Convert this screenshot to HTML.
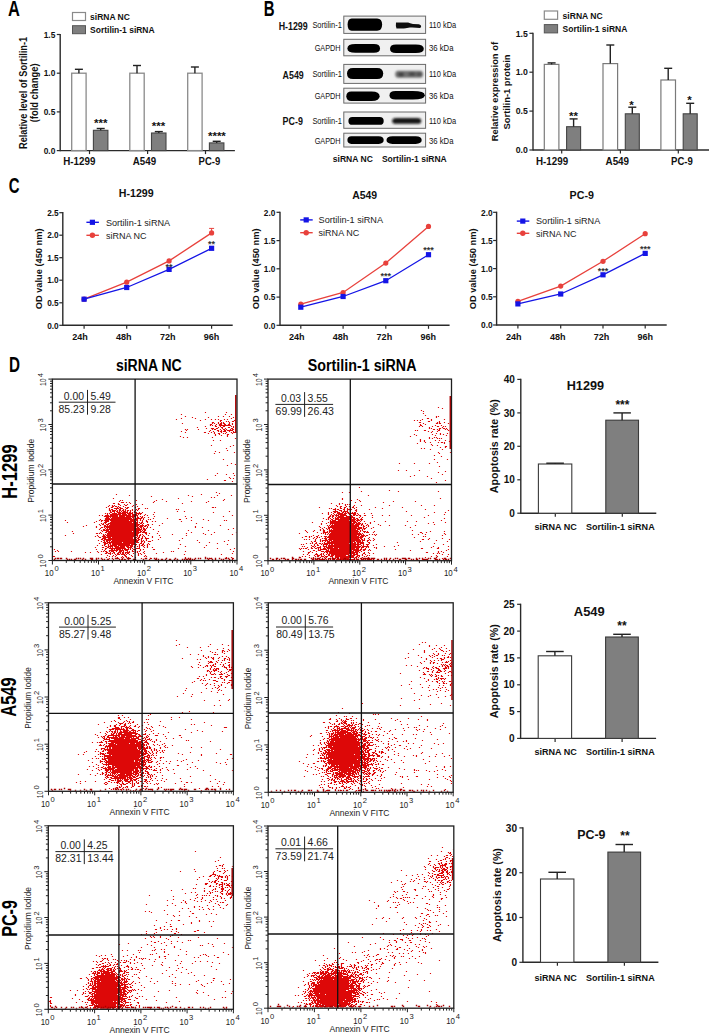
<!DOCTYPE html>
<html><head><meta charset="utf-8"><style>html,body{margin:0;padding:0;background:#fff;}svg{display:block;}</style></head>
<body><svg width="709" height="1034" viewBox="0 0 709 1034" font-family="Liberation Sans, sans-serif">
<rect width="709" height="1034" fill="#fff"/>
<text x="8.0" y="15.9" textLength="11.9" lengthAdjust="spacingAndGlyphs" font-weight="bold" font-size="21.5" fill="#000">A</text>
<rect x="72.5" y="12.5" width="13.0" height="8.0" fill="#fff" stroke="#8a8a8a" stroke-width="1.2"/>
<rect x="72.5" y="25.7" width="13.0" height="8.0" fill="#7f7f7f" stroke="#555" stroke-width="1"/>
<text x="90.1" y="19.8" textLength="39.8" lengthAdjust="spacingAndGlyphs" font-weight="bold" font-size="8.5" fill="#111">siRNA NC</text>
<text x="90.1" y="32.5" textLength="64.5" lengthAdjust="spacingAndGlyphs" font-weight="bold" font-size="8.5" fill="#111">Sortilin-1 siRNA</text>
<line x1="60.2" y1="33.9" x2="60.2" y2="151.2" stroke="#2a2a2a" stroke-width="1.4"/>
<line x1="60.2" y1="150.6" x2="234.9" y2="150.6" stroke="#2a2a2a" stroke-width="1.4"/>
<line x1="56.8" y1="150.6" x2="60.2" y2="150.6" stroke="#2a2a2a" stroke-width="1.2"/>
<text x="43.7" y="153.8" textLength="11.6" lengthAdjust="spacingAndGlyphs" font-weight="bold" font-size="9.3" fill="#111">0.0</text>
<line x1="56.8" y1="111.9" x2="60.2" y2="111.9" stroke="#2a2a2a" stroke-width="1.2"/>
<text x="43.7" y="115.1" textLength="11.6" lengthAdjust="spacingAndGlyphs" font-weight="bold" font-size="9.3" fill="#111">0.5</text>
<line x1="56.8" y1="73.2" x2="60.2" y2="73.2" stroke="#2a2a2a" stroke-width="1.2"/>
<text x="43.7" y="76.4" textLength="11.6" lengthAdjust="spacingAndGlyphs" font-weight="bold" font-size="9.3" fill="#111">1.0</text>
<line x1="56.8" y1="34.5" x2="60.2" y2="34.5" stroke="#2a2a2a" stroke-width="1.2"/>
<text x="43.7" y="37.7" textLength="11.6" lengthAdjust="spacingAndGlyphs" font-weight="bold" font-size="9.3" fill="#111">1.5</text>
<text transform="translate(27.0,149.0) rotate(-90)" x="0" y="0" textLength="112.2" lengthAdjust="spacingAndGlyphs" font-weight="bold" font-size="10.3" fill="#111">Relative level of Sortilin-1</text>
<text transform="translate(37.6,122.3) rotate(-90)" x="0" y="0" textLength="58.8" lengthAdjust="spacingAndGlyphs" font-weight="bold" font-size="10.3" fill="#111">(fold change)</text>
<line x1="89.5" y1="150.6" x2="89.5" y2="154.1" stroke="#2a2a2a" stroke-width="1.2"/>
<rect x="71.7" y="73.2" width="14.4" height="77.4" fill="#fff" stroke="#8a8a8a" stroke-width="1.3"/>
<line x1="78.9" y1="73.2" x2="78.9" y2="69.3" stroke="#222" stroke-width="1.4"/>
<line x1="74.9" y1="69.3" x2="82.9" y2="69.3" stroke="#222" stroke-width="1.4"/>
<rect x="93.4" y="130.3" width="14.5" height="20.3" fill="#7f7f7f" stroke="#444" stroke-width="1.1"/>
<line x1="100.7" y1="130.3" x2="100.7" y2="128.5" stroke="#222" stroke-width="1.4"/>
<line x1="96.7" y1="128.5" x2="104.7" y2="128.5" stroke="#222" stroke-width="1.4"/>
<line x1="147.6" y1="150.6" x2="147.6" y2="154.1" stroke="#2a2a2a" stroke-width="1.2"/>
<rect x="129.8" y="73.2" width="14.4" height="77.4" fill="#fff" stroke="#8a8a8a" stroke-width="1.3"/>
<line x1="137.0" y1="73.2" x2="137.0" y2="65.5" stroke="#222" stroke-width="1.4"/>
<line x1="133.0" y1="65.5" x2="141.0" y2="65.5" stroke="#222" stroke-width="1.4"/>
<rect x="151.5" y="133.0" width="14.5" height="17.6" fill="#7f7f7f" stroke="#444" stroke-width="1.1"/>
<line x1="158.8" y1="133.0" x2="158.8" y2="131.6" stroke="#222" stroke-width="1.4"/>
<line x1="154.8" y1="131.6" x2="162.8" y2="131.6" stroke="#222" stroke-width="1.4"/>
<line x1="205.5" y1="150.6" x2="205.5" y2="154.1" stroke="#2a2a2a" stroke-width="1.2"/>
<rect x="187.7" y="73.2" width="14.4" height="77.4" fill="#fff" stroke="#8a8a8a" stroke-width="1.3"/>
<line x1="194.9" y1="73.2" x2="194.9" y2="67.0" stroke="#222" stroke-width="1.4"/>
<line x1="190.9" y1="67.0" x2="198.9" y2="67.0" stroke="#222" stroke-width="1.4"/>
<rect x="209.4" y="142.9" width="14.5" height="7.7" fill="#7f7f7f" stroke="#444" stroke-width="1.1"/>
<line x1="216.7" y1="142.9" x2="216.7" y2="141.3" stroke="#222" stroke-width="1.4"/>
<line x1="212.7" y1="141.3" x2="220.7" y2="141.3" stroke="#222" stroke-width="1.4"/>
<text x="63.3" y="165.3" textLength="32.1" lengthAdjust="spacingAndGlyphs" font-weight="bold" font-size="10" fill="#111">H-1299</text>
<text x="132.8" y="165.3" textLength="23.3" lengthAdjust="spacingAndGlyphs" font-weight="bold" font-size="10" fill="#111">A549</text>
<text x="198.6" y="165.3" textLength="21.7" lengthAdjust="spacingAndGlyphs" font-weight="bold" font-size="10" fill="#111">PC-9</text>
<text x="100.7" y="126.5" text-anchor="middle" font-size="11.5" font-weight="bold" fill="#111">***</text>
<text x="158.5" y="130.3" text-anchor="middle" font-size="11.5" font-weight="bold" fill="#111">***</text>
<text x="216.9" y="139.6" text-anchor="middle" font-size="11.5" font-weight="bold" fill="#111">****</text>
<text x="263.7" y="15.9" textLength="10.8" lengthAdjust="spacingAndGlyphs" font-weight="bold" font-size="21.5" fill="#000">B</text>
<rect x="343.8" y="16.1" width="81.8" height="17.3" fill="#f0f0f0" stroke="#6a6a6a" stroke-width="1.0"/>
<rect x="343.8" y="39.3" width="81.8" height="16.5" fill="#f0f0f0" stroke="#6a6a6a" stroke-width="1.0"/>
<rect x="343.8" y="64.4" width="81.8" height="19.0" fill="#f0f0f0" stroke="#6a6a6a" stroke-width="1.0"/>
<rect x="343.8" y="88.2" width="81.8" height="14.9" fill="#f0f0f0" stroke="#6a6a6a" stroke-width="1.0"/>
<rect x="343.8" y="112.0" width="81.8" height="16.3" fill="#f0f0f0" stroke="#6a6a6a" stroke-width="1.0"/>
<rect x="343.8" y="133.2" width="81.8" height="13.8" fill="#f0f0f0" stroke="#6a6a6a" stroke-width="1.0"/>
<filter id="bl" x="-10%" y="-30%" width="120%" height="160%"><feGaussianBlur stdDeviation="0.55"/></filter>
<filter id="bl2" x="-10%" y="-40%" width="120%" height="180%"><feGaussianBlur stdDeviation="0.9"/></filter>
<g filter="url(#bl)">
<path d="M351.6,18.4 L377.1,18.4 Q382.1,18.4 382.1,24.6 Q382.1,30.8 377.1,30.8 L351.6,30.8 Q347.6,30.8 347.6,24.6 Q347.6,18.4 351.6,18.4Z" fill="#000"/>
<path d="M396,22.4 L408,22.6 Q410,23.6 413,24 L419,24.3 Q421.5,25 421.2,27 L420,28 Q414,27.4 410,27.6 L404,28.4 L396.5,28.5 Q395.5,25.5 396,22.4Z" fill="#111"/>
<path d="M355.4,44.1 L374.0,44.1 Q380.0,44.1 380.0,48.4 Q380.0,52.7 374.0,52.7 L355.4,52.7 Q347.4,52.7 347.4,48.4 Q347.4,44.1 355.4,44.1Z" fill="#000"/>
<path d="M396.0,44.4 L415.8,44.4 Q423.8,44.4 423.8,48.7 Q423.8,53.0 415.8,53.0 L396.0,53.0 Q390.0,53.0 390.0,48.7 Q390.0,44.4 396.0,44.4Z" fill="#000"/>
<path d="M353.0,67.9 L377.2,67.9 Q383.2,67.9 383.2,73.5 Q383.2,79.0 377.2,79.0 L353.0,79.0 Q347.0,79.0 347.0,73.5 Q347.0,67.9 353.0,67.9Z" fill="#050505"/>
<path d="M351.3,91.5 L371.6,91.5 Q379.6,91.5 379.6,96.2 Q379.6,100.9 371.6,100.9 L351.3,100.9 Q346.3,100.9 346.3,96.2 Q346.3,91.5 351.3,91.5Z" fill="#000"/>
<path d="M395.5,91.1 L412.8,91.1 Q424.8,91.1 424.8,95.3 Q424.8,99.6 412.8,99.6 L395.5,99.6 Q389.5,99.6 389.5,95.3 Q389.5,91.1 395.5,91.1Z" fill="#000"/>
<path d="M352.4,117.0 L379.7,117.0 Q383.7,117.0 383.7,120.9 Q383.7,124.8 379.7,124.8 L352.4,124.8 Q348.4,124.8 348.4,120.9 Q348.4,117.0 352.4,117.0Z" fill="#060606"/>
<path d="M392.5,136.3 L415.7,136.3 Q421.7,136.3 421.7,140.1 Q421.7,143.9 415.7,143.9 L392.5,143.9 Q386.5,143.9 386.5,140.1 Q386.5,136.3 392.5,136.3Z" fill="#000"/>
<path d="M351.4,136.3 L378.7,136.3 Q383.7,136.3 383.7,140.1 Q383.7,143.9 378.7,143.9 L351.4,143.9 Q347.4,143.9 347.4,140.1 Q347.4,136.3 351.4,136.3Z" fill="#000"/>
</g>
<g filter="url(#bl2)">
<path d="M398.2,70.8 L420.1,70.8 Q423.1,70.8 423.1,74.3 Q423.1,77.8 420.1,77.8 L398.2,77.8 Q395.2,77.8 395.2,74.3 Q395.2,70.8 398.2,70.8Z" fill="#6e6e6e"/>
<ellipse cx="401" cy="74.5" rx="3" ry="2.2" fill="#444"/><ellipse cx="412" cy="74" rx="3.5" ry="2" fill="#4a4a4a"/><ellipse cx="419" cy="74.3" rx="2.5" ry="2" fill="#505050"/>
<path d="M396.1,118.0 L417.3,118.0 Q421.3,118.0 421.3,120.9 Q421.3,123.8 417.3,123.8 L396.1,123.8 Q392.1,123.8 392.1,120.9 Q392.1,118.0 396.1,118.0Z" fill="#151515"/>
</g>
<text x="278.7" y="30.3" textLength="29.0" lengthAdjust="spacingAndGlyphs" font-weight="bold" font-size="11" fill="#111">H-1299</text>
<text x="282.6" y="78.5" textLength="21.1" lengthAdjust="spacingAndGlyphs" font-weight="bold" font-size="11" fill="#111">A549</text>
<text x="282.6" y="125.0" textLength="20.3" lengthAdjust="spacingAndGlyphs" font-weight="bold" font-size="11" fill="#111">PC-9</text>
<text x="312.4" y="28.2" textLength="29.4" lengthAdjust="spacingAndGlyphs" font-size="9.5" fill="#111">Sortilin-1</text>
<text x="429.0" y="28.2" textLength="27.2" lengthAdjust="spacingAndGlyphs" font-size="9.5" fill="#111">110 kDa</text>
<text x="314.7" y="50.9" textLength="25.9" lengthAdjust="spacingAndGlyphs" font-size="9.5" fill="#111">GAPDH</text>
<text x="429.0" y="50.9" textLength="24.5" lengthAdjust="spacingAndGlyphs" font-size="9.5" fill="#111">36 kDa</text>
<text x="312.4" y="77.1" textLength="29.4" lengthAdjust="spacingAndGlyphs" font-size="9.5" fill="#111">Sortilin-1</text>
<text x="429.0" y="77.1" textLength="27.2" lengthAdjust="spacingAndGlyphs" font-size="9.5" fill="#111">110 kDa</text>
<text x="314.7" y="99.0" textLength="25.9" lengthAdjust="spacingAndGlyphs" font-size="9.5" fill="#111">GAPDH</text>
<text x="429.0" y="99.0" textLength="24.5" lengthAdjust="spacingAndGlyphs" font-size="9.5" fill="#111">36 kDa</text>
<text x="312.4" y="123.6" textLength="29.4" lengthAdjust="spacingAndGlyphs" font-size="9.5" fill="#111">Sortilin-1</text>
<text x="429.0" y="123.6" textLength="27.2" lengthAdjust="spacingAndGlyphs" font-size="9.5" fill="#111">110 kDa</text>
<text x="314.7" y="143.5" textLength="25.9" lengthAdjust="spacingAndGlyphs" font-size="9.5" fill="#111">GAPDH</text>
<text x="429.0" y="143.5" textLength="24.5" lengthAdjust="spacingAndGlyphs" font-size="9.5" fill="#111">36 kDa</text>
<text x="332.8" y="162.3" textLength="40.0" lengthAdjust="spacingAndGlyphs" font-weight="bold" font-size="9.5" fill="#111">siRNA NC</text>
<text x="381.9" y="162.3" textLength="64.8" lengthAdjust="spacingAndGlyphs" font-weight="bold" font-size="9.5" fill="#111">Sortilin-1 siRNA</text>
<rect x="544.3" y="11.0" width="13.3" height="8.3" fill="#fff" stroke="#8a8a8a" stroke-width="1.2"/>
<rect x="544.3" y="24.6" width="13.3" height="8.3" fill="#7f7f7f" stroke="#555" stroke-width="1"/>
<text x="562.6" y="18.6" textLength="40.1" lengthAdjust="spacingAndGlyphs" font-weight="bold" font-size="8.5" fill="#111">siRNA NC</text>
<text x="562.6" y="31.8" textLength="64.7" lengthAdjust="spacingAndGlyphs" font-weight="bold" font-size="8.5" fill="#111">Sortilin-1 siRNA</text>
<line x1="533.0" y1="32.7" x2="533.0" y2="150.6" stroke="#2a2a2a" stroke-width="1.4"/>
<line x1="533.0" y1="150.0" x2="709.0" y2="150.0" stroke="#2a2a2a" stroke-width="1.4"/>
<line x1="529.4" y1="150.0" x2="533.0" y2="150.0" stroke="#2a2a2a" stroke-width="1.2"/>
<text x="515.7" y="153.2" textLength="12.1" lengthAdjust="spacingAndGlyphs" font-weight="bold" font-size="9.3" fill="#111">0.0</text>
<line x1="529.4" y1="111.1" x2="533.0" y2="111.1" stroke="#2a2a2a" stroke-width="1.2"/>
<text x="515.7" y="114.3" textLength="12.1" lengthAdjust="spacingAndGlyphs" font-weight="bold" font-size="9.3" fill="#111">0.5</text>
<line x1="529.4" y1="72.2" x2="533.0" y2="72.2" stroke="#2a2a2a" stroke-width="1.2"/>
<text x="515.7" y="75.4" textLength="12.1" lengthAdjust="spacingAndGlyphs" font-weight="bold" font-size="9.3" fill="#111">1.0</text>
<line x1="529.4" y1="33.3" x2="533.0" y2="33.3" stroke="#2a2a2a" stroke-width="1.2"/>
<text x="515.7" y="36.5" textLength="12.1" lengthAdjust="spacingAndGlyphs" font-weight="bold" font-size="9.3" fill="#111">1.5</text>
<text transform="translate(497.9,141.2) rotate(-90)" x="0" y="0" textLength="99.2" lengthAdjust="spacingAndGlyphs" font-weight="bold" font-size="9.6" fill="#111">Relative expression of</text>
<text transform="translate(509.7,129.4) rotate(-90)" x="0" y="0" textLength="75.0" lengthAdjust="spacingAndGlyphs" font-weight="bold" font-size="9.6" fill="#111">Sortilin-1 protein</text>
<line x1="561.7" y1="150.0" x2="561.7" y2="153.5" stroke="#2a2a2a" stroke-width="1.2"/>
<rect x="544.3" y="64.4" width="14.6" height="85.6" fill="#fff" stroke="#7a7a7a" stroke-width="1.2"/>
<line x1="551.6" y1="64.4" x2="551.6" y2="62.9" stroke="#222" stroke-width="1.4"/>
<line x1="547.6" y1="62.9" x2="555.6" y2="62.9" stroke="#222" stroke-width="1.4"/>
<rect x="566.6" y="126.7" width="14.0" height="23.3" fill="#7f7f7f" stroke="#444" stroke-width="1.1"/>
<line x1="573.6" y1="126.7" x2="573.6" y2="118.9" stroke="#222" stroke-width="1.4"/>
<line x1="569.6" y1="118.9" x2="577.6" y2="118.9" stroke="#222" stroke-width="1.4"/>
<line x1="620.4" y1="150.0" x2="620.4" y2="153.5" stroke="#2a2a2a" stroke-width="1.2"/>
<rect x="603.0" y="63.6" width="14.6" height="86.4" fill="#fff" stroke="#7a7a7a" stroke-width="1.2"/>
<line x1="610.3" y1="63.6" x2="610.3" y2="45.0" stroke="#222" stroke-width="1.4"/>
<line x1="606.3" y1="45.0" x2="614.3" y2="45.0" stroke="#222" stroke-width="1.4"/>
<rect x="625.3" y="113.8" width="14.0" height="36.2" fill="#7f7f7f" stroke="#444" stroke-width="1.1"/>
<line x1="632.3" y1="113.8" x2="632.3" y2="107.2" stroke="#222" stroke-width="1.4"/>
<line x1="628.3" y1="107.2" x2="636.3" y2="107.2" stroke="#222" stroke-width="1.4"/>
<line x1="678.3" y1="150.0" x2="678.3" y2="153.5" stroke="#2a2a2a" stroke-width="1.2"/>
<rect x="660.9" y="80.0" width="14.6" height="70.0" fill="#fff" stroke="#7a7a7a" stroke-width="1.2"/>
<line x1="668.2" y1="80.0" x2="668.2" y2="68.3" stroke="#222" stroke-width="1.4"/>
<line x1="664.2" y1="68.3" x2="672.2" y2="68.3" stroke="#222" stroke-width="1.4"/>
<rect x="683.2" y="113.8" width="14.0" height="36.2" fill="#7f7f7f" stroke="#444" stroke-width="1.1"/>
<line x1="690.2" y1="113.8" x2="690.2" y2="103.3" stroke="#222" stroke-width="1.4"/>
<line x1="686.2" y1="103.3" x2="694.2" y2="103.3" stroke="#222" stroke-width="1.4"/>
<text x="536.0" y="164.5" textLength="32.1" lengthAdjust="spacingAndGlyphs" font-weight="bold" font-size="10" fill="#111">H-1299</text>
<text x="605.5" y="164.5" textLength="23.6" lengthAdjust="spacingAndGlyphs" font-weight="bold" font-size="10" fill="#111">A549</text>
<text x="671.0" y="164.5" textLength="21.8" lengthAdjust="spacingAndGlyphs" font-weight="bold" font-size="10" fill="#111">PC-9</text>
<text x="573.5" y="120.1" text-anchor="middle" font-size="11.5" font-weight="bold" fill="#111">**</text>
<text x="631.4" y="108.6" text-anchor="middle" font-size="11.5" font-weight="bold" fill="#111">*</text>
<text x="689.4" y="104.1" text-anchor="middle" font-size="11.5" font-weight="bold" fill="#111">*</text>
<text x="8.7" y="193.4" textLength="10.8" lengthAdjust="spacingAndGlyphs" font-weight="bold" font-size="21.5" fill="#000">C</text>
<line x1="62.8" y1="212.1" x2="62.8" y2="326.0" stroke="#2a2a2a" stroke-width="1.4"/>
<line x1="62.8" y1="325.3" x2="232.7" y2="325.3" stroke="#2a2a2a" stroke-width="1.4"/>
<line x1="59.3" y1="325.3" x2="62.8" y2="325.3" stroke="#2a2a2a" stroke-width="1.2"/>
<text x="47.2" y="328.5" textLength="11.5" lengthAdjust="spacingAndGlyphs" font-weight="bold" font-size="9" fill="#111">0.0</text>
<line x1="59.3" y1="302.8" x2="62.8" y2="302.8" stroke="#2a2a2a" stroke-width="1.2"/>
<text x="47.2" y="306.0" textLength="11.5" lengthAdjust="spacingAndGlyphs" font-weight="bold" font-size="9" fill="#111">0.5</text>
<line x1="59.3" y1="280.2" x2="62.8" y2="280.2" stroke="#2a2a2a" stroke-width="1.2"/>
<text x="47.2" y="283.4" textLength="11.5" lengthAdjust="spacingAndGlyphs" font-weight="bold" font-size="9" fill="#111">1.0</text>
<line x1="59.3" y1="257.7" x2="62.8" y2="257.7" stroke="#2a2a2a" stroke-width="1.2"/>
<text x="47.2" y="260.9" textLength="11.5" lengthAdjust="spacingAndGlyphs" font-weight="bold" font-size="9" fill="#111">1.5</text>
<line x1="59.3" y1="235.2" x2="62.8" y2="235.2" stroke="#2a2a2a" stroke-width="1.2"/>
<text x="47.2" y="238.4" textLength="11.5" lengthAdjust="spacingAndGlyphs" font-weight="bold" font-size="9" fill="#111">2.0</text>
<line x1="59.3" y1="212.7" x2="62.8" y2="212.7" stroke="#2a2a2a" stroke-width="1.2"/>
<text x="47.2" y="215.9" textLength="11.5" lengthAdjust="spacingAndGlyphs" font-weight="bold" font-size="9" fill="#111">2.5</text>
<line x1="84.1" y1="325.3" x2="84.1" y2="328.8" stroke="#2a2a2a" stroke-width="1.2"/>
<text x="72.2" y="340.0" textLength="15.6" lengthAdjust="spacingAndGlyphs" font-weight="bold" font-size="8.8" fill="#111">24h</text>
<line x1="126.7" y1="325.3" x2="126.7" y2="328.8" stroke="#2a2a2a" stroke-width="1.2"/>
<text x="116.0" y="340.0" textLength="15.6" lengthAdjust="spacingAndGlyphs" font-weight="bold" font-size="8.8" fill="#111">48h</text>
<line x1="169.1" y1="325.3" x2="169.1" y2="328.8" stroke="#2a2a2a" stroke-width="1.2"/>
<text x="159.9" y="340.0" textLength="15.6" lengthAdjust="spacingAndGlyphs" font-weight="bold" font-size="8.8" fill="#111">72h</text>
<line x1="211.6" y1="325.3" x2="211.6" y2="328.8" stroke="#2a2a2a" stroke-width="1.2"/>
<text x="203.8" y="340.0" textLength="15.6" lengthAdjust="spacingAndGlyphs" font-weight="bold" font-size="8.8" fill="#111">96h</text>
<text x="118.8" y="197.4" textLength="34.9" lengthAdjust="spacingAndGlyphs" font-weight="bold" font-size="10.5" fill="#111">H-1299</text>
<text transform="translate(41.6,309.3) rotate(-90)" x="0" y="0" textLength="80.8" lengthAdjust="spacingAndGlyphs" font-weight="bold" font-size="9.8" fill="#111">OD value (450 nm)</text>
<line x1="86.4" y1="222.3" x2="98.9" y2="222.3" stroke="#1414e6" stroke-width="1.4"/>
<rect x="89.8" y="219.7" width="5.2" height="5.2" fill="#1414e6"/>
<line x1="86.4" y1="235.3" x2="98.9" y2="235.3" stroke="#e8413c" stroke-width="1.4"/>
<circle cx="92.4" cy="235.3" r="2.7" fill="#e8413c"/>
<text x="105.9" y="225.6" textLength="64.2" lengthAdjust="spacingAndGlyphs" font-size="9.5" fill="#222">Sortilin-1 siRNA</text>
<text x="105.9" y="238.6" textLength="40.5" lengthAdjust="spacingAndGlyphs" font-size="9.5" fill="#222">siRNA NC</text>
<polyline points="84.1,299.2 126.7,282.2 169.1,260.9 211.6,232.9" fill="none" stroke="#e8413c" stroke-width="1.3"/>
<line x1="211.6" y1="232.9" x2="211.6" y2="228.4" stroke="#e8413c" stroke-width="1.0"/>
<line x1="209.1" y1="228.4" x2="214.1" y2="228.4" stroke="#e8413c" stroke-width="1.0"/>
<circle cx="84.1" cy="299.2" r="2.6" fill="#e8413c"/>
<circle cx="126.7" cy="282.2" r="2.6" fill="#e8413c"/>
<circle cx="169.1" cy="260.9" r="2.6" fill="#e8413c"/>
<circle cx="211.6" cy="232.9" r="2.6" fill="#e8413c"/>
<polyline points="84.1,299.2 126.7,287.5 169.1,269.4 211.6,248.3" fill="none" stroke="#1414e6" stroke-width="1.3"/>
<rect x="81.5" y="296.6" width="5.2" height="5.2" fill="#1414e6"/>
<rect x="124.1" y="284.9" width="5.2" height="5.2" fill="#1414e6"/>
<rect x="166.5" y="266.8" width="5.2" height="5.2" fill="#1414e6"/>
<rect x="209.0" y="245.7" width="5.2" height="5.2" fill="#1414e6"/>
<text x="169.1" y="270.1" text-anchor="middle" font-size="9" font-weight="bold" fill="#333">**</text>
<text x="211.6" y="247.4" text-anchor="middle" font-size="9" font-weight="bold" fill="#333">**</text>
<line x1="280.0" y1="211.7" x2="280.0" y2="326.0" stroke="#2a2a2a" stroke-width="1.4"/>
<line x1="280.0" y1="325.3" x2="449.6" y2="325.3" stroke="#2a2a2a" stroke-width="1.4"/>
<line x1="276.5" y1="325.3" x2="280.0" y2="325.3" stroke="#2a2a2a" stroke-width="1.2"/>
<text x="263.8" y="328.5" textLength="11.5" lengthAdjust="spacingAndGlyphs" font-weight="bold" font-size="9" fill="#111">0.0</text>
<line x1="276.5" y1="297.1" x2="280.0" y2="297.1" stroke="#2a2a2a" stroke-width="1.2"/>
<text x="263.8" y="300.2" textLength="11.5" lengthAdjust="spacingAndGlyphs" font-weight="bold" font-size="9" fill="#111">0.5</text>
<line x1="276.5" y1="268.8" x2="280.0" y2="268.8" stroke="#2a2a2a" stroke-width="1.2"/>
<text x="263.8" y="272.0" textLength="11.5" lengthAdjust="spacingAndGlyphs" font-weight="bold" font-size="9" fill="#111">1.0</text>
<line x1="276.5" y1="240.6" x2="280.0" y2="240.6" stroke="#2a2a2a" stroke-width="1.2"/>
<text x="263.8" y="243.8" textLength="11.5" lengthAdjust="spacingAndGlyphs" font-weight="bold" font-size="9" fill="#111">1.5</text>
<line x1="276.5" y1="212.3" x2="280.0" y2="212.3" stroke="#2a2a2a" stroke-width="1.2"/>
<text x="263.8" y="215.5" textLength="11.5" lengthAdjust="spacingAndGlyphs" font-weight="bold" font-size="9" fill="#111">2.0</text>
<line x1="300.8" y1="325.3" x2="300.8" y2="328.8" stroke="#2a2a2a" stroke-width="1.2"/>
<text x="288.9" y="340.0" textLength="15.6" lengthAdjust="spacingAndGlyphs" font-weight="bold" font-size="8.8" fill="#111">24h</text>
<line x1="343.1" y1="325.3" x2="343.1" y2="328.8" stroke="#2a2a2a" stroke-width="1.2"/>
<text x="332.8" y="340.0" textLength="15.6" lengthAdjust="spacingAndGlyphs" font-weight="bold" font-size="8.8" fill="#111">48h</text>
<line x1="385.8" y1="325.3" x2="385.8" y2="328.8" stroke="#2a2a2a" stroke-width="1.2"/>
<text x="376.6" y="340.0" textLength="15.6" lengthAdjust="spacingAndGlyphs" font-weight="bold" font-size="8.8" fill="#111">72h</text>
<line x1="428.5" y1="325.3" x2="428.5" y2="328.8" stroke="#2a2a2a" stroke-width="1.2"/>
<text x="420.4" y="340.0" textLength="15.6" lengthAdjust="spacingAndGlyphs" font-weight="bold" font-size="8.8" fill="#111">96h</text>
<text x="352.2" y="199.4" textLength="25.0" lengthAdjust="spacingAndGlyphs" font-weight="bold" font-size="10.5" fill="#111">A549</text>
<text transform="translate(258.8,309.3) rotate(-90)" x="0" y="0" textLength="80.8" lengthAdjust="spacingAndGlyphs" font-weight="bold" font-size="9.8" fill="#111">OD value (450 nm)</text>
<line x1="300.2" y1="219.9" x2="312.7" y2="219.9" stroke="#1414e6" stroke-width="1.4"/>
<rect x="303.6" y="217.3" width="5.2" height="5.2" fill="#1414e6"/>
<line x1="300.2" y1="232.7" x2="312.7" y2="232.7" stroke="#e8413c" stroke-width="1.4"/>
<circle cx="306.2" cy="232.7" r="2.7" fill="#e8413c"/>
<text x="318.6" y="223.2" textLength="64.4" lengthAdjust="spacingAndGlyphs" font-size="9.5" fill="#222">Sortilin-1 siRNA</text>
<text x="318.6" y="236.0" textLength="40.6" lengthAdjust="spacingAndGlyphs" font-size="9.5" fill="#222">siRNA NC</text>
<polyline points="300.8,304.2 343.1,292.5 385.8,263.1 428.5,226.4" fill="none" stroke="#e8413c" stroke-width="1.3"/>
<circle cx="300.8" cy="304.2" r="2.6" fill="#e8413c"/>
<circle cx="343.1" cy="292.5" r="2.6" fill="#e8413c"/>
<circle cx="385.8" cy="263.1" r="2.6" fill="#e8413c"/>
<circle cx="428.5" cy="226.4" r="2.6" fill="#e8413c"/>
<polyline points="300.8,307.2 343.1,296.5 385.8,280.7 428.5,254.7" fill="none" stroke="#1414e6" stroke-width="1.3"/>
<rect x="298.2" y="304.6" width="5.2" height="5.2" fill="#1414e6"/>
<rect x="340.5" y="293.9" width="5.2" height="5.2" fill="#1414e6"/>
<rect x="383.2" y="278.1" width="5.2" height="5.2" fill="#1414e6"/>
<rect x="425.9" y="252.1" width="5.2" height="5.2" fill="#1414e6"/>
<text x="385.8" y="279.4" text-anchor="middle" font-size="9" font-weight="bold" fill="#333">***</text>
<text x="428.5" y="253.3" text-anchor="middle" font-size="9" font-weight="bold" fill="#333">***</text>
<line x1="496.6" y1="211.7" x2="496.6" y2="325.7" stroke="#2a2a2a" stroke-width="1.4"/>
<line x1="496.6" y1="325.0" x2="666.7" y2="325.0" stroke="#2a2a2a" stroke-width="1.4"/>
<line x1="493.1" y1="325.0" x2="496.6" y2="325.0" stroke="#2a2a2a" stroke-width="1.2"/>
<text x="481.0" y="328.2" textLength="11.6" lengthAdjust="spacingAndGlyphs" font-weight="bold" font-size="9" fill="#111">0.0</text>
<line x1="493.1" y1="296.8" x2="496.6" y2="296.8" stroke="#2a2a2a" stroke-width="1.2"/>
<text x="481.0" y="300.0" textLength="11.6" lengthAdjust="spacingAndGlyphs" font-weight="bold" font-size="9" fill="#111">0.5</text>
<line x1="493.1" y1="268.6" x2="496.6" y2="268.6" stroke="#2a2a2a" stroke-width="1.2"/>
<text x="481.0" y="271.8" textLength="11.6" lengthAdjust="spacingAndGlyphs" font-weight="bold" font-size="9" fill="#111">1.0</text>
<line x1="493.1" y1="240.5" x2="496.6" y2="240.5" stroke="#2a2a2a" stroke-width="1.2"/>
<text x="481.0" y="243.7" textLength="11.6" lengthAdjust="spacingAndGlyphs" font-weight="bold" font-size="9" fill="#111">1.5</text>
<line x1="493.1" y1="212.3" x2="496.6" y2="212.3" stroke="#2a2a2a" stroke-width="1.2"/>
<text x="481.0" y="215.5" textLength="11.6" lengthAdjust="spacingAndGlyphs" font-weight="bold" font-size="9" fill="#111">2.0</text>
<line x1="517.9" y1="325.0" x2="517.9" y2="328.5" stroke="#2a2a2a" stroke-width="1.2"/>
<text x="506.0" y="339.7" textLength="15.6" lengthAdjust="spacingAndGlyphs" font-weight="bold" font-size="8.8" fill="#111">24h</text>
<line x1="560.7" y1="325.0" x2="560.7" y2="328.5" stroke="#2a2a2a" stroke-width="1.2"/>
<text x="549.9" y="339.7" textLength="15.6" lengthAdjust="spacingAndGlyphs" font-weight="bold" font-size="8.8" fill="#111">48h</text>
<line x1="603.0" y1="325.0" x2="603.0" y2="328.5" stroke="#2a2a2a" stroke-width="1.2"/>
<text x="593.7" y="339.7" textLength="15.6" lengthAdjust="spacingAndGlyphs" font-weight="bold" font-size="8.8" fill="#111">72h</text>
<line x1="645.2" y1="325.0" x2="645.2" y2="328.5" stroke="#2a2a2a" stroke-width="1.2"/>
<text x="637.5" y="339.7" textLength="15.6" lengthAdjust="spacingAndGlyphs" font-weight="bold" font-size="8.8" fill="#111">96h</text>
<text x="569.6" y="199.4" textLength="24.3" lengthAdjust="spacingAndGlyphs" font-weight="bold" font-size="10.5" fill="#111">PC-9</text>
<text transform="translate(475.7,309.3) rotate(-90)" x="0" y="0" textLength="80.8" lengthAdjust="spacingAndGlyphs" font-weight="bold" font-size="9.8" fill="#111">OD value (450 nm)</text>
<line x1="516.8" y1="221.1" x2="529.3" y2="221.1" stroke="#1414e6" stroke-width="1.4"/>
<rect x="520.2" y="218.5" width="5.2" height="5.2" fill="#1414e6"/>
<line x1="516.8" y1="233.3" x2="529.3" y2="233.3" stroke="#e8413c" stroke-width="1.4"/>
<circle cx="522.8" cy="233.3" r="2.7" fill="#e8413c"/>
<text x="536.0" y="224.4" textLength="64.2" lengthAdjust="spacingAndGlyphs" font-size="9.5" fill="#222">Sortilin-1 siRNA</text>
<text x="536.0" y="236.6" textLength="40.5" lengthAdjust="spacingAndGlyphs" font-size="9.5" fill="#222">siRNA NC</text>
<polyline points="517.9,301.3 560.7,286.1 603.0,261.3 645.2,233.7" fill="none" stroke="#e8413c" stroke-width="1.3"/>
<circle cx="517.9" cy="301.3" r="2.6" fill="#e8413c"/>
<circle cx="560.7" cy="286.1" r="2.6" fill="#e8413c"/>
<circle cx="603.0" cy="261.3" r="2.6" fill="#e8413c"/>
<circle cx="645.2" cy="233.7" r="2.6" fill="#e8413c"/>
<polyline points="517.9,303.9 560.7,294.0 603.0,274.8 645.2,253.4" fill="none" stroke="#1414e6" stroke-width="1.3"/>
<rect x="515.3" y="301.3" width="5.2" height="5.2" fill="#1414e6"/>
<rect x="558.1" y="291.4" width="5.2" height="5.2" fill="#1414e6"/>
<rect x="600.4" y="272.2" width="5.2" height="5.2" fill="#1414e6"/>
<rect x="642.6" y="250.8" width="5.2" height="5.2" fill="#1414e6"/>
<text x="603.0" y="273.9" text-anchor="middle" font-size="9" font-weight="bold" fill="#333">***</text>
<text x="645.2" y="251.7" text-anchor="middle" font-size="9" font-weight="bold" fill="#333">***</text>
<text x="8.9" y="371.8" textLength="11.0" lengthAdjust="spacingAndGlyphs" font-weight="bold" font-size="21.5" fill="#000">D</text>
<text x="115.9" y="370.9" textLength="65.8" lengthAdjust="spacingAndGlyphs" font-weight="bold" font-size="16.8" fill="#000">siRNA NC</text>
<text x="307.8" y="370.9" textLength="108.7" lengthAdjust="spacingAndGlyphs" font-weight="bold" font-size="16.8" fill="#000">Sortilin-1 siRNA</text>
<text transform="translate(16.6,498.7) rotate(-90)" x="0" y="0" textLength="54.4" lengthAdjust="spacingAndGlyphs" font-weight="bold" font-size="21.5" fill="#000">H-1299</text>
<text transform="translate(16.4,716.8) rotate(-90)" x="0" y="0" textLength="39.5" lengthAdjust="spacingAndGlyphs" font-weight="bold" font-size="21.5" fill="#000">A549</text>
<text transform="translate(16.7,936.8) rotate(-90)" x="0" y="0" textLength="36.7" lengthAdjust="spacingAndGlyphs" font-weight="bold" font-size="21.5" fill="#000">PC-9</text>
<clipPath id="c1"><rect x="53.0" y="379.7" width="183.4" height="180.2"/></clipPath>
<g clip-path="url(#c1)">
<path d="M53 556h1.15M54 549h1.15M54 556h1.15M55 551h1.15M57 550h1.15M58 551h1.15M65 520h1.15M65 535h1.15M67 522h1.15M71 551h1.15M72 531h1.15M73 533h1.15M83 526h1.15M85 552h1.15M86 525h1.15M90 552h1.15M94 522h1.15M95 536h1.15M95 547h1.15M96 521h1.15M96 526h1.15M96 527h1.15M96 533h1.15M96 549h1.15M97 533h1.15M97 535h1.15M97 545h1.15M97 551h1.15M98 536h1.15M98 540h1.15M98 552h1.15M99 515h1.15M99 520h1.15M99 524h1.15M99 529h1.15M99 533h1.15M99 537h1.15M99 543h1.15M100 519h1.15M100 525h1.15M100 528h1.15M100 532h1.15M100 537h1.15M101 520h1.15M101 521h1.15M101 523h1.15M101 527h1.15M101 530h1.15M101 533h1.15M101 539h1.15M101 541h1.15M101 551h1.15M101 554h1.15M102 515h1.15M102 520h1.15M102 524h1.15M102 527h1.15M102 531h1.15M102 536h1.15M102 538h1.15M102 539h1.15M102 545h1.15M102 547h1.15M102 549h1.15M103 523h1.15M103 524h1.15M103 529h1.15M103 530h1.15M103 534h1.15M103 535h1.15M103 536h1.15M103 537h1.15M103 538h1.15M103 540h1.15M103 542h1.15M103 547h1.15M103 551h1.15M104 516h1.15M104 520h1.15M104 522h1.15M104 525h1.15M104 526h1.15M104 527h1.15M104 529h1.15M104 530h1.15M104 535h1.15M104 536h1.15M104 537h1.15M104 538h1.15M104 539h1.15M104 540h1.15M104 541h1.15M104 542h1.15M104 543h1.15M104 544h1.15M104 545h1.15M104 550h1.15M105 513h1.15M105 515h1.15M105 516h1.15M105 518h1.15M105 519h1.15M105 520h1.15M105 521h1.15M105 522h1.15M105 523h1.15M105 525h1.15M105 526h1.15M105 528h1.15M105 530h1.15M105 532h1.15M105 534h1.15M105 536h1.15M105 537h1.15M105 538h1.15M105 539h1.15M105 542h1.15M105 543h1.15M105 544h1.15M105 546h1.15M105 548h1.15M105 549h1.15M105 551h1.15M105 553h1.15M106 507h1.15M106 515h1.15M106 516h1.15M106 517h1.15M106 518h1.15M106 519h1.15M106 520h1.15M106 521h1.15M106 522h1.15M106 524h1.15M106 526h1.15M106 527h1.15M106 529h1.15M106 530h1.15M106 531h1.15M106 532h1.15M106 535h1.15M106 537h1.15M106 539h1.15M106 540h1.15M106 541h1.15M106 543h1.15M106 546h1.15M106 548h1.15M106 551h1.15M106 552h1.15M106 553h1.15M106 557h1.15M107 513h1.15M107 514h1.15M107 515h1.15M107 516h1.15M107 517h1.15M107 518h1.15M107 519h1.15M107 520h1.15M107 521h1.15M107 524h1.15M107 525h1.15M107 526h1.15M107 527h1.15M107 528h1.15M107 529h1.15M107 530h1.15M107 531h1.15M107 533h1.15M107 534h1.15M107 535h1.15M107 536h1.15M107 537h1.15M107 539h1.15M107 540h1.15M107 541h1.15M107 542h1.15M107 543h1.15M107 547h1.15M107 552h1.15M107 555h1.15M108 506h1.15M108 515h1.15M108 516h1.15M108 517h1.15M108 518h1.15M108 519h1.15M108 520h1.15M108 521h1.15M108 523h1.15M108 524h1.15M108 526h1.15M108 527h1.15M108 529h1.15M108 530h1.15M108 531h1.15M108 532h1.15M108 533h1.15M108 534h1.15M108 535h1.15M108 536h1.15M108 537h1.15M108 538h1.15M108 539h1.15M108 540h1.15M108 542h1.15M108 544h1.15M108 545h1.15M108 546h1.15M108 547h1.15M108 553h1.15M109 505h1.15M109 508h1.15M109 509h1.15M109 510h1.15M109 513h1.15M109 516h1.15M109 518h1.15M109 519h1.15M109 523h1.15M109 525h1.15M109 526h1.15M109 527h1.15M109 528h1.15M109 529h1.15M109 531h1.15M109 532h1.15M109 533h1.15M109 534h1.15M109 535h1.15M109 536h1.15M109 537h1.15M109 538h1.15M109 539h1.15M109 540h1.15M109 541h1.15M109 542h1.15M109 543h1.15M109 546h1.15M109 548h1.15M109 550h1.15M109 551h1.15M109 553h1.15M109 556h1.15M109 558h1.15M110 510h1.15M110 511h1.15M110 512h1.15M110 514h1.15M110 515h1.15M110 516h1.15M110 517h1.15M110 519h1.15M110 520h1.15M110 522h1.15M110 523h1.15M110 524h1.15M110 525h1.15M110 526h1.15M110 527h1.15M110 528h1.15M110 529h1.15M110 530h1.15M110 531h1.15M110 532h1.15M110 533h1.15M110 534h1.15M110 535h1.15M110 536h1.15M110 537h1.15M110 538h1.15M110 539h1.15M110 540h1.15M110 542h1.15M110 543h1.15M110 544h1.15M110 545h1.15M110 546h1.15M110 547h1.15M110 548h1.15M110 550h1.15M110 552h1.15M110 553h1.15M110 554h1.15M111 507h1.15M111 509h1.15M111 512h1.15M111 514h1.15M111 515h1.15M111 516h1.15M111 518h1.15M111 519h1.15M111 520h1.15M111 521h1.15M111 522h1.15M111 523h1.15M111 524h1.15M111 525h1.15M111 526h1.15M111 527h1.15M111 528h1.15M111 529h1.15M111 530h1.15M111 531h1.15M111 532h1.15M111 533h1.15M111 534h1.15M111 535h1.15M111 536h1.15M111 538h1.15M111 539h1.15M111 541h1.15M111 542h1.15M111 545h1.15M111 546h1.15M111 548h1.15M111 549h1.15M111 550h1.15M111 551h1.15M112 505h1.15M112 506h1.15M112 507h1.15M112 509h1.15M112 510h1.15M112 511h1.15M112 513h1.15M112 514h1.15M112 515h1.15M112 516h1.15M112 517h1.15M112 518h1.15M112 519h1.15M112 520h1.15M112 521h1.15M112 522h1.15M112 523h1.15M112 524h1.15M112 525h1.15M112 526h1.15M112 527h1.15M112 528h1.15M112 529h1.15M112 530h1.15M112 531h1.15M112 532h1.15M112 533h1.15M112 534h1.15M112 535h1.15M112 536h1.15M112 537h1.15M112 538h1.15M112 539h1.15M112 540h1.15M112 541h1.15M112 542h1.15M112 543h1.15M112 544h1.15M112 545h1.15M112 546h1.15M112 547h1.15M112 548h1.15M112 549h1.15M112 550h1.15M112 551h1.15M112 553h1.15M112 556h1.15M113 498h1.15M113 503h1.15M113 506h1.15M113 510h1.15M113 511h1.15M113 513h1.15M113 514h1.15M113 515h1.15M113 516h1.15M113 517h1.15M113 518h1.15M113 519h1.15M113 520h1.15M113 521h1.15M113 522h1.15M113 523h1.15M113 524h1.15M113 525h1.15M113 526h1.15M113 527h1.15M113 528h1.15M113 529h1.15M113 530h1.15M113 531h1.15M113 532h1.15M113 533h1.15M113 534h1.15M113 535h1.15M113 536h1.15M113 537h1.15M113 538h1.15M113 539h1.15M113 540h1.15M113 541h1.15M113 542h1.15M113 543h1.15M113 544h1.15M113 545h1.15M113 548h1.15M113 550h1.15M113 551h1.15M113 552h1.15M113 555h1.15M113 559h1.15M114 503h1.15M114 505h1.15M114 508h1.15M114 510h1.15M114 511h1.15M114 512h1.15M114 513h1.15M114 514h1.15M114 515h1.15M114 516h1.15M114 517h1.15M114 518h1.15M114 519h1.15M114 520h1.15M114 521h1.15M114 522h1.15M114 523h1.15M114 524h1.15M114 525h1.15M114 526h1.15M114 527h1.15M114 528h1.15M114 529h1.15M114 530h1.15M114 531h1.15M114 532h1.15M114 533h1.15M114 534h1.15M114 535h1.15M114 536h1.15M114 537h1.15M114 538h1.15M114 539h1.15M114 540h1.15M114 541h1.15M114 542h1.15M114 543h1.15M114 544h1.15M114 545h1.15M114 546h1.15M114 548h1.15M114 549h1.15M114 550h1.15M114 552h1.15M114 553h1.15M115 506h1.15M115 508h1.15M115 510h1.15M115 513h1.15M115 514h1.15M115 515h1.15M115 516h1.15M115 517h1.15M115 518h1.15M115 519h1.15M115 520h1.15M115 521h1.15M115 522h1.15M115 523h1.15M115 524h1.15M115 525h1.15M115 526h1.15M115 527h1.15M115 528h1.15M115 529h1.15M115 530h1.15M115 531h1.15M115 532h1.15M115 533h1.15M115 534h1.15M115 535h1.15M115 536h1.15M115 537h1.15M115 538h1.15M115 539h1.15M115 540h1.15M115 541h1.15M115 542h1.15M115 543h1.15M115 544h1.15M115 545h1.15M115 546h1.15M115 547h1.15M115 548h1.15M115 550h1.15M115 554h1.15M115 556h1.15M116 494h1.15M116 506h1.15M116 508h1.15M116 509h1.15M116 511h1.15M116 513h1.15M116 514h1.15M116 515h1.15M116 516h1.15M116 517h1.15M116 518h1.15M116 519h1.15M116 520h1.15M116 521h1.15M116 522h1.15M116 523h1.15M116 524h1.15M116 525h1.15M116 526h1.15M116 527h1.15M116 528h1.15M116 529h1.15M116 530h1.15M116 531h1.15M116 532h1.15M116 533h1.15M116 534h1.15M116 535h1.15M116 536h1.15M116 537h1.15M116 538h1.15M116 539h1.15M116 540h1.15M116 541h1.15M116 542h1.15M116 543h1.15M116 544h1.15M116 545h1.15M116 546h1.15M116 547h1.15M116 548h1.15M116 549h1.15M116 550h1.15M116 551h1.15M116 555h1.15M117 507h1.15M117 508h1.15M117 510h1.15M117 511h1.15M117 512h1.15M117 514h1.15M117 515h1.15M117 516h1.15M117 517h1.15M117 518h1.15M117 519h1.15M117 520h1.15M117 521h1.15M117 522h1.15M117 523h1.15M117 524h1.15M117 525h1.15M117 526h1.15M117 527h1.15M117 528h1.15M117 529h1.15M117 530h1.15M117 531h1.15M117 532h1.15M117 533h1.15M117 534h1.15M117 535h1.15M117 536h1.15M117 537h1.15M117 538h1.15M117 539h1.15M117 540h1.15M117 541h1.15M117 542h1.15M117 543h1.15M117 544h1.15M117 546h1.15M117 547h1.15M117 548h1.15M117 549h1.15M117 550h1.15M117 553h1.15M117 554h1.15M117 557h1.15M117 558h1.15M118 503h1.15M118 504h1.15M118 506h1.15M118 508h1.15M118 512h1.15M118 513h1.15M118 514h1.15M118 517h1.15M118 518h1.15M118 519h1.15M118 520h1.15M118 521h1.15M118 522h1.15M118 523h1.15M118 524h1.15M118 525h1.15M118 526h1.15M118 527h1.15M118 528h1.15M118 529h1.15M118 530h1.15M118 531h1.15M118 532h1.15M118 533h1.15M118 534h1.15M118 535h1.15M118 536h1.15M118 537h1.15M118 538h1.15M118 539h1.15M118 540h1.15M118 541h1.15M118 542h1.15M118 543h1.15M118 544h1.15M118 545h1.15M118 546h1.15M118 547h1.15M118 548h1.15M118 549h1.15M118 552h1.15M118 553h1.15M118 554h1.15M118 558h1.15M119 501h1.15M119 504h1.15M119 507h1.15M119 509h1.15M119 510h1.15M119 511h1.15M119 512h1.15M119 513h1.15M119 514h1.15M119 515h1.15M119 516h1.15M119 517h1.15M119 518h1.15M119 519h1.15M119 520h1.15M119 521h1.15M119 522h1.15M119 523h1.15M119 524h1.15M119 525h1.15M119 526h1.15M119 527h1.15M119 528h1.15M119 529h1.15M119 530h1.15M119 531h1.15M119 532h1.15M119 533h1.15M119 534h1.15M119 535h1.15M119 536h1.15M119 537h1.15M119 538h1.15M119 539h1.15M119 540h1.15M119 541h1.15M119 542h1.15M119 543h1.15M119 544h1.15M119 545h1.15M119 547h1.15M119 548h1.15M119 549h1.15M119 550h1.15M119 551h1.15M119 552h1.15M119 554h1.15M120 500h1.15M120 505h1.15M120 507h1.15M120 508h1.15M120 509h1.15M120 510h1.15M120 512h1.15M120 513h1.15M120 514h1.15M120 515h1.15M120 516h1.15M120 517h1.15M120 518h1.15M120 519h1.15M120 520h1.15M120 521h1.15M120 522h1.15M120 523h1.15M120 524h1.15M120 525h1.15M120 526h1.15M120 527h1.15M120 528h1.15M120 529h1.15M120 530h1.15M120 531h1.15M120 532h1.15M120 533h1.15M120 534h1.15M120 535h1.15M120 536h1.15M120 537h1.15M120 538h1.15M120 539h1.15M120 540h1.15M120 541h1.15M120 542h1.15M120 543h1.15M120 544h1.15M120 545h1.15M120 546h1.15M120 547h1.15M120 548h1.15M120 549h1.15M120 550h1.15M120 551h1.15M120 552h1.15M120 553h1.15M121 502h1.15M121 508h1.15M121 511h1.15M121 513h1.15M121 515h1.15M121 516h1.15M121 517h1.15M121 518h1.15M121 519h1.15M121 520h1.15M121 521h1.15M121 522h1.15M121 523h1.15M121 524h1.15M121 525h1.15M121 526h1.15M121 527h1.15M121 528h1.15M121 529h1.15M121 530h1.15M121 531h1.15M121 532h1.15M121 533h1.15M121 534h1.15M121 535h1.15M121 536h1.15M121 537h1.15M121 538h1.15M121 539h1.15M121 540h1.15M121 541h1.15M121 542h1.15M121 543h1.15M121 544h1.15M121 545h1.15M121 546h1.15M121 547h1.15M121 548h1.15M121 550h1.15M121 551h1.15M121 554h1.15M121 557h1.15M121 559h1.15M122 500h1.15M122 502h1.15M122 508h1.15M122 510h1.15M122 512h1.15M122 513h1.15M122 514h1.15M122 515h1.15M122 516h1.15M122 517h1.15M122 518h1.15M122 519h1.15M122 520h1.15M122 521h1.15M122 522h1.15M122 523h1.15M122 524h1.15M122 525h1.15M122 526h1.15M122 527h1.15M122 528h1.15M122 529h1.15M122 530h1.15M122 531h1.15M122 532h1.15M122 533h1.15M122 534h1.15M122 535h1.15M122 536h1.15M122 537h1.15M122 538h1.15M122 539h1.15M122 540h1.15M122 541h1.15M122 543h1.15M122 544h1.15M122 545h1.15M122 546h1.15M122 547h1.15M122 548h1.15M122 549h1.15M122 550h1.15M122 552h1.15M122 553h1.15M122 554h1.15M122 556h1.15M122 558h1.15M123 502h1.15M123 506h1.15M123 509h1.15M123 510h1.15M123 511h1.15M123 512h1.15M123 513h1.15M123 514h1.15M123 515h1.15M123 516h1.15M123 517h1.15M123 518h1.15M123 519h1.15M123 520h1.15M123 521h1.15M123 522h1.15M123 523h1.15M123 524h1.15M123 525h1.15M123 526h1.15M123 527h1.15M123 528h1.15M123 529h1.15M123 530h1.15M123 531h1.15M123 532h1.15M123 533h1.15M123 534h1.15M123 535h1.15M123 536h1.15M123 537h1.15M123 538h1.15M123 539h1.15M123 540h1.15M123 541h1.15M123 542h1.15M123 543h1.15M123 544h1.15M123 545h1.15M123 546h1.15M123 547h1.15M123 548h1.15M123 550h1.15M123 551h1.15M123 552h1.15M123 553h1.15M123 554h1.15M123 557h1.15M124 504h1.15M124 511h1.15M124 512h1.15M124 513h1.15M124 514h1.15M124 515h1.15M124 516h1.15M124 517h1.15M124 518h1.15M124 519h1.15M124 520h1.15M124 521h1.15M124 522h1.15M124 523h1.15M124 524h1.15M124 525h1.15M124 526h1.15M124 527h1.15M124 528h1.15M124 529h1.15M124 530h1.15M124 531h1.15M124 532h1.15M124 533h1.15M124 534h1.15M124 535h1.15M124 536h1.15M124 537h1.15M124 538h1.15M124 539h1.15M124 540h1.15M124 541h1.15M124 542h1.15M124 543h1.15M124 544h1.15M124 545h1.15M124 546h1.15M124 547h1.15M124 548h1.15M124 549h1.15M124 554h1.15M124 555h1.15M125 505h1.15M125 507h1.15M125 509h1.15M125 510h1.15M125 511h1.15M125 512h1.15M125 513h1.15M125 514h1.15M125 515h1.15M125 517h1.15M125 518h1.15M125 519h1.15M125 520h1.15M125 521h1.15M125 522h1.15M125 523h1.15M125 524h1.15M125 525h1.15M125 526h1.15M125 527h1.15M125 528h1.15M125 529h1.15M125 530h1.15M125 531h1.15M125 532h1.15M125 533h1.15M125 534h1.15M125 535h1.15M125 536h1.15M125 537h1.15M125 538h1.15M125 539h1.15M125 540h1.15M125 541h1.15M125 542h1.15M125 543h1.15M125 544h1.15M125 545h1.15M125 548h1.15M125 549h1.15M125 550h1.15M125 552h1.15M125 553h1.15M125 555h1.15M125 556h1.15M125 559h1.15M126 502h1.15M126 505h1.15M126 508h1.15M126 512h1.15M126 514h1.15M126 515h1.15M126 516h1.15M126 517h1.15M126 518h1.15M126 519h1.15M126 520h1.15M126 521h1.15M126 522h1.15M126 523h1.15M126 524h1.15M126 525h1.15M126 526h1.15M126 527h1.15M126 528h1.15M126 529h1.15M126 530h1.15M126 531h1.15M126 532h1.15M126 533h1.15M126 534h1.15M126 535h1.15M126 536h1.15M126 537h1.15M126 538h1.15M126 539h1.15M126 540h1.15M126 541h1.15M126 542h1.15M126 543h1.15M126 544h1.15M126 545h1.15M126 546h1.15M126 549h1.15M126 550h1.15M126 552h1.15M126 554h1.15M126 556h1.15M126 557h1.15M127 504h1.15M127 507h1.15M127 508h1.15M127 510h1.15M127 511h1.15M127 512h1.15M127 513h1.15M127 515h1.15M127 516h1.15M127 517h1.15M127 518h1.15M127 519h1.15M127 520h1.15M127 521h1.15M127 522h1.15M127 523h1.15M127 524h1.15M127 525h1.15M127 526h1.15M127 527h1.15M127 528h1.15M127 529h1.15M127 530h1.15M127 531h1.15M127 532h1.15M127 533h1.15M127 534h1.15M127 535h1.15M127 536h1.15M127 537h1.15M127 538h1.15M127 539h1.15M127 540h1.15M127 541h1.15M127 542h1.15M127 543h1.15M127 544h1.15M127 545h1.15M127 546h1.15M127 547h1.15M127 549h1.15M127 550h1.15M127 551h1.15M127 552h1.15M127 553h1.15M128 507h1.15M128 510h1.15M128 513h1.15M128 514h1.15M128 515h1.15M128 516h1.15M128 517h1.15M128 518h1.15M128 519h1.15M128 520h1.15M128 521h1.15M128 522h1.15M128 523h1.15M128 524h1.15M128 525h1.15M128 526h1.15M128 527h1.15M128 528h1.15M128 529h1.15M128 530h1.15M128 531h1.15M128 532h1.15M128 533h1.15M128 534h1.15M128 535h1.15M128 536h1.15M128 537h1.15M128 538h1.15M128 539h1.15M128 540h1.15M128 541h1.15M128 542h1.15M128 543h1.15M128 544h1.15M128 545h1.15M128 546h1.15M128 547h1.15M128 548h1.15M128 549h1.15M128 552h1.15M128 553h1.15M128 557h1.15M128 559h1.15M129 495h1.15M129 502h1.15M129 512h1.15M129 513h1.15M129 514h1.15M129 515h1.15M129 516h1.15M129 517h1.15M129 518h1.15M129 519h1.15M129 521h1.15M129 522h1.15M129 523h1.15M129 524h1.15M129 525h1.15M129 526h1.15M129 527h1.15M129 528h1.15M129 529h1.15M129 530h1.15M129 531h1.15M129 532h1.15M129 533h1.15M129 534h1.15M129 535h1.15M129 536h1.15M129 537h1.15M129 538h1.15M129 539h1.15M129 540h1.15M129 541h1.15M129 542h1.15M129 543h1.15M129 544h1.15M129 545h1.15M129 547h1.15M129 551h1.15M129 552h1.15M129 554h1.15M130 503h1.15M130 510h1.15M130 511h1.15M130 512h1.15M130 513h1.15M130 514h1.15M130 515h1.15M130 516h1.15M130 517h1.15M130 518h1.15M130 519h1.15M130 520h1.15M130 521h1.15M130 522h1.15M130 523h1.15M130 524h1.15M130 525h1.15M130 526h1.15M130 527h1.15M130 528h1.15M130 529h1.15M130 530h1.15M130 531h1.15M130 532h1.15M130 533h1.15M130 534h1.15M130 535h1.15M130 536h1.15M130 537h1.15M130 538h1.15M130 539h1.15M130 540h1.15M130 541h1.15M130 542h1.15M130 543h1.15M130 545h1.15M130 546h1.15M130 547h1.15M130 548h1.15M130 549h1.15M130 558h1.15M131 513h1.15M131 516h1.15M131 518h1.15M131 519h1.15M131 520h1.15M131 521h1.15M131 522h1.15M131 523h1.15M131 524h1.15M131 525h1.15M131 526h1.15M131 527h1.15M131 528h1.15M131 529h1.15M131 530h1.15M131 531h1.15M131 532h1.15M131 533h1.15M131 534h1.15M131 535h1.15M131 536h1.15M131 537h1.15M131 538h1.15M131 539h1.15M131 540h1.15M131 541h1.15M131 542h1.15M131 543h1.15M131 544h1.15M131 545h1.15M131 546h1.15M131 547h1.15M131 555h1.15M132 506h1.15M132 509h1.15M132 510h1.15M132 512h1.15M132 513h1.15M132 514h1.15M132 515h1.15M132 516h1.15M132 517h1.15M132 519h1.15M132 520h1.15M132 521h1.15M132 523h1.15M132 524h1.15M132 525h1.15M132 526h1.15M132 527h1.15M132 528h1.15M132 529h1.15M132 530h1.15M132 532h1.15M132 533h1.15M132 534h1.15M132 535h1.15M132 536h1.15M132 537h1.15M132 538h1.15M132 539h1.15M132 540h1.15M132 541h1.15M132 542h1.15M132 543h1.15M132 544h1.15M132 545h1.15M132 546h1.15M132 548h1.15M132 550h1.15M132 551h1.15M132 556h1.15M133 505h1.15M133 514h1.15M133 515h1.15M133 516h1.15M133 517h1.15M133 518h1.15M133 519h1.15M133 520h1.15M133 521h1.15M133 522h1.15M133 523h1.15M133 524h1.15M133 525h1.15M133 526h1.15M133 527h1.15M133 528h1.15M133 529h1.15M133 530h1.15M133 531h1.15M133 532h1.15M133 533h1.15M133 534h1.15M133 535h1.15M133 536h1.15M133 539h1.15M133 540h1.15M133 541h1.15M133 542h1.15M133 543h1.15M133 544h1.15M133 549h1.15M133 551h1.15M133 553h1.15M134 511h1.15M134 512h1.15M134 514h1.15M134 515h1.15M134 516h1.15M134 519h1.15M134 520h1.15M134 521h1.15M134 522h1.15M134 523h1.15M134 524h1.15M134 525h1.15M134 526h1.15M134 527h1.15M134 528h1.15M134 529h1.15M134 530h1.15M134 531h1.15M134 532h1.15M134 533h1.15M134 534h1.15M134 535h1.15M134 536h1.15M134 537h1.15M134 538h1.15M134 539h1.15M134 540h1.15M134 541h1.15M134 542h1.15M134 543h1.15M134 544h1.15M134 546h1.15M134 547h1.15M134 549h1.15M135 507h1.15M135 510h1.15M135 512h1.15M135 514h1.15M135 515h1.15M135 516h1.15M135 517h1.15M135 518h1.15M135 519h1.15M135 521h1.15M135 522h1.15M135 523h1.15M135 524h1.15M135 525h1.15M135 526h1.15M135 527h1.15M135 528h1.15M135 529h1.15M135 530h1.15M135 531h1.15M135 532h1.15M135 533h1.15M135 534h1.15M135 535h1.15M135 537h1.15M135 538h1.15M135 539h1.15M135 540h1.15M135 541h1.15M135 544h1.15M135 545h1.15M135 549h1.15M135 550h1.15M135 551h1.15M135 552h1.15M135 557h1.15M136 500h1.15M136 504h1.15M136 509h1.15M136 512h1.15M136 513h1.15M136 514h1.15M136 515h1.15M136 518h1.15M136 519h1.15M136 520h1.15M136 522h1.15M136 523h1.15M136 524h1.15M136 525h1.15M136 526h1.15M136 528h1.15M136 529h1.15M136 530h1.15M136 531h1.15M136 532h1.15M136 533h1.15M136 534h1.15M136 535h1.15M136 537h1.15M136 539h1.15M136 540h1.15M136 541h1.15M136 542h1.15M136 544h1.15M136 548h1.15M137 506h1.15M137 510h1.15M137 513h1.15M137 515h1.15M137 516h1.15M137 517h1.15M137 518h1.15M137 519h1.15M137 520h1.15M137 521h1.15M137 522h1.15M137 523h1.15M137 524h1.15M137 525h1.15M137 526h1.15M137 527h1.15M137 528h1.15M137 529h1.15M137 530h1.15M137 531h1.15M137 532h1.15M137 533h1.15M137 534h1.15M137 535h1.15M137 536h1.15M137 538h1.15M137 540h1.15M137 541h1.15M137 542h1.15M137 546h1.15M137 548h1.15M137 551h1.15M137 552h1.15M138 508h1.15M138 509h1.15M138 513h1.15M138 514h1.15M138 517h1.15M138 518h1.15M138 524h1.15M138 525h1.15M138 527h1.15M138 528h1.15M138 529h1.15M138 530h1.15M138 531h1.15M138 532h1.15M138 533h1.15M138 537h1.15M138 538h1.15M138 539h1.15M138 540h1.15M138 542h1.15M138 548h1.15M138 553h1.15M138 554h1.15M138 555h1.15M139 508h1.15M139 512h1.15M139 513h1.15M139 518h1.15M139 522h1.15M139 524h1.15M139 526h1.15M139 528h1.15M139 529h1.15M139 530h1.15M139 532h1.15M139 535h1.15M139 536h1.15M139 537h1.15M139 539h1.15M139 544h1.15M139 545h1.15M139 546h1.15M139 547h1.15M139 548h1.15M139 551h1.15M140 513h1.15M140 514h1.15M140 516h1.15M140 518h1.15M140 519h1.15M140 520h1.15M140 523h1.15M140 525h1.15M140 526h1.15M140 527h1.15M140 529h1.15M140 530h1.15M140 531h1.15M140 532h1.15M140 534h1.15M140 535h1.15M140 543h1.15M140 549h1.15M140 550h1.15M140 553h1.15M141 513h1.15M141 517h1.15M141 518h1.15M141 522h1.15M141 523h1.15M141 525h1.15M141 526h1.15M141 527h1.15M141 528h1.15M141 529h1.15M141 531h1.15M141 538h1.15M141 539h1.15M141 540h1.15M141 541h1.15M141 542h1.15M141 543h1.15M141 545h1.15M141 554h1.15M141 558h1.15M142 504h1.15M142 512h1.15M142 516h1.15M142 517h1.15M142 520h1.15M142 521h1.15M142 522h1.15M142 524h1.15M142 525h1.15M142 526h1.15M142 530h1.15M142 532h1.15M142 534h1.15M142 536h1.15M142 537h1.15M142 538h1.15M142 541h1.15M142 544h1.15M142 545h1.15M143 518h1.15M143 519h1.15M143 523h1.15M143 525h1.15M143 527h1.15M143 528h1.15M143 529h1.15M143 531h1.15M143 532h1.15M143 535h1.15M143 540h1.15M143 543h1.15M143 544h1.15M143 546h1.15M143 549h1.15M143 552h1.15M144 515h1.15M144 517h1.15M144 526h1.15M144 528h1.15M144 529h1.15M144 530h1.15M144 531h1.15M144 532h1.15M144 536h1.15M144 541h1.15M144 542h1.15M144 545h1.15M144 547h1.15M144 551h1.15M144 553h1.15M144 556h1.15M145 508h1.15M145 514h1.15M145 525h1.15M145 526h1.15M145 529h1.15M145 530h1.15M145 532h1.15M145 533h1.15M145 537h1.15M145 538h1.15M145 555h1.15M145 558h1.15M146 520h1.15M146 521h1.15M146 525h1.15M146 528h1.15M146 532h1.15M146 533h1.15M146 534h1.15M146 538h1.15M146 539h1.15M146 540h1.15M146 556h1.15M147 508h1.15M147 515h1.15M147 521h1.15M147 522h1.15M147 524h1.15M147 526h1.15M147 527h1.15M147 538h1.15M147 544h1.15M147 545h1.15M147 546h1.15M147 547h1.15M148 517h1.15M148 519h1.15M148 524h1.15M148 525h1.15M148 535h1.15M148 538h1.15M148 541h1.15M148 543h1.15M149 533h1.15M149 541h1.15M149 544h1.15M149 559h1.15M150 519h1.15M150 527h1.15M150 541h1.15M151 496h1.15M151 558h1.15M152 521h1.15M152 524h1.15M152 536h1.15M152 537h1.15M152 540h1.15M152 547h1.15M153 502h1.15M153 514h1.15M153 518h1.15M153 529h1.15M153 549h1.15M154 501h1.15M154 512h1.15M154 516h1.15M154 549h1.15M155 521h1.15M156 500h1.15M156 553h1.15M157 533h1.15M158 531h1.15M158 539h1.15M159 525h1.15M159 535h1.15M160 537h1.15M162 499h1.15M162 523h1.15M163 552h1.15M166 501h1.15M167 518h1.15M171 551h1.15M172 534h1.15M173 551h1.15M176 419h1.15M176 509h1.15M177 511h1.15M178 498h1.15M178 509h1.15M178 548h1.15M179 519h1.15M179 540h1.15M180 436h1.15M180 519h1.15M180 544h1.15M181 414h1.15M181 418h1.15M181 431h1.15M181 521h1.15M182 423h1.15M182 503h1.15M182 538h1.15M183 437h1.15M184 511h1.15M184 554h1.15M185 416h1.15M185 429h1.15M185 432h1.15M185 516h1.15M185 546h1.15M185 551h1.15M185 557h1.15M186 430h1.15M186 518h1.15M186 533h1.15M186 535h1.15M187 429h1.15M187 437h1.15M188 495h1.15M188 530h1.15M191 501h1.15M191 517h1.15M191 520h1.15M191 532h1.15M192 417h1.15M192 496h1.15M195 418h1.15M195 526h1.15M195 527h1.15M196 523h1.15M197 427h1.15M197 540h1.15M198 429h1.15M199 542h1.15M200 420h1.15M201 494h1.15M202 527h1.15M203 519h1.15M203 533h1.15M204 432h1.15M204 547h1.15M205 412h1.15M205 419h1.15M205 426h1.15M205 432h1.15M205 534h1.15M206 428h1.15M206 502h1.15M206 545h1.15M207 479h1.15M208 417h1.15M208 433h1.15M208 501h1.15M208 520h1.15M208 530h1.15M209 431h1.15M209 542h1.15M210 424h1.15M210 425h1.15M210 430h1.15M210 558h1.15M211 419h1.15M211 424h1.15M211 428h1.15M211 432h1.15M211 445h1.15M211 497h1.15M211 534h1.15M212 422h1.15M212 423h1.15M212 425h1.15M212 428h1.15M212 429h1.15M212 437h1.15M212 507h1.15M213 422h1.15M213 428h1.15M213 431h1.15M213 440h1.15M213 507h1.15M213 512h1.15M214 423h1.15M214 429h1.15M214 432h1.15M214 433h1.15M214 453h1.15M214 497h1.15M214 532h1.15M215 419h1.15M215 425h1.15M215 426h1.15M215 429h1.15M215 434h1.15M215 435h1.15M215 451h1.15M215 475h1.15M215 507h1.15M216 424h1.15M216 426h1.15M216 428h1.15M216 492h1.15M217 428h1.15M217 430h1.15M217 473h1.15M217 495h1.15M217 543h1.15M217 548h1.15M218 416h1.15M218 419h1.15M218 422h1.15M218 423h1.15M218 427h1.15M218 430h1.15M218 431h1.15M218 433h1.15M219 424h1.15M219 425h1.15M219 433h1.15M219 434h1.15M219 452h1.15M219 493h1.15M220 420h1.15M220 421h1.15M220 423h1.15M220 424h1.15M220 425h1.15M220 426h1.15M220 429h1.15M220 431h1.15M220 440h1.15M220 525h1.15M221 420h1.15M221 422h1.15M221 423h1.15M221 424h1.15M221 425h1.15M221 427h1.15M221 430h1.15M221 431h1.15M221 432h1.15M221 435h1.15M221 554h1.15M222 425h1.15M222 427h1.15M222 428h1.15M223 416h1.15M223 422h1.15M223 423h1.15M223 425h1.15M223 426h1.15M223 429h1.15M223 431h1.15M223 433h1.15M223 459h1.15M223 500h1.15M223 516h1.15M224 419h1.15M224 423h1.15M224 424h1.15M224 425h1.15M224 426h1.15M224 429h1.15M224 430h1.15M224 431h1.15M224 480h1.15M224 499h1.15M224 520h1.15M224 541h1.15M225 414h1.15M225 424h1.15M225 425h1.15M225 428h1.15M225 430h1.15M225 431h1.15M225 433h1.15M225 480h1.15M226 412h1.15M226 421h1.15M226 425h1.15M226 429h1.15M226 432h1.15M226 448h1.15M226 474h1.15M226 520h1.15M226 557h1.15M227 419h1.15M227 425h1.15M227 430h1.15M227 434h1.15M227 435h1.15M227 436h1.15M227 450h1.15M227 465h1.15M227 544h1.15M228 421h1.15M228 424h1.15M228 425h1.15M228 427h1.15M228 430h1.15M228 434h1.15M228 529h1.15M228 540h1.15M229 416h1.15M229 422h1.15M229 423h1.15M229 424h1.15M229 425h1.15M229 427h1.15M229 430h1.15M229 431h1.15M229 477h1.15M229 511h1.15M230 425h1.15M230 429h1.15M230 430h1.15M230 446h1.15M230 478h1.15M230 549h1.15M231 414h1.15M231 418h1.15M231 426h1.15M231 428h1.15M231 430h1.15M231 432h1.15M231 463h1.15M231 495h1.15M231 557h1.15M232 421h1.15M232 423h1.15M232 424h1.15M232 428h1.15M232 429h1.15M232 430h1.15M232 433h1.15M232 481h1.15M232 515h1.15M232 534h1.15M232 553h1.15M233 417h1.15M233 421h1.15M233 426h1.15M233 427h1.15M233 429h1.15M233 431h1.15M233 432h1.15M233 445h1.15M233 473h1.15M233 478h1.15M233 528h1.15M233 551h1.15M233 558h1.15M234 420h1.15M234 432h1.15M234 452h1.15M234 475h1.15M234 548h1.15M235 438h1.15M235 464h1.15M236 532h1.15" stroke="#dd0808" stroke-width="1.15" fill="none" transform="translate(-0.1,0.5)"/>
<path d="M54 559h1.4M55 558h1.4M57 558h1.4M58 558h1.4M60 558h1.4M61 558h1.4M66 558h1.4M67 559h1.4M69 559h1.4M71 559h1.4M74 559h1.4M75 559h1.4M76 558h1.4M78 558h1.4M80 558h1.4M82 559h1.4M83 558h1.4M85 559h1.4M90 558h1.4M91 558h1.4M91 559h1.4M92 558h1.4M92 559h1.4M96 558h1.4M96 559h1.4M98 558h1.4M101 558h1.4M102 559h1.4M104 559h1.4M107 559h1.4M108 559h1.4M112 558h1.4M115 558h1.4M116 558h1.4M117 558h1.4M119 559h1.4M122 558h1.4M122 559h1.4M124 559h1.4M127 558h1.4M128 558h1.4M129 558h1.4M133 559h1.4M134 559h1.4M135 559h1.4M143 559h1.4M145 558h1.4M146 558h1.4M150 558h1.4M154 558h1.4M155 559h1.4M156 558h1.4M156 559h1.4M158 559h1.4M161 559h1.4M162 559h1.4M165 559h1.4M166 558h1.4M169 559h1.4M170 559h1.4M174 559h1.4M175 558h1.4M177 559h1.4M182 559h1.4M184 559h1.4M185 558h1.4M186 559h1.4M187 559h1.4M188 558h1.4M189 559h1.4M190 558h1.4M190 559h1.4M192 559h1.4M194 559h1.4M195 558h1.4M198 558h1.4M200 558h1.4M205 557h1.4M205 558h1.4M207 558h1.4M208 559h1.4M209 558h1.4M211 558h1.4M212 559h1.4M215 558h1.4M215 559h1.4M219 558h1.4M221 559h1.4M223 559h1.4M225 558h1.4M226 558h1.4M228 558h1.4M229 559h1.4M232 558h1.4M232 559h1.4" stroke="#a80000" stroke-width="1.6" fill="none" transform="translate(-0.2,0.5)"/>
</g>
<line x1="235.8" y1="395.0" x2="235.8" y2="433.0" stroke="#b00000" stroke-width="1.5"/>
<rect x="52.4" y="379.1" width="184.6" height="181.4" fill="none" stroke="#1e1e1e" stroke-width="1.3"/>
<line x1="135.1" y1="379.1" x2="135.1" y2="560.5" stroke="#111" stroke-width="1.3"/>
<line x1="52.4" y1="484.0" x2="237.0" y2="484.0" stroke="#111" stroke-width="1.3"/>
<path d="M52.4 560.5h-4M52.4 560.5v4M52.4 546.8h-2.4M66.3 560.5v2.4M52.4 538.9h-2.4M74.4 560.5v2.4M52.4 533.2h-2.4M80.2 560.5v2.4M52.4 528.8h-2.4M84.7 560.5v2.4M52.4 525.2h-2.4M88.3 560.5v2.4M52.4 522.2h-2.4M91.4 560.5v2.4M52.4 519.5h-2.4M94.1 560.5v2.4M52.4 517.2h-2.4M96.4 560.5v2.4M52.4 515.1h-4M98.5 560.5v4M52.4 501.5h-2.4M112.4 560.5v2.4M52.4 493.5h-2.4M120.6 560.5v2.4M52.4 487.8h-2.4M126.3 560.5v2.4M52.4 483.5h-2.4M130.8 560.5v2.4M52.4 479.9h-2.4M134.5 560.5v2.4M52.4 476.8h-2.4M137.6 560.5v2.4M52.4 474.2h-2.4M140.2 560.5v2.4M52.4 471.9h-2.4M142.6 560.5v2.4M52.4 469.8h-4M144.7 560.5v4M52.4 456.1h-2.4M158.6 560.5v2.4M52.4 448.2h-2.4M166.7 560.5v2.4M52.4 442.5h-2.4M172.5 560.5v2.4M52.4 438.1h-2.4M177.0 560.5v2.4M52.4 434.5h-2.4M180.6 560.5v2.4M52.4 431.5h-2.4M183.7 560.5v2.4M52.4 428.8h-2.4M186.4 560.5v2.4M52.4 426.5h-2.4M188.7 560.5v2.4M52.4 424.5h-4M190.8 560.5v4M52.4 410.8h-2.4M204.7 560.5v2.4M52.4 402.8h-2.4M212.9 560.5v2.4M52.4 397.1h-2.4M218.6 560.5v2.4M52.4 392.8h-2.4M223.1 560.5v2.4M52.4 389.2h-2.4M226.8 560.5v2.4M52.4 386.1h-2.4M229.9 560.5v2.4M52.4 383.5h-2.4M232.5 560.5v2.4M52.4 381.2h-2.4M234.9 560.5v2.4M52.4 379.1h-4M237.0 560.5v4" stroke="#222" stroke-width="1" fill="none"/>
<text transform="translate(46.4,567.4) rotate(-90)" font-size="8.6" textLength="7.6" lengthAdjust="spacingAndGlyphs" fill="#222">10</text>
<text transform="translate(42.8,558.6) rotate(-90)" font-size="7.6" fill="#222">0</text>
<text x="44.8" y="575.9" font-size="9.2" textLength="8.8" lengthAdjust="spacingAndGlyphs" fill="#222">10</text>
<text x="54.4" y="571.4" font-size="7.6" fill="#222">0</text>
<text transform="translate(46.4,522.0) rotate(-90)" font-size="8.6" textLength="7.6" lengthAdjust="spacingAndGlyphs" fill="#222">10</text>
<text transform="translate(42.8,513.2) rotate(-90)" font-size="7.6" fill="#222">1</text>
<text x="91.0" y="575.9" font-size="9.2" textLength="8.8" lengthAdjust="spacingAndGlyphs" fill="#222">10</text>
<text x="100.5" y="571.4" font-size="7.6" fill="#222">1</text>
<text transform="translate(46.4,476.7) rotate(-90)" font-size="8.6" textLength="7.6" lengthAdjust="spacingAndGlyphs" fill="#222">10</text>
<text transform="translate(42.8,467.9) rotate(-90)" font-size="7.6" fill="#222">2</text>
<text x="137.1" y="575.9" font-size="9.2" textLength="8.8" lengthAdjust="spacingAndGlyphs" fill="#222">10</text>
<text x="146.7" y="571.4" font-size="7.6" fill="#222">2</text>
<text transform="translate(46.4,431.4) rotate(-90)" font-size="8.6" textLength="7.6" lengthAdjust="spacingAndGlyphs" fill="#222">10</text>
<text transform="translate(42.8,422.6) rotate(-90)" font-size="7.6" fill="#222">3</text>
<text x="183.2" y="575.9" font-size="9.2" textLength="8.8" lengthAdjust="spacingAndGlyphs" fill="#222">10</text>
<text x="192.8" y="571.4" font-size="7.6" fill="#222">3</text>
<text transform="translate(46.4,386.0) rotate(-90)" font-size="8.6" textLength="7.6" lengthAdjust="spacingAndGlyphs" fill="#222">10</text>
<text transform="translate(42.8,377.2) rotate(-90)" font-size="7.6" fill="#222">4</text>
<text x="229.4" y="575.9" font-size="9.2" textLength="8.8" lengthAdjust="spacingAndGlyphs" fill="#222">10</text>
<text x="239.0" y="571.4" font-size="7.6" fill="#222">4</text>
<text x="113.4" y="583.8" textLength="60.1" lengthAdjust="spacingAndGlyphs" font-size="8.6" fill="#222">Annexin V FITC</text>
<text transform="translate(34.2,502.8) rotate(-90)" x="0" y="0" textLength="64.0" lengthAdjust="spacingAndGlyphs" font-size="8.2" fill="#222">Propidium Iodide</text>
<line x1="58.8" y1="402.2" x2="115.5" y2="402.2" stroke="#222" stroke-width="1.0"/>
<line x1="87.5" y1="389.9" x2="87.5" y2="414.7" stroke="#222" stroke-width="1.0"/>
<text x="63.8" y="399.6" textLength="20.2" lengthAdjust="spacingAndGlyphs" font-size="10" fill="#222">0.00</text>
<text x="90.5" y="399.6" textLength="20.3" lengthAdjust="spacingAndGlyphs" font-size="10" fill="#222">5.49</text>
<text x="58.5" y="413.0" textLength="26.2" lengthAdjust="spacingAndGlyphs" font-size="10" fill="#222">85.23</text>
<text x="90.5" y="413.0" textLength="20.3" lengthAdjust="spacingAndGlyphs" font-size="10" fill="#222">9.28</text>
<clipPath id="c2"><rect x="268.6" y="379.7" width="182.3" height="180.4"/></clipPath>
<g clip-path="url(#c2)">
<path d="M299 533h1.15M299 548h1.15M300 549h1.15M300 557h1.15M301 544h1.15M301 548h1.15M302 537h1.15M302 546h1.15M302 556h1.15M303 544h1.15M303 548h1.15M303 551h1.15M303 554h1.15M304 539h1.15M304 546h1.15M305 530h1.15M305 536h1.15M305 548h1.15M305 556h1.15M306 531h1.15M306 536h1.15M306 539h1.15M306 543h1.15M306 548h1.15M307 532h1.15M307 547h1.15M307 554h1.15M308 549h1.15M308 552h1.15M308 553h1.15M309 536h1.15M309 537h1.15M309 539h1.15M309 552h1.15M309 555h1.15M309 557h1.15M310 543h1.15M310 551h1.15M311 536h1.15M311 541h1.15M311 545h1.15M311 547h1.15M311 548h1.15M312 522h1.15M312 542h1.15M312 543h1.15M312 546h1.15M312 548h1.15M312 552h1.15M313 531h1.15M313 535h1.15M313 538h1.15M313 546h1.15M313 550h1.15M313 557h1.15M314 530h1.15M314 537h1.15M314 541h1.15M314 544h1.15M314 545h1.15M314 547h1.15M314 550h1.15M314 555h1.15M315 539h1.15M315 540h1.15M315 541h1.15M315 543h1.15M315 546h1.15M315 548h1.15M315 554h1.15M315 556h1.15M315 558h1.15M316 536h1.15M316 538h1.15M316 542h1.15M316 543h1.15M316 548h1.15M316 551h1.15M316 553h1.15M316 554h1.15M316 559h1.15M317 532h1.15M317 536h1.15M317 537h1.15M317 544h1.15M317 545h1.15M317 547h1.15M317 554h1.15M317 555h1.15M317 556h1.15M318 535h1.15M318 545h1.15M318 547h1.15M318 548h1.15M318 549h1.15M318 550h1.15M318 555h1.15M318 556h1.15M319 507h1.15M319 526h1.15M319 537h1.15M319 543h1.15M319 547h1.15M319 550h1.15M319 555h1.15M319 558h1.15M319 559h1.15M320 527h1.15M320 529h1.15M320 530h1.15M320 539h1.15M320 540h1.15M320 541h1.15M320 543h1.15M320 546h1.15M320 547h1.15M320 548h1.15M320 549h1.15M320 550h1.15M320 554h1.15M320 557h1.15M320 559h1.15M321 523h1.15M321 524h1.15M321 533h1.15M321 536h1.15M321 544h1.15M321 549h1.15M321 551h1.15M321 553h1.15M321 554h1.15M321 555h1.15M321 556h1.15M321 559h1.15M322 513h1.15M322 521h1.15M322 528h1.15M322 538h1.15M322 540h1.15M322 541h1.15M322 543h1.15M322 549h1.15M322 551h1.15M322 556h1.15M323 518h1.15M323 529h1.15M323 530h1.15M323 531h1.15M323 532h1.15M323 533h1.15M323 540h1.15M323 544h1.15M323 545h1.15M323 546h1.15M323 548h1.15M323 549h1.15M323 551h1.15M323 553h1.15M323 554h1.15M323 556h1.15M323 559h1.15M324 527h1.15M324 530h1.15M324 531h1.15M324 532h1.15M324 536h1.15M324 538h1.15M324 540h1.15M324 542h1.15M324 543h1.15M324 544h1.15M324 546h1.15M324 547h1.15M324 548h1.15M324 549h1.15M324 552h1.15M324 555h1.15M324 557h1.15M325 532h1.15M325 533h1.15M325 534h1.15M325 536h1.15M325 537h1.15M325 538h1.15M325 539h1.15M325 540h1.15M325 541h1.15M325 543h1.15M325 544h1.15M325 546h1.15M325 548h1.15M325 549h1.15M325 551h1.15M325 556h1.15M326 519h1.15M326 523h1.15M326 528h1.15M326 532h1.15M326 536h1.15M326 538h1.15M326 539h1.15M326 540h1.15M326 543h1.15M326 544h1.15M326 545h1.15M326 546h1.15M326 547h1.15M326 549h1.15M326 550h1.15M326 551h1.15M326 552h1.15M326 554h1.15M326 556h1.15M326 557h1.15M326 559h1.15M327 525h1.15M327 529h1.15M327 531h1.15M327 532h1.15M327 534h1.15M327 537h1.15M327 540h1.15M327 541h1.15M327 542h1.15M327 543h1.15M327 544h1.15M327 547h1.15M327 548h1.15M327 550h1.15M327 551h1.15M327 552h1.15M327 553h1.15M327 556h1.15M328 512h1.15M328 513h1.15M328 514h1.15M328 517h1.15M328 518h1.15M328 519h1.15M328 522h1.15M328 526h1.15M328 527h1.15M328 528h1.15M328 533h1.15M328 536h1.15M328 537h1.15M328 539h1.15M328 541h1.15M328 542h1.15M328 543h1.15M328 545h1.15M328 546h1.15M328 547h1.15M328 548h1.15M328 549h1.15M328 550h1.15M328 551h1.15M328 554h1.15M328 555h1.15M328 558h1.15M329 508h1.15M329 516h1.15M329 517h1.15M329 525h1.15M329 527h1.15M329 528h1.15M329 529h1.15M329 530h1.15M329 531h1.15M329 532h1.15M329 534h1.15M329 535h1.15M329 536h1.15M329 537h1.15M329 538h1.15M329 539h1.15M329 540h1.15M329 541h1.15M329 542h1.15M329 543h1.15M329 544h1.15M329 545h1.15M329 546h1.15M329 547h1.15M329 548h1.15M329 551h1.15M329 552h1.15M329 553h1.15M329 554h1.15M329 555h1.15M329 558h1.15M330 515h1.15M330 516h1.15M330 518h1.15M330 520h1.15M330 521h1.15M330 522h1.15M330 523h1.15M330 524h1.15M330 526h1.15M330 527h1.15M330 530h1.15M330 531h1.15M330 533h1.15M330 534h1.15M330 535h1.15M330 536h1.15M330 537h1.15M330 538h1.15M330 539h1.15M330 540h1.15M330 542h1.15M330 543h1.15M330 545h1.15M330 546h1.15M330 547h1.15M330 548h1.15M330 549h1.15M330 550h1.15M330 551h1.15M330 552h1.15M330 553h1.15M330 556h1.15M331 503h1.15M331 508h1.15M331 512h1.15M331 514h1.15M331 519h1.15M331 521h1.15M331 522h1.15M331 523h1.15M331 525h1.15M331 526h1.15M331 527h1.15M331 529h1.15M331 530h1.15M331 531h1.15M331 532h1.15M331 533h1.15M331 534h1.15M331 535h1.15M331 536h1.15M331 537h1.15M331 538h1.15M331 539h1.15M331 540h1.15M331 541h1.15M331 542h1.15M331 543h1.15M331 544h1.15M331 545h1.15M331 546h1.15M331 547h1.15M331 548h1.15M331 549h1.15M331 550h1.15M331 551h1.15M331 552h1.15M331 553h1.15M331 554h1.15M331 555h1.15M331 556h1.15M332 515h1.15M332 516h1.15M332 517h1.15M332 519h1.15M332 520h1.15M332 521h1.15M332 522h1.15M332 523h1.15M332 524h1.15M332 525h1.15M332 526h1.15M332 527h1.15M332 528h1.15M332 530h1.15M332 531h1.15M332 532h1.15M332 533h1.15M332 534h1.15M332 535h1.15M332 536h1.15M332 537h1.15M332 538h1.15M332 539h1.15M332 541h1.15M332 542h1.15M332 543h1.15M332 544h1.15M332 545h1.15M332 546h1.15M332 547h1.15M332 548h1.15M332 549h1.15M332 550h1.15M332 551h1.15M332 552h1.15M332 553h1.15M332 554h1.15M332 555h1.15M332 556h1.15M332 557h1.15M332 559h1.15M333 509h1.15M333 511h1.15M333 513h1.15M333 515h1.15M333 516h1.15M333 518h1.15M333 520h1.15M333 521h1.15M333 522h1.15M333 523h1.15M333 525h1.15M333 526h1.15M333 527h1.15M333 528h1.15M333 529h1.15M333 530h1.15M333 531h1.15M333 532h1.15M333 533h1.15M333 534h1.15M333 535h1.15M333 536h1.15M333 537h1.15M333 538h1.15M333 539h1.15M333 540h1.15M333 541h1.15M333 542h1.15M333 543h1.15M333 545h1.15M333 546h1.15M333 548h1.15M333 549h1.15M333 550h1.15M333 551h1.15M333 552h1.15M333 553h1.15M333 554h1.15M333 555h1.15M333 558h1.15M334 509h1.15M334 511h1.15M334 512h1.15M334 514h1.15M334 520h1.15M334 521h1.15M334 522h1.15M334 523h1.15M334 524h1.15M334 525h1.15M334 526h1.15M334 527h1.15M334 528h1.15M334 529h1.15M334 530h1.15M334 531h1.15M334 532h1.15M334 533h1.15M334 534h1.15M334 535h1.15M334 536h1.15M334 537h1.15M334 538h1.15M334 539h1.15M334 540h1.15M334 541h1.15M334 542h1.15M334 543h1.15M334 544h1.15M334 545h1.15M334 546h1.15M334 547h1.15M334 548h1.15M334 549h1.15M334 550h1.15M334 551h1.15M334 552h1.15M334 553h1.15M334 554h1.15M334 558h1.15M334 559h1.15M335 508h1.15M335 509h1.15M335 510h1.15M335 511h1.15M335 512h1.15M335 515h1.15M335 517h1.15M335 518h1.15M335 519h1.15M335 520h1.15M335 521h1.15M335 522h1.15M335 523h1.15M335 524h1.15M335 525h1.15M335 526h1.15M335 527h1.15M335 528h1.15M335 529h1.15M335 530h1.15M335 531h1.15M335 532h1.15M335 533h1.15M335 534h1.15M335 535h1.15M335 536h1.15M335 537h1.15M335 538h1.15M335 539h1.15M335 540h1.15M335 541h1.15M335 542h1.15M335 543h1.15M335 544h1.15M335 545h1.15M335 546h1.15M335 547h1.15M335 548h1.15M335 549h1.15M335 550h1.15M335 551h1.15M335 552h1.15M335 553h1.15M335 554h1.15M335 555h1.15M335 556h1.15M335 557h1.15M335 558h1.15M336 505h1.15M336 511h1.15M336 514h1.15M336 515h1.15M336 516h1.15M336 518h1.15M336 519h1.15M336 521h1.15M336 522h1.15M336 523h1.15M336 524h1.15M336 525h1.15M336 526h1.15M336 527h1.15M336 528h1.15M336 529h1.15M336 530h1.15M336 531h1.15M336 532h1.15M336 533h1.15M336 534h1.15M336 535h1.15M336 536h1.15M336 537h1.15M336 538h1.15M336 539h1.15M336 540h1.15M336 541h1.15M336 542h1.15M336 543h1.15M336 544h1.15M336 545h1.15M336 546h1.15M336 547h1.15M336 548h1.15M336 549h1.15M336 550h1.15M336 551h1.15M336 552h1.15M336 553h1.15M336 554h1.15M336 555h1.15M336 556h1.15M336 557h1.15M336 559h1.15M337 506h1.15M337 509h1.15M337 511h1.15M337 512h1.15M337 513h1.15M337 515h1.15M337 517h1.15M337 518h1.15M337 519h1.15M337 521h1.15M337 522h1.15M337 523h1.15M337 524h1.15M337 525h1.15M337 526h1.15M337 527h1.15M337 528h1.15M337 529h1.15M337 530h1.15M337 531h1.15M337 532h1.15M337 533h1.15M337 534h1.15M337 535h1.15M337 536h1.15M337 537h1.15M337 538h1.15M337 539h1.15M337 540h1.15M337 541h1.15M337 542h1.15M337 543h1.15M337 544h1.15M337 545h1.15M337 546h1.15M337 547h1.15M337 548h1.15M337 549h1.15M337 550h1.15M337 551h1.15M337 552h1.15M337 553h1.15M337 554h1.15M337 555h1.15M337 556h1.15M337 557h1.15M337 558h1.15M337 559h1.15M338 509h1.15M338 512h1.15M338 513h1.15M338 514h1.15M338 515h1.15M338 516h1.15M338 517h1.15M338 518h1.15M338 519h1.15M338 520h1.15M338 521h1.15M338 522h1.15M338 523h1.15M338 524h1.15M338 525h1.15M338 526h1.15M338 527h1.15M338 528h1.15M338 529h1.15M338 530h1.15M338 531h1.15M338 532h1.15M338 533h1.15M338 534h1.15M338 535h1.15M338 536h1.15M338 537h1.15M338 538h1.15M338 539h1.15M338 540h1.15M338 541h1.15M338 542h1.15M338 543h1.15M338 544h1.15M338 545h1.15M338 546h1.15M338 547h1.15M338 549h1.15M338 550h1.15M338 551h1.15M338 552h1.15M338 553h1.15M338 554h1.15M338 555h1.15M338 556h1.15M338 557h1.15M338 558h1.15M338 559h1.15M339 503h1.15M339 504h1.15M339 510h1.15M339 512h1.15M339 513h1.15M339 514h1.15M339 516h1.15M339 517h1.15M339 519h1.15M339 520h1.15M339 521h1.15M339 522h1.15M339 523h1.15M339 524h1.15M339 525h1.15M339 526h1.15M339 527h1.15M339 528h1.15M339 529h1.15M339 530h1.15M339 531h1.15M339 532h1.15M339 533h1.15M339 534h1.15M339 535h1.15M339 536h1.15M339 537h1.15M339 538h1.15M339 539h1.15M339 540h1.15M339 541h1.15M339 542h1.15M339 543h1.15M339 544h1.15M339 545h1.15M339 546h1.15M339 547h1.15M339 548h1.15M339 549h1.15M339 550h1.15M339 551h1.15M339 552h1.15M339 553h1.15M339 554h1.15M339 555h1.15M339 556h1.15M339 559h1.15M340 506h1.15M340 507h1.15M340 508h1.15M340 510h1.15M340 513h1.15M340 514h1.15M340 515h1.15M340 516h1.15M340 517h1.15M340 518h1.15M340 519h1.15M340 520h1.15M340 521h1.15M340 522h1.15M340 523h1.15M340 524h1.15M340 525h1.15M340 526h1.15M340 527h1.15M340 528h1.15M340 529h1.15M340 530h1.15M340 531h1.15M340 532h1.15M340 533h1.15M340 534h1.15M340 535h1.15M340 536h1.15M340 537h1.15M340 538h1.15M340 539h1.15M340 540h1.15M340 541h1.15M340 542h1.15M340 543h1.15M340 544h1.15M340 545h1.15M340 546h1.15M340 547h1.15M340 548h1.15M340 549h1.15M340 550h1.15M340 551h1.15M340 552h1.15M340 553h1.15M340 554h1.15M340 555h1.15M340 556h1.15M340 557h1.15M340 558h1.15M341 506h1.15M341 508h1.15M341 510h1.15M341 511h1.15M341 513h1.15M341 514h1.15M341 515h1.15M341 516h1.15M341 517h1.15M341 518h1.15M341 519h1.15M341 520h1.15M341 521h1.15M341 522h1.15M341 523h1.15M341 524h1.15M341 525h1.15M341 526h1.15M341 527h1.15M341 528h1.15M341 529h1.15M341 530h1.15M341 531h1.15M341 532h1.15M341 533h1.15M341 534h1.15M341 535h1.15M341 536h1.15M341 537h1.15M341 538h1.15M341 539h1.15M341 540h1.15M341 541h1.15M341 542h1.15M341 543h1.15M341 544h1.15M341 545h1.15M341 546h1.15M341 547h1.15M341 548h1.15M341 549h1.15M341 550h1.15M341 551h1.15M341 552h1.15M341 553h1.15M341 554h1.15M341 555h1.15M341 556h1.15M341 557h1.15M341 558h1.15M341 559h1.15M342 492h1.15M342 498h1.15M342 499h1.15M342 503h1.15M342 512h1.15M342 513h1.15M342 514h1.15M342 515h1.15M342 516h1.15M342 517h1.15M342 518h1.15M342 519h1.15M342 520h1.15M342 521h1.15M342 522h1.15M342 523h1.15M342 524h1.15M342 525h1.15M342 526h1.15M342 527h1.15M342 528h1.15M342 529h1.15M342 530h1.15M342 531h1.15M342 532h1.15M342 533h1.15M342 534h1.15M342 535h1.15M342 536h1.15M342 537h1.15M342 538h1.15M342 539h1.15M342 540h1.15M342 541h1.15M342 542h1.15M342 543h1.15M342 544h1.15M342 545h1.15M342 546h1.15M342 547h1.15M342 548h1.15M342 549h1.15M342 550h1.15M342 551h1.15M342 552h1.15M342 553h1.15M342 554h1.15M342 555h1.15M342 556h1.15M342 557h1.15M342 558h1.15M342 559h1.15M343 509h1.15M343 511h1.15M343 512h1.15M343 514h1.15M343 515h1.15M343 516h1.15M343 517h1.15M343 518h1.15M343 519h1.15M343 520h1.15M343 521h1.15M343 522h1.15M343 523h1.15M343 524h1.15M343 525h1.15M343 526h1.15M343 527h1.15M343 528h1.15M343 529h1.15M343 530h1.15M343 531h1.15M343 532h1.15M343 533h1.15M343 534h1.15M343 535h1.15M343 536h1.15M343 537h1.15M343 538h1.15M343 539h1.15M343 540h1.15M343 541h1.15M343 542h1.15M343 543h1.15M343 544h1.15M343 545h1.15M343 546h1.15M343 547h1.15M343 548h1.15M343 549h1.15M343 550h1.15M343 551h1.15M343 552h1.15M343 553h1.15M343 554h1.15M343 555h1.15M343 556h1.15M343 557h1.15M343 558h1.15M343 559h1.15M344 507h1.15M344 508h1.15M344 509h1.15M344 510h1.15M344 511h1.15M344 513h1.15M344 514h1.15M344 515h1.15M344 517h1.15M344 518h1.15M344 519h1.15M344 520h1.15M344 521h1.15M344 522h1.15M344 523h1.15M344 524h1.15M344 525h1.15M344 526h1.15M344 527h1.15M344 528h1.15M344 529h1.15M344 530h1.15M344 531h1.15M344 532h1.15M344 533h1.15M344 534h1.15M344 535h1.15M344 536h1.15M344 537h1.15M344 538h1.15M344 539h1.15M344 540h1.15M344 541h1.15M344 542h1.15M344 543h1.15M344 544h1.15M344 545h1.15M344 546h1.15M344 547h1.15M344 548h1.15M344 549h1.15M344 550h1.15M344 551h1.15M344 552h1.15M344 553h1.15M344 554h1.15M344 555h1.15M344 556h1.15M344 557h1.15M344 558h1.15M344 559h1.15M345 504h1.15M345 505h1.15M345 507h1.15M345 511h1.15M345 512h1.15M345 513h1.15M345 514h1.15M345 515h1.15M345 517h1.15M345 518h1.15M345 519h1.15M345 520h1.15M345 521h1.15M345 522h1.15M345 523h1.15M345 524h1.15M345 525h1.15M345 526h1.15M345 527h1.15M345 528h1.15M345 529h1.15M345 530h1.15M345 531h1.15M345 532h1.15M345 533h1.15M345 534h1.15M345 535h1.15M345 536h1.15M345 537h1.15M345 538h1.15M345 539h1.15M345 540h1.15M345 541h1.15M345 542h1.15M345 543h1.15M345 544h1.15M345 545h1.15M345 546h1.15M345 547h1.15M345 548h1.15M345 549h1.15M345 550h1.15M345 551h1.15M345 552h1.15M345 553h1.15M345 554h1.15M345 555h1.15M345 556h1.15M345 557h1.15M345 558h1.15M346 506h1.15M346 511h1.15M346 513h1.15M346 515h1.15M346 516h1.15M346 517h1.15M346 518h1.15M346 519h1.15M346 520h1.15M346 521h1.15M346 522h1.15M346 523h1.15M346 524h1.15M346 525h1.15M346 526h1.15M346 527h1.15M346 528h1.15M346 529h1.15M346 530h1.15M346 531h1.15M346 532h1.15M346 533h1.15M346 534h1.15M346 535h1.15M346 536h1.15M346 537h1.15M346 538h1.15M346 539h1.15M346 540h1.15M346 541h1.15M346 542h1.15M346 543h1.15M346 544h1.15M346 545h1.15M346 546h1.15M346 547h1.15M346 548h1.15M346 549h1.15M346 550h1.15M346 551h1.15M346 552h1.15M346 553h1.15M346 554h1.15M346 556h1.15M346 557h1.15M346 558h1.15M346 559h1.15M347 504h1.15M347 508h1.15M347 509h1.15M347 510h1.15M347 511h1.15M347 512h1.15M347 516h1.15M347 517h1.15M347 518h1.15M347 519h1.15M347 520h1.15M347 521h1.15M347 522h1.15M347 523h1.15M347 524h1.15M347 525h1.15M347 526h1.15M347 527h1.15M347 528h1.15M347 529h1.15M347 530h1.15M347 531h1.15M347 532h1.15M347 533h1.15M347 534h1.15M347 535h1.15M347 536h1.15M347 537h1.15M347 538h1.15M347 539h1.15M347 540h1.15M347 541h1.15M347 542h1.15M347 543h1.15M347 544h1.15M347 545h1.15M347 546h1.15M347 547h1.15M347 548h1.15M347 549h1.15M347 550h1.15M347 551h1.15M347 552h1.15M347 553h1.15M347 554h1.15M347 556h1.15M347 557h1.15M347 558h1.15M347 559h1.15M348 509h1.15M348 512h1.15M348 513h1.15M348 516h1.15M348 517h1.15M348 518h1.15M348 519h1.15M348 520h1.15M348 521h1.15M348 522h1.15M348 523h1.15M348 524h1.15M348 525h1.15M348 526h1.15M348 527h1.15M348 528h1.15M348 529h1.15M348 530h1.15M348 531h1.15M348 532h1.15M348 533h1.15M348 534h1.15M348 535h1.15M348 536h1.15M348 537h1.15M348 538h1.15M348 539h1.15M348 540h1.15M348 541h1.15M348 542h1.15M348 543h1.15M348 544h1.15M348 545h1.15M348 546h1.15M348 547h1.15M348 548h1.15M348 549h1.15M348 550h1.15M348 551h1.15M348 552h1.15M348 553h1.15M348 554h1.15M348 555h1.15M348 556h1.15M348 557h1.15M348 558h1.15M348 559h1.15M349 492h1.15M349 504h1.15M349 506h1.15M349 509h1.15M349 513h1.15M349 514h1.15M349 516h1.15M349 517h1.15M349 518h1.15M349 519h1.15M349 521h1.15M349 522h1.15M349 523h1.15M349 524h1.15M349 525h1.15M349 526h1.15M349 527h1.15M349 528h1.15M349 529h1.15M349 530h1.15M349 531h1.15M349 532h1.15M349 533h1.15M349 534h1.15M349 535h1.15M349 536h1.15M349 537h1.15M349 538h1.15M349 539h1.15M349 540h1.15M349 541h1.15M349 542h1.15M349 544h1.15M349 545h1.15M349 546h1.15M349 547h1.15M349 548h1.15M349 549h1.15M349 550h1.15M349 551h1.15M349 552h1.15M349 553h1.15M349 555h1.15M349 556h1.15M349 557h1.15M349 559h1.15M350 508h1.15M350 510h1.15M350 514h1.15M350 515h1.15M350 517h1.15M350 518h1.15M350 519h1.15M350 520h1.15M350 521h1.15M350 522h1.15M350 523h1.15M350 525h1.15M350 526h1.15M350 527h1.15M350 528h1.15M350 529h1.15M350 530h1.15M350 531h1.15M350 532h1.15M350 533h1.15M350 534h1.15M350 535h1.15M350 536h1.15M350 537h1.15M350 538h1.15M350 539h1.15M350 540h1.15M350 541h1.15M350 542h1.15M350 543h1.15M350 544h1.15M350 545h1.15M350 546h1.15M350 547h1.15M350 548h1.15M350 549h1.15M350 550h1.15M350 552h1.15M350 553h1.15M350 555h1.15M350 557h1.15M350 559h1.15M351 500h1.15M351 509h1.15M351 513h1.15M351 515h1.15M351 516h1.15M351 517h1.15M351 518h1.15M351 519h1.15M351 520h1.15M351 521h1.15M351 522h1.15M351 523h1.15M351 524h1.15M351 525h1.15M351 526h1.15M351 527h1.15M351 528h1.15M351 529h1.15M351 530h1.15M351 531h1.15M351 532h1.15M351 533h1.15M351 534h1.15M351 535h1.15M351 536h1.15M351 537h1.15M351 538h1.15M351 539h1.15M351 540h1.15M351 541h1.15M351 542h1.15M351 543h1.15M351 544h1.15M351 545h1.15M351 546h1.15M351 547h1.15M351 548h1.15M351 549h1.15M351 550h1.15M351 551h1.15M351 552h1.15M351 553h1.15M351 554h1.15M351 555h1.15M351 556h1.15M351 557h1.15M351 559h1.15M352 507h1.15M352 512h1.15M352 513h1.15M352 516h1.15M352 517h1.15M352 519h1.15M352 520h1.15M352 521h1.15M352 523h1.15M352 524h1.15M352 525h1.15M352 526h1.15M352 527h1.15M352 528h1.15M352 529h1.15M352 530h1.15M352 531h1.15M352 532h1.15M352 533h1.15M352 534h1.15M352 535h1.15M352 536h1.15M352 537h1.15M352 538h1.15M352 539h1.15M352 540h1.15M352 541h1.15M352 542h1.15M352 543h1.15M352 544h1.15M352 545h1.15M352 546h1.15M352 547h1.15M352 548h1.15M352 549h1.15M352 551h1.15M352 552h1.15M352 553h1.15M352 555h1.15M352 556h1.15M352 557h1.15M352 559h1.15M353 506h1.15M353 507h1.15M353 513h1.15M353 514h1.15M353 515h1.15M353 517h1.15M353 518h1.15M353 519h1.15M353 520h1.15M353 521h1.15M353 522h1.15M353 523h1.15M353 524h1.15M353 525h1.15M353 526h1.15M353 527h1.15M353 528h1.15M353 529h1.15M353 530h1.15M353 531h1.15M353 532h1.15M353 533h1.15M353 534h1.15M353 535h1.15M353 536h1.15M353 537h1.15M353 538h1.15M353 539h1.15M353 540h1.15M353 541h1.15M353 543h1.15M353 544h1.15M353 545h1.15M353 546h1.15M353 547h1.15M353 548h1.15M353 549h1.15M353 550h1.15M353 551h1.15M353 552h1.15M353 553h1.15M353 554h1.15M353 555h1.15M353 556h1.15M353 557h1.15M353 559h1.15M354 505h1.15M354 508h1.15M354 512h1.15M354 513h1.15M354 514h1.15M354 515h1.15M354 517h1.15M354 518h1.15M354 519h1.15M354 520h1.15M354 521h1.15M354 522h1.15M354 523h1.15M354 525h1.15M354 526h1.15M354 527h1.15M354 528h1.15M354 529h1.15M354 530h1.15M354 531h1.15M354 532h1.15M354 533h1.15M354 534h1.15M354 535h1.15M354 536h1.15M354 537h1.15M354 538h1.15M354 539h1.15M354 540h1.15M354 541h1.15M354 542h1.15M354 543h1.15M354 544h1.15M354 545h1.15M354 546h1.15M354 547h1.15M354 548h1.15M354 549h1.15M354 550h1.15M354 552h1.15M354 553h1.15M354 554h1.15M354 555h1.15M354 559h1.15M355 502h1.15M355 510h1.15M355 512h1.15M355 513h1.15M355 514h1.15M355 519h1.15M355 521h1.15M355 522h1.15M355 524h1.15M355 525h1.15M355 526h1.15M355 527h1.15M355 528h1.15M355 529h1.15M355 530h1.15M355 531h1.15M355 532h1.15M355 533h1.15M355 534h1.15M355 535h1.15M355 536h1.15M355 537h1.15M355 538h1.15M355 539h1.15M355 540h1.15M355 542h1.15M355 543h1.15M355 544h1.15M355 545h1.15M355 546h1.15M355 547h1.15M355 549h1.15M355 550h1.15M355 551h1.15M355 552h1.15M355 554h1.15M355 557h1.15M356 507h1.15M356 509h1.15M356 510h1.15M356 511h1.15M356 515h1.15M356 518h1.15M356 520h1.15M356 522h1.15M356 523h1.15M356 524h1.15M356 525h1.15M356 526h1.15M356 527h1.15M356 528h1.15M356 530h1.15M356 531h1.15M356 532h1.15M356 533h1.15M356 534h1.15M356 535h1.15M356 536h1.15M356 537h1.15M356 538h1.15M356 539h1.15M356 540h1.15M356 541h1.15M356 544h1.15M356 546h1.15M356 547h1.15M356 548h1.15M356 549h1.15M356 550h1.15M356 551h1.15M356 552h1.15M356 553h1.15M356 554h1.15M356 556h1.15M356 557h1.15M356 558h1.15M356 559h1.15M357 499h1.15M357 513h1.15M357 515h1.15M357 518h1.15M357 519h1.15M357 520h1.15M357 521h1.15M357 523h1.15M357 524h1.15M357 525h1.15M357 526h1.15M357 528h1.15M357 529h1.15M357 530h1.15M357 531h1.15M357 532h1.15M357 533h1.15M357 534h1.15M357 536h1.15M357 537h1.15M357 538h1.15M357 539h1.15M357 540h1.15M357 541h1.15M357 542h1.15M357 543h1.15M357 544h1.15M357 545h1.15M357 546h1.15M357 547h1.15M357 548h1.15M357 549h1.15M357 550h1.15M357 551h1.15M357 552h1.15M357 553h1.15M357 554h1.15M357 555h1.15M357 556h1.15M358 514h1.15M358 519h1.15M358 520h1.15M358 522h1.15M358 523h1.15M358 524h1.15M358 525h1.15M358 526h1.15M358 527h1.15M358 528h1.15M358 529h1.15M358 531h1.15M358 533h1.15M358 534h1.15M358 535h1.15M358 536h1.15M358 537h1.15M358 538h1.15M358 539h1.15M358 540h1.15M358 541h1.15M358 542h1.15M358 543h1.15M358 544h1.15M358 545h1.15M358 546h1.15M358 547h1.15M358 548h1.15M358 549h1.15M358 550h1.15M358 551h1.15M358 555h1.15M358 557h1.15M359 487h1.15M359 500h1.15M359 515h1.15M359 517h1.15M359 520h1.15M359 522h1.15M359 523h1.15M359 524h1.15M359 527h1.15M359 528h1.15M359 529h1.15M359 532h1.15M359 533h1.15M359 534h1.15M359 535h1.15M359 537h1.15M359 539h1.15M359 540h1.15M359 541h1.15M359 542h1.15M359 544h1.15M359 546h1.15M359 547h1.15M359 550h1.15M359 552h1.15M359 555h1.15M359 556h1.15M360 501h1.15M360 515h1.15M360 516h1.15M360 519h1.15M360 521h1.15M360 523h1.15M360 527h1.15M360 528h1.15M360 530h1.15M360 531h1.15M360 533h1.15M360 534h1.15M360 536h1.15M360 537h1.15M360 538h1.15M360 540h1.15M360 541h1.15M360 542h1.15M360 543h1.15M360 544h1.15M360 546h1.15M360 549h1.15M360 550h1.15M360 558h1.15M361 491h1.15M361 505h1.15M361 518h1.15M361 519h1.15M361 520h1.15M361 524h1.15M361 525h1.15M361 527h1.15M361 528h1.15M361 534h1.15M361 535h1.15M361 536h1.15M361 537h1.15M361 538h1.15M361 539h1.15M361 542h1.15M361 543h1.15M361 545h1.15M361 547h1.15M361 548h1.15M361 549h1.15M361 551h1.15M361 559h1.15M362 517h1.15M362 519h1.15M362 523h1.15M362 524h1.15M362 529h1.15M362 530h1.15M362 533h1.15M362 535h1.15M362 536h1.15M362 537h1.15M362 539h1.15M362 540h1.15M362 541h1.15M362 542h1.15M362 543h1.15M362 546h1.15M362 547h1.15M362 554h1.15M362 555h1.15M362 557h1.15M362 559h1.15M363 525h1.15M363 526h1.15M363 527h1.15M363 528h1.15M363 531h1.15M363 534h1.15M363 535h1.15M363 536h1.15M363 540h1.15M363 542h1.15M363 543h1.15M363 544h1.15M363 545h1.15M363 546h1.15M363 547h1.15M363 549h1.15M363 550h1.15M363 553h1.15M363 559h1.15M364 513h1.15M364 515h1.15M364 521h1.15M364 526h1.15M364 528h1.15M364 529h1.15M364 531h1.15M364 532h1.15M364 535h1.15M364 538h1.15M364 539h1.15M364 540h1.15M364 546h1.15M364 549h1.15M364 550h1.15M364 552h1.15M364 553h1.15M364 556h1.15M365 515h1.15M365 523h1.15M365 528h1.15M365 531h1.15M365 536h1.15M365 546h1.15M365 548h1.15M365 549h1.15M365 554h1.15M366 525h1.15M366 527h1.15M366 532h1.15M366 535h1.15M366 544h1.15M366 546h1.15M366 547h1.15M366 556h1.15M366 558h1.15M367 524h1.15M367 531h1.15M367 532h1.15M367 535h1.15M367 540h1.15M367 541h1.15M367 544h1.15M367 545h1.15M367 546h1.15M367 555h1.15M367 559h1.15M368 495h1.15M368 525h1.15M368 526h1.15M368 532h1.15M368 538h1.15M368 540h1.15M368 542h1.15M368 544h1.15M368 546h1.15M368 547h1.15M368 550h1.15M368 552h1.15M368 557h1.15M369 509h1.15M369 534h1.15M369 537h1.15M369 539h1.15M369 542h1.15M369 543h1.15M369 549h1.15M369 553h1.15M369 555h1.15M369 558h1.15M369 559h1.15M370 522h1.15M370 523h1.15M370 540h1.15M370 550h1.15M370 559h1.15M371 513h1.15M371 528h1.15M371 559h1.15M372 515h1.15M372 517h1.15M372 534h1.15M373 527h1.15M373 532h1.15M373 538h1.15M373 540h1.15M373 545h1.15M373 553h1.15M374 521h1.15M374 531h1.15M374 534h1.15M374 539h1.15M374 547h1.15M375 507h1.15M375 535h1.15M376 534h1.15M376 544h1.15M376 547h1.15M376 548h1.15M378 524h1.15M380 525h1.15M382 508h1.15M382 515h1.15M383 502h1.15M384 546h1.15M385 521h1.15M389 490h1.15M389 505h1.15M389 515h1.15M389 525h1.15M393 501h1.15M394 546h1.15M395 549h1.15M397 542h1.15M398 470h1.15M398 491h1.15M398 545h1.15M399 463h1.15M402 507h1.15M405 525h1.15M405 558h1.15M406 470h1.15M406 511h1.15M407 521h1.15M410 436h1.15M410 476h1.15M410 527h1.15M410 550h1.15M411 515h1.15M412 530h1.15M412 534h1.15M414 420h1.15M414 434h1.15M414 463h1.15M414 475h1.15M414 537h1.15M415 430h1.15M415 501h1.15M415 525h1.15M416 435h1.15M416 521h1.15M417 420h1.15M417 430h1.15M417 443h1.15M418 534h1.15M419 422h1.15M419 426h1.15M419 470h1.15M420 420h1.15M420 422h1.15M420 424h1.15M420 425h1.15M420 439h1.15M420 440h1.15M420 441h1.15M420 532h1.15M420 541h1.15M421 410h1.15M421 425h1.15M421 448h1.15M421 505h1.15M421 532h1.15M421 548h1.15M422 419h1.15M422 426h1.15M422 533h1.15M422 539h1.15M422 548h1.15M422 559h1.15M423 411h1.15M423 413h1.15M423 423h1.15M423 536h1.15M423 539h1.15M424 430h1.15M424 440h1.15M424 441h1.15M424 448h1.15M424 517h1.15M425 415h1.15M425 424h1.15M425 430h1.15M425 442h1.15M425 509h1.15M425 534h1.15M425 536h1.15M425 557h1.15M426 532h1.15M426 552h1.15M427 418h1.15M427 476h1.15M427 552h1.15M428 418h1.15M428 421h1.15M428 431h1.15M428 515h1.15M428 523h1.15M428 539h1.15M429 421h1.15M429 427h1.15M429 428h1.15M429 437h1.15M429 438h1.15M429 463h1.15M429 538h1.15M430 442h1.15M430 449h1.15M430 531h1.15M431 419h1.15M431 420h1.15M431 428h1.15M431 432h1.15M431 444h1.15M431 478h1.15M431 547h1.15M431 556h1.15M432 426h1.15M432 431h1.15M432 434h1.15M432 438h1.15M432 445h1.15M433 429h1.15M433 522h1.15M433 546h1.15M433 553h1.15M434 429h1.15M434 437h1.15M434 455h1.15M434 459h1.15M434 505h1.15M434 512h1.15M434 524h1.15M434 543h1.15M435 425h1.15M435 435h1.15M435 440h1.15M435 558h1.15M436 416h1.15M436 417h1.15M436 423h1.15M436 433h1.15M436 437h1.15M436 482h1.15M436 540h1.15M436 555h1.15M437 422h1.15M437 423h1.15M437 426h1.15M437 429h1.15M437 431h1.15M437 438h1.15M437 445h1.15M437 462h1.15M437 548h1.15M437 553h1.15M437 556h1.15M437 559h1.15M438 407h1.15M438 416h1.15M438 426h1.15M438 430h1.15M438 442h1.15M438 452h1.15M438 472h1.15M438 491h1.15M438 547h1.15M438 548h1.15M438 551h1.15M438 552h1.15M439 421h1.15M439 422h1.15M439 423h1.15M439 428h1.15M439 429h1.15M439 430h1.15M439 438h1.15M439 440h1.15M439 453h1.15M439 466h1.15M439 553h1.15M440 423h1.15M440 428h1.15M440 433h1.15M440 434h1.15M440 447h1.15M440 498h1.15M441 425h1.15M441 438h1.15M441 442h1.15M441 456h1.15M441 520h1.15M441 551h1.15M442 408h1.15M442 427h1.15M442 442h1.15M442 449h1.15M442 474h1.15M442 535h1.15M442 538h1.15M442 554h1.15M442 558h1.15M443 426h1.15M443 428h1.15M443 434h1.15M443 544h1.15M443 552h1.15M444 419h1.15M444 422h1.15M444 428h1.15M444 442h1.15M444 443h1.15M444 514h1.15M444 518h1.15M444 531h1.15M444 533h1.15M445 426h1.15M445 429h1.15M445 440h1.15M445 446h1.15M445 447h1.15M445 471h1.15M445 480h1.15M445 512h1.15M445 522h1.15M445 534h1.15M446 428h1.15M446 435h1.15M446 446h1.15M446 550h1.15M446 559h1.15M447 429h1.15M447 433h1.15M447 459h1.15M447 541h1.15M447 556h1.15M448 423h1.15M448 430h1.15M448 510h1.15M448 546h1.15M448 549h1.15M448 554h1.15M449 441h1.15M449 539h1.15M450 430h1.15M450 440h1.15M450 452h1.15" stroke="#dd0808" stroke-width="1.15" fill="none" transform="translate(-0.1,0.5)"/>
<path d="M270 558h1.4M272 559h1.4M273 559h1.4M276 558h1.4M276 559h1.4M277 558h1.4M279 559h1.4M281 558h1.4M283 558h1.4M284 558h1.4M285 559h1.4M287 559h1.4M288 559h1.4M292 557h1.4M292 558h1.4M292 559h1.4M293 558h1.4M295 559h1.4M296 559h1.4M298 559h1.4M299 557h1.4M300 559h1.4M301 559h1.4M304 559h1.4M305 559h1.4M311 558h1.4M312 559h1.4M313 558h1.4M313 559h1.4M315 558h1.4M315 559h1.4M317 558h1.4M317 559h1.4M318 558h1.4M319 558h1.4M319 559h1.4M322 558h1.4M322 559h1.4M324 559h1.4M325 558h1.4M328 559h1.4M330 558h1.4M330 559h1.4M332 558h1.4M333 558h1.4M333 559h1.4M334 559h1.4M337 558h1.4M338 558h1.4M340 559h1.4M343 559h1.4M344 558h1.4M345 558h1.4M345 559h1.4M347 559h1.4M349 559h1.4M354 558h1.4M354 559h1.4M357 559h1.4M358 559h1.4M361 558h1.4M361 559h1.4M363 558h1.4M363 559h1.4M364 558h1.4M365 558h1.4M365 559h1.4M367 558h1.4M367 559h1.4M368 558h1.4M368 559h1.4M369 558h1.4M369 559h1.4M371 558h1.4M372 558h1.4M373 558h1.4M373 559h1.4M374 558h1.4M377 559h1.4M378 559h1.4M381 559h1.4M384 558h1.4M384 559h1.4M386 558h1.4M386 559h1.4M389 559h1.4M390 558h1.4M393 559h1.4M395 558h1.4M397 558h1.4M399 559h1.4M400 559h1.4M402 558h1.4M403 558h1.4M404 558h1.4M405 558h1.4M405 559h1.4M406 559h1.4M408 558h1.4M409 558h1.4M411 559h1.4M413 559h1.4M416 558h1.4M416 559h1.4M417 559h1.4M419 558h1.4M422 558h1.4M423 559h1.4M424 559h1.4M425 559h1.4M426 559h1.4M427 559h1.4M428 558h1.4M430 558h1.4M434 558h1.4M435 559h1.4M436 557h1.4M436 559h1.4M439 559h1.4M443 559h1.4M444 558h1.4M445 558h1.4M445 559h1.4M446 559h1.4M448 559h1.4M450 558h1.4" stroke="#a80000" stroke-width="1.6" fill="none" transform="translate(-0.2,0.5)"/>
</g>
<line x1="450.3" y1="396.0" x2="450.3" y2="449.0" stroke="#b00000" stroke-width="1.5"/>
<rect x="268.0" y="379.1" width="183.5" height="181.6" fill="none" stroke="#1e1e1e" stroke-width="1.3"/>
<line x1="350.3" y1="379.1" x2="350.3" y2="560.7" stroke="#111" stroke-width="1.3"/>
<line x1="268.0" y1="484.5" x2="451.5" y2="484.5" stroke="#111" stroke-width="1.3"/>
<path d="M268.0 560.7h-4M268.0 560.7v4M268.0 547.0h-2.4M281.8 560.7v2.4M268.0 539.0h-2.4M289.9 560.7v2.4M268.0 533.4h-2.4M295.6 560.7v2.4M268.0 529.0h-2.4M300.1 560.7v2.4M268.0 525.4h-2.4M303.7 560.7v2.4M268.0 522.3h-2.4M306.8 560.7v2.4M268.0 519.7h-2.4M309.4 560.7v2.4M268.0 517.4h-2.4M311.8 560.7v2.4M268.0 515.3h-4M313.9 560.7v4M268.0 501.6h-2.4M327.7 560.7v2.4M268.0 493.6h-2.4M335.8 560.7v2.4M268.0 488.0h-2.4M341.5 560.7v2.4M268.0 483.6h-2.4M345.9 560.7v2.4M268.0 480.0h-2.4M349.6 560.7v2.4M268.0 476.9h-2.4M352.6 560.7v2.4M268.0 474.3h-2.4M355.3 560.7v2.4M268.0 472.0h-2.4M357.7 560.7v2.4M268.0 469.9h-4M359.8 560.7v4M268.0 456.2h-2.4M373.6 560.7v2.4M268.0 448.2h-2.4M381.6 560.7v2.4M268.0 442.6h-2.4M387.4 560.7v2.4M268.0 438.2h-2.4M391.8 560.7v2.4M268.0 434.6h-2.4M395.4 560.7v2.4M268.0 431.5h-2.4M398.5 560.7v2.4M268.0 428.9h-2.4M401.2 560.7v2.4M268.0 426.6h-2.4M403.5 560.7v2.4M268.0 424.5h-4M405.6 560.7v4M268.0 410.8h-2.4M419.4 560.7v2.4M268.0 402.8h-2.4M427.5 560.7v2.4M268.0 397.2h-2.4M433.2 560.7v2.4M268.0 392.8h-2.4M437.7 560.7v2.4M268.0 389.2h-2.4M441.3 560.7v2.4M268.0 386.1h-2.4M444.4 560.7v2.4M268.0 383.5h-2.4M447.1 560.7v2.4M268.0 381.2h-2.4M449.4 560.7v2.4M268.0 379.1h-4M451.5 560.7v4" stroke="#222" stroke-width="1" fill="none"/>
<text transform="translate(262.0,567.6) rotate(-90)" font-size="8.6" textLength="7.6" lengthAdjust="spacingAndGlyphs" fill="#222">10</text>
<text transform="translate(258.4,558.8) rotate(-90)" font-size="7.6" fill="#222">0</text>
<text x="260.4" y="576.1" font-size="9.2" textLength="8.8" lengthAdjust="spacingAndGlyphs" fill="#222">10</text>
<text x="270.0" y="571.6" font-size="7.6" fill="#222">0</text>
<text transform="translate(262.0,522.2) rotate(-90)" font-size="8.6" textLength="7.6" lengthAdjust="spacingAndGlyphs" fill="#222">10</text>
<text transform="translate(258.4,513.4) rotate(-90)" font-size="7.6" fill="#222">1</text>
<text x="306.3" y="576.1" font-size="9.2" textLength="8.8" lengthAdjust="spacingAndGlyphs" fill="#222">10</text>
<text x="315.9" y="571.6" font-size="7.6" fill="#222">1</text>
<text transform="translate(262.0,476.8) rotate(-90)" font-size="8.6" textLength="7.6" lengthAdjust="spacingAndGlyphs" fill="#222">10</text>
<text transform="translate(258.4,468.0) rotate(-90)" font-size="7.6" fill="#222">2</text>
<text x="352.1" y="576.1" font-size="9.2" textLength="8.8" lengthAdjust="spacingAndGlyphs" fill="#222">10</text>
<text x="361.8" y="571.6" font-size="7.6" fill="#222">2</text>
<text transform="translate(262.0,431.4) rotate(-90)" font-size="8.6" textLength="7.6" lengthAdjust="spacingAndGlyphs" fill="#222">10</text>
<text transform="translate(258.4,422.6) rotate(-90)" font-size="7.6" fill="#222">3</text>
<text x="398.0" y="576.1" font-size="9.2" textLength="8.8" lengthAdjust="spacingAndGlyphs" fill="#222">10</text>
<text x="407.6" y="571.6" font-size="7.6" fill="#222">3</text>
<text transform="translate(262.0,386.0) rotate(-90)" font-size="8.6" textLength="7.6" lengthAdjust="spacingAndGlyphs" fill="#222">10</text>
<text transform="translate(258.4,377.2) rotate(-90)" font-size="7.6" fill="#222">4</text>
<text x="443.9" y="576.1" font-size="9.2" textLength="8.8" lengthAdjust="spacingAndGlyphs" fill="#222">10</text>
<text x="453.5" y="571.6" font-size="7.6" fill="#222">4</text>
<text x="328.4" y="584.0" textLength="60.1" lengthAdjust="spacingAndGlyphs" font-size="8.6" fill="#222">Annexin V FITC</text>
<text transform="translate(250.1,502.9) rotate(-90)" x="0" y="0" textLength="64.0" lengthAdjust="spacingAndGlyphs" font-size="8.2" fill="#222">Propidium Iodide</text>
<line x1="275.4" y1="404.4" x2="333.1" y2="404.4" stroke="#222" stroke-width="1.0"/>
<line x1="304.6" y1="392.1" x2="304.6" y2="416.9" stroke="#222" stroke-width="1.0"/>
<text x="280.9" y="401.8" textLength="20.2" lengthAdjust="spacingAndGlyphs" font-size="10" fill="#222">0.03</text>
<text x="307.6" y="401.8" textLength="20.3" lengthAdjust="spacingAndGlyphs" font-size="10" fill="#222">3.55</text>
<text x="275.6" y="415.2" textLength="26.2" lengthAdjust="spacingAndGlyphs" font-size="10" fill="#222">69.99</text>
<text x="307.6" y="415.2" textLength="26.4" lengthAdjust="spacingAndGlyphs" font-size="10" fill="#222">26.43</text>
<clipPath id="c3"><rect x="49.1" y="603.4" width="183.7" height="187.3"/></clipPath>
<g clip-path="url(#c3)">
<path d="M76 782h1.15M78 754h1.15M78 774h1.15M80 781h1.15M80 783h1.15M83 754h1.15M84 752h1.15M85 781h1.15M86 751h1.15M87 769h1.15M88 760h1.15M89 766h1.15M90 774h1.15M92 742h1.15M92 758h1.15M92 762h1.15M92 770h1.15M93 766h1.15M95 734h1.15M95 751h1.15M95 756h1.15M95 775h1.15M95 781h1.15M96 749h1.15M96 758h1.15M96 764h1.15M96 768h1.15M97 735h1.15M97 742h1.15M97 773h1.15M98 724h1.15M98 737h1.15M98 751h1.15M98 754h1.15M98 758h1.15M98 765h1.15M98 767h1.15M98 769h1.15M99 742h1.15M99 745h1.15M99 770h1.15M100 732h1.15M100 742h1.15M100 744h1.15M100 745h1.15M100 752h1.15M100 753h1.15M100 754h1.15M100 756h1.15M100 760h1.15M100 761h1.15M100 762h1.15M100 774h1.15M101 736h1.15M101 741h1.15M101 742h1.15M101 745h1.15M101 748h1.15M101 749h1.15M101 753h1.15M101 761h1.15M101 767h1.15M101 769h1.15M102 737h1.15M102 742h1.15M102 748h1.15M102 751h1.15M102 753h1.15M102 754h1.15M102 756h1.15M102 758h1.15M102 759h1.15M102 761h1.15M102 763h1.15M102 767h1.15M102 772h1.15M102 773h1.15M102 774h1.15M103 736h1.15M103 738h1.15M103 740h1.15M103 745h1.15M103 748h1.15M103 750h1.15M103 751h1.15M103 753h1.15M103 754h1.15M103 759h1.15M103 764h1.15M103 766h1.15M103 768h1.15M103 773h1.15M104 722h1.15M104 736h1.15M104 737h1.15M104 738h1.15M104 739h1.15M104 744h1.15M104 748h1.15M104 749h1.15M104 754h1.15M104 755h1.15M104 756h1.15M104 757h1.15M104 758h1.15M104 759h1.15M104 761h1.15M104 764h1.15M104 768h1.15M104 779h1.15M104 783h1.15M105 733h1.15M105 735h1.15M105 739h1.15M105 741h1.15M105 746h1.15M105 747h1.15M105 749h1.15M105 750h1.15M105 753h1.15M105 755h1.15M105 756h1.15M105 758h1.15M105 759h1.15M105 760h1.15M105 762h1.15M105 764h1.15M105 767h1.15M105 768h1.15M105 769h1.15M105 770h1.15M105 772h1.15M105 774h1.15M105 775h1.15M105 777h1.15M105 782h1.15M105 784h1.15M106 731h1.15M106 734h1.15M106 738h1.15M106 739h1.15M106 741h1.15M106 742h1.15M106 743h1.15M106 745h1.15M106 746h1.15M106 749h1.15M106 755h1.15M106 756h1.15M106 758h1.15M106 760h1.15M106 761h1.15M106 762h1.15M106 763h1.15M106 764h1.15M106 765h1.15M106 768h1.15M106 769h1.15M106 770h1.15M106 771h1.15M106 772h1.15M106 773h1.15M106 774h1.15M106 776h1.15M106 778h1.15M106 782h1.15M106 784h1.15M107 727h1.15M107 732h1.15M107 736h1.15M107 737h1.15M107 739h1.15M107 746h1.15M107 747h1.15M107 748h1.15M107 749h1.15M107 750h1.15M107 752h1.15M107 753h1.15M107 755h1.15M107 756h1.15M107 757h1.15M107 758h1.15M107 761h1.15M107 762h1.15M107 764h1.15M107 767h1.15M107 769h1.15M107 770h1.15M107 771h1.15M107 775h1.15M107 776h1.15M107 777h1.15M107 783h1.15M108 735h1.15M108 736h1.15M108 737h1.15M108 739h1.15M108 741h1.15M108 743h1.15M108 745h1.15M108 746h1.15M108 749h1.15M108 750h1.15M108 751h1.15M108 752h1.15M108 753h1.15M108 755h1.15M108 756h1.15M108 757h1.15M108 758h1.15M108 759h1.15M108 760h1.15M108 761h1.15M108 762h1.15M108 763h1.15M108 764h1.15M108 765h1.15M108 766h1.15M108 767h1.15M108 768h1.15M108 769h1.15M108 770h1.15M108 772h1.15M108 774h1.15M108 775h1.15M108 777h1.15M108 781h1.15M109 729h1.15M109 731h1.15M109 735h1.15M109 737h1.15M109 738h1.15M109 739h1.15M109 740h1.15M109 741h1.15M109 743h1.15M109 744h1.15M109 745h1.15M109 746h1.15M109 747h1.15M109 748h1.15M109 749h1.15M109 750h1.15M109 751h1.15M109 752h1.15M109 753h1.15M109 754h1.15M109 755h1.15M109 756h1.15M109 757h1.15M109 758h1.15M109 759h1.15M109 760h1.15M109 761h1.15M109 762h1.15M109 763h1.15M109 764h1.15M109 766h1.15M109 767h1.15M109 768h1.15M109 769h1.15M109 772h1.15M109 775h1.15M109 779h1.15M109 781h1.15M109 788h1.15M110 725h1.15M110 726h1.15M110 729h1.15M110 730h1.15M110 735h1.15M110 737h1.15M110 740h1.15M110 741h1.15M110 743h1.15M110 744h1.15M110 745h1.15M110 746h1.15M110 747h1.15M110 748h1.15M110 749h1.15M110 750h1.15M110 751h1.15M110 752h1.15M110 753h1.15M110 754h1.15M110 755h1.15M110 756h1.15M110 757h1.15M110 758h1.15M110 759h1.15M110 760h1.15M110 761h1.15M110 762h1.15M110 763h1.15M110 764h1.15M110 766h1.15M110 767h1.15M110 768h1.15M110 769h1.15M110 770h1.15M110 771h1.15M110 773h1.15M110 774h1.15M110 775h1.15M110 777h1.15M110 779h1.15M111 721h1.15M111 729h1.15M111 731h1.15M111 733h1.15M111 734h1.15M111 735h1.15M111 737h1.15M111 738h1.15M111 740h1.15M111 741h1.15M111 742h1.15M111 743h1.15M111 744h1.15M111 745h1.15M111 746h1.15M111 749h1.15M111 750h1.15M111 751h1.15M111 752h1.15M111 753h1.15M111 754h1.15M111 756h1.15M111 757h1.15M111 758h1.15M111 759h1.15M111 760h1.15M111 761h1.15M111 762h1.15M111 763h1.15M111 764h1.15M111 768h1.15M111 769h1.15M111 772h1.15M111 775h1.15M111 777h1.15M111 778h1.15M111 780h1.15M111 782h1.15M111 789h1.15M112 728h1.15M112 729h1.15M112 731h1.15M112 732h1.15M112 734h1.15M112 735h1.15M112 737h1.15M112 738h1.15M112 740h1.15M112 741h1.15M112 742h1.15M112 743h1.15M112 744h1.15M112 745h1.15M112 746h1.15M112 747h1.15M112 748h1.15M112 749h1.15M112 750h1.15M112 751h1.15M112 752h1.15M112 753h1.15M112 754h1.15M112 755h1.15M112 756h1.15M112 757h1.15M112 758h1.15M112 759h1.15M112 760h1.15M112 761h1.15M112 762h1.15M112 763h1.15M112 764h1.15M112 765h1.15M112 766h1.15M112 767h1.15M112 768h1.15M112 769h1.15M112 770h1.15M112 771h1.15M112 772h1.15M112 773h1.15M112 774h1.15M112 775h1.15M112 776h1.15M112 778h1.15M112 780h1.15M113 728h1.15M113 729h1.15M113 733h1.15M113 734h1.15M113 735h1.15M113 736h1.15M113 737h1.15M113 738h1.15M113 740h1.15M113 741h1.15M113 742h1.15M113 743h1.15M113 744h1.15M113 745h1.15M113 746h1.15M113 747h1.15M113 748h1.15M113 749h1.15M113 750h1.15M113 751h1.15M113 752h1.15M113 753h1.15M113 754h1.15M113 755h1.15M113 756h1.15M113 757h1.15M113 758h1.15M113 759h1.15M113 760h1.15M113 761h1.15M113 762h1.15M113 763h1.15M113 764h1.15M113 765h1.15M113 766h1.15M113 767h1.15M113 768h1.15M113 769h1.15M113 770h1.15M113 771h1.15M113 772h1.15M113 773h1.15M113 775h1.15M113 776h1.15M113 778h1.15M113 780h1.15M113 788h1.15M113 789h1.15M114 720h1.15M114 725h1.15M114 726h1.15M114 728h1.15M114 731h1.15M114 732h1.15M114 733h1.15M114 735h1.15M114 737h1.15M114 738h1.15M114 739h1.15M114 740h1.15M114 741h1.15M114 742h1.15M114 744h1.15M114 745h1.15M114 746h1.15M114 747h1.15M114 748h1.15M114 749h1.15M114 750h1.15M114 751h1.15M114 752h1.15M114 753h1.15M114 754h1.15M114 755h1.15M114 756h1.15M114 757h1.15M114 758h1.15M114 759h1.15M114 760h1.15M114 761h1.15M114 762h1.15M114 763h1.15M114 764h1.15M114 765h1.15M114 767h1.15M114 768h1.15M114 770h1.15M114 771h1.15M114 772h1.15M114 773h1.15M114 774h1.15M114 776h1.15M114 777h1.15M114 778h1.15M114 782h1.15M115 721h1.15M115 725h1.15M115 726h1.15M115 727h1.15M115 728h1.15M115 729h1.15M115 730h1.15M115 731h1.15M115 732h1.15M115 735h1.15M115 736h1.15M115 737h1.15M115 738h1.15M115 739h1.15M115 740h1.15M115 741h1.15M115 742h1.15M115 743h1.15M115 744h1.15M115 745h1.15M115 746h1.15M115 747h1.15M115 748h1.15M115 749h1.15M115 750h1.15M115 751h1.15M115 752h1.15M115 753h1.15M115 754h1.15M115 755h1.15M115 756h1.15M115 757h1.15M115 758h1.15M115 759h1.15M115 760h1.15M115 761h1.15M115 762h1.15M115 763h1.15M115 764h1.15M115 765h1.15M115 766h1.15M115 767h1.15M115 769h1.15M115 770h1.15M115 771h1.15M115 772h1.15M115 773h1.15M115 775h1.15M115 776h1.15M115 777h1.15M115 778h1.15M115 779h1.15M115 780h1.15M115 788h1.15M116 724h1.15M116 727h1.15M116 728h1.15M116 729h1.15M116 733h1.15M116 734h1.15M116 735h1.15M116 736h1.15M116 737h1.15M116 738h1.15M116 739h1.15M116 740h1.15M116 741h1.15M116 742h1.15M116 743h1.15M116 745h1.15M116 746h1.15M116 747h1.15M116 748h1.15M116 749h1.15M116 750h1.15M116 751h1.15M116 752h1.15M116 753h1.15M116 754h1.15M116 755h1.15M116 756h1.15M116 757h1.15M116 758h1.15M116 759h1.15M116 760h1.15M116 761h1.15M116 762h1.15M116 763h1.15M116 764h1.15M116 765h1.15M116 766h1.15M116 767h1.15M116 769h1.15M116 770h1.15M116 771h1.15M116 772h1.15M116 774h1.15M116 776h1.15M116 777h1.15M116 778h1.15M116 782h1.15M116 787h1.15M117 727h1.15M117 728h1.15M117 729h1.15M117 730h1.15M117 731h1.15M117 732h1.15M117 735h1.15M117 737h1.15M117 738h1.15M117 739h1.15M117 740h1.15M117 741h1.15M117 742h1.15M117 743h1.15M117 744h1.15M117 745h1.15M117 746h1.15M117 747h1.15M117 748h1.15M117 749h1.15M117 750h1.15M117 751h1.15M117 752h1.15M117 753h1.15M117 754h1.15M117 755h1.15M117 756h1.15M117 757h1.15M117 758h1.15M117 759h1.15M117 760h1.15M117 761h1.15M117 762h1.15M117 763h1.15M117 764h1.15M117 765h1.15M117 766h1.15M117 767h1.15M117 768h1.15M117 769h1.15M117 770h1.15M117 771h1.15M117 772h1.15M117 773h1.15M117 775h1.15M117 776h1.15M117 777h1.15M117 778h1.15M117 779h1.15M117 780h1.15M117 781h1.15M117 782h1.15M117 783h1.15M117 785h1.15M117 787h1.15M118 715h1.15M118 717h1.15M118 718h1.15M118 722h1.15M118 727h1.15M118 728h1.15M118 729h1.15M118 733h1.15M118 734h1.15M118 735h1.15M118 736h1.15M118 738h1.15M118 739h1.15M118 740h1.15M118 741h1.15M118 742h1.15M118 743h1.15M118 744h1.15M118 745h1.15M118 746h1.15M118 747h1.15M118 748h1.15M118 749h1.15M118 750h1.15M118 751h1.15M118 752h1.15M118 753h1.15M118 754h1.15M118 755h1.15M118 756h1.15M118 757h1.15M118 758h1.15M118 759h1.15M118 760h1.15M118 761h1.15M118 762h1.15M118 763h1.15M118 764h1.15M118 765h1.15M118 766h1.15M118 767h1.15M118 768h1.15M118 769h1.15M118 770h1.15M118 771h1.15M118 772h1.15M118 774h1.15M118 775h1.15M118 777h1.15M118 778h1.15M118 779h1.15M118 780h1.15M118 781h1.15M118 782h1.15M119 717h1.15M119 718h1.15M119 723h1.15M119 725h1.15M119 728h1.15M119 729h1.15M119 732h1.15M119 733h1.15M119 734h1.15M119 735h1.15M119 736h1.15M119 737h1.15M119 738h1.15M119 739h1.15M119 740h1.15M119 741h1.15M119 742h1.15M119 743h1.15M119 744h1.15M119 745h1.15M119 746h1.15M119 747h1.15M119 748h1.15M119 749h1.15M119 750h1.15M119 751h1.15M119 752h1.15M119 753h1.15M119 754h1.15M119 755h1.15M119 756h1.15M119 757h1.15M119 758h1.15M119 759h1.15M119 760h1.15M119 761h1.15M119 762h1.15M119 763h1.15M119 764h1.15M119 765h1.15M119 766h1.15M119 767h1.15M119 768h1.15M119 769h1.15M119 770h1.15M119 771h1.15M119 772h1.15M119 774h1.15M119 775h1.15M119 776h1.15M119 777h1.15M119 778h1.15M119 780h1.15M119 781h1.15M119 783h1.15M119 786h1.15M119 787h1.15M120 719h1.15M120 723h1.15M120 724h1.15M120 729h1.15M120 730h1.15M120 731h1.15M120 732h1.15M120 733h1.15M120 734h1.15M120 737h1.15M120 738h1.15M120 739h1.15M120 740h1.15M120 741h1.15M120 742h1.15M120 743h1.15M120 744h1.15M120 745h1.15M120 746h1.15M120 747h1.15M120 748h1.15M120 749h1.15M120 750h1.15M120 751h1.15M120 752h1.15M120 753h1.15M120 754h1.15M120 755h1.15M120 756h1.15M120 757h1.15M120 758h1.15M120 759h1.15M120 760h1.15M120 761h1.15M120 762h1.15M120 763h1.15M120 764h1.15M120 765h1.15M120 766h1.15M120 767h1.15M120 768h1.15M120 769h1.15M120 770h1.15M120 771h1.15M120 772h1.15M120 773h1.15M120 774h1.15M120 775h1.15M120 776h1.15M120 777h1.15M120 778h1.15M120 779h1.15M120 780h1.15M120 781h1.15M120 784h1.15M120 787h1.15M120 789h1.15M121 723h1.15M121 726h1.15M121 727h1.15M121 728h1.15M121 729h1.15M121 731h1.15M121 732h1.15M121 733h1.15M121 734h1.15M121 735h1.15M121 736h1.15M121 737h1.15M121 738h1.15M121 739h1.15M121 740h1.15M121 741h1.15M121 742h1.15M121 743h1.15M121 744h1.15M121 745h1.15M121 746h1.15M121 747h1.15M121 748h1.15M121 749h1.15M121 750h1.15M121 751h1.15M121 752h1.15M121 753h1.15M121 754h1.15M121 755h1.15M121 756h1.15M121 757h1.15M121 758h1.15M121 759h1.15M121 760h1.15M121 761h1.15M121 762h1.15M121 763h1.15M121 764h1.15M121 765h1.15M121 766h1.15M121 767h1.15M121 768h1.15M121 769h1.15M121 770h1.15M121 771h1.15M121 772h1.15M121 773h1.15M121 774h1.15M121 775h1.15M121 776h1.15M121 777h1.15M121 778h1.15M121 780h1.15M121 784h1.15M121 785h1.15M121 786h1.15M121 789h1.15M121 790h1.15M122 715h1.15M122 723h1.15M122 726h1.15M122 729h1.15M122 732h1.15M122 734h1.15M122 735h1.15M122 736h1.15M122 737h1.15M122 738h1.15M122 739h1.15M122 740h1.15M122 741h1.15M122 742h1.15M122 743h1.15M122 744h1.15M122 745h1.15M122 746h1.15M122 747h1.15M122 748h1.15M122 749h1.15M122 750h1.15M122 751h1.15M122 752h1.15M122 753h1.15M122 754h1.15M122 755h1.15M122 756h1.15M122 757h1.15M122 758h1.15M122 759h1.15M122 760h1.15M122 761h1.15M122 762h1.15M122 763h1.15M122 764h1.15M122 765h1.15M122 766h1.15M122 767h1.15M122 768h1.15M122 769h1.15M122 770h1.15M122 771h1.15M122 772h1.15M122 773h1.15M122 774h1.15M122 775h1.15M122 776h1.15M122 777h1.15M122 778h1.15M122 779h1.15M122 781h1.15M122 782h1.15M122 783h1.15M122 788h1.15M123 722h1.15M123 726h1.15M123 728h1.15M123 729h1.15M123 730h1.15M123 731h1.15M123 732h1.15M123 734h1.15M123 735h1.15M123 736h1.15M123 737h1.15M123 738h1.15M123 739h1.15M123 740h1.15M123 741h1.15M123 742h1.15M123 743h1.15M123 744h1.15M123 745h1.15M123 746h1.15M123 747h1.15M123 748h1.15M123 749h1.15M123 750h1.15M123 751h1.15M123 752h1.15M123 753h1.15M123 754h1.15M123 755h1.15M123 756h1.15M123 757h1.15M123 758h1.15M123 759h1.15M123 760h1.15M123 761h1.15M123 762h1.15M123 763h1.15M123 764h1.15M123 765h1.15M123 766h1.15M123 767h1.15M123 768h1.15M123 769h1.15M123 770h1.15M123 771h1.15M123 772h1.15M123 773h1.15M123 774h1.15M123 775h1.15M123 776h1.15M123 777h1.15M123 778h1.15M123 783h1.15M123 784h1.15M123 787h1.15M123 789h1.15M124 717h1.15M124 721h1.15M124 724h1.15M124 725h1.15M124 726h1.15M124 729h1.15M124 730h1.15M124 731h1.15M124 732h1.15M124 733h1.15M124 734h1.15M124 735h1.15M124 736h1.15M124 737h1.15M124 739h1.15M124 740h1.15M124 741h1.15M124 742h1.15M124 743h1.15M124 744h1.15M124 745h1.15M124 746h1.15M124 747h1.15M124 748h1.15M124 749h1.15M124 750h1.15M124 751h1.15M124 752h1.15M124 753h1.15M124 754h1.15M124 755h1.15M124 756h1.15M124 757h1.15M124 758h1.15M124 759h1.15M124 760h1.15M124 761h1.15M124 762h1.15M124 763h1.15M124 764h1.15M124 765h1.15M124 766h1.15M124 767h1.15M124 768h1.15M124 769h1.15M124 770h1.15M124 771h1.15M124 772h1.15M124 773h1.15M124 774h1.15M124 775h1.15M124 776h1.15M124 777h1.15M124 778h1.15M124 779h1.15M124 780h1.15M124 784h1.15M125 723h1.15M125 724h1.15M125 725h1.15M125 727h1.15M125 730h1.15M125 731h1.15M125 732h1.15M125 733h1.15M125 734h1.15M125 735h1.15M125 737h1.15M125 738h1.15M125 739h1.15M125 740h1.15M125 741h1.15M125 742h1.15M125 743h1.15M125 744h1.15M125 745h1.15M125 746h1.15M125 747h1.15M125 748h1.15M125 749h1.15M125 750h1.15M125 751h1.15M125 752h1.15M125 753h1.15M125 754h1.15M125 755h1.15M125 756h1.15M125 757h1.15M125 758h1.15M125 759h1.15M125 760h1.15M125 761h1.15M125 762h1.15M125 763h1.15M125 764h1.15M125 765h1.15M125 766h1.15M125 767h1.15M125 768h1.15M125 769h1.15M125 770h1.15M125 771h1.15M125 772h1.15M125 773h1.15M125 775h1.15M125 776h1.15M125 777h1.15M125 778h1.15M125 779h1.15M125 780h1.15M125 781h1.15M125 784h1.15M125 787h1.15M126 720h1.15M126 726h1.15M126 727h1.15M126 728h1.15M126 729h1.15M126 730h1.15M126 731h1.15M126 732h1.15M126 733h1.15M126 734h1.15M126 735h1.15M126 736h1.15M126 737h1.15M126 738h1.15M126 739h1.15M126 740h1.15M126 741h1.15M126 742h1.15M126 743h1.15M126 744h1.15M126 745h1.15M126 746h1.15M126 747h1.15M126 748h1.15M126 749h1.15M126 750h1.15M126 751h1.15M126 752h1.15M126 753h1.15M126 754h1.15M126 755h1.15M126 756h1.15M126 757h1.15M126 758h1.15M126 759h1.15M126 760h1.15M126 761h1.15M126 762h1.15M126 763h1.15M126 764h1.15M126 765h1.15M126 766h1.15M126 767h1.15M126 768h1.15M126 769h1.15M126 770h1.15M126 771h1.15M126 772h1.15M126 773h1.15M126 774h1.15M126 775h1.15M126 776h1.15M126 779h1.15M126 780h1.15M126 781h1.15M126 783h1.15M126 786h1.15M127 721h1.15M127 727h1.15M127 728h1.15M127 729h1.15M127 730h1.15M127 731h1.15M127 732h1.15M127 733h1.15M127 734h1.15M127 735h1.15M127 736h1.15M127 737h1.15M127 738h1.15M127 739h1.15M127 740h1.15M127 741h1.15M127 742h1.15M127 743h1.15M127 744h1.15M127 745h1.15M127 746h1.15M127 747h1.15M127 748h1.15M127 749h1.15M127 750h1.15M127 751h1.15M127 752h1.15M127 753h1.15M127 754h1.15M127 755h1.15M127 756h1.15M127 757h1.15M127 758h1.15M127 759h1.15M127 760h1.15M127 761h1.15M127 762h1.15M127 763h1.15M127 764h1.15M127 765h1.15M127 766h1.15M127 767h1.15M127 768h1.15M127 769h1.15M127 770h1.15M127 771h1.15M127 772h1.15M127 773h1.15M127 774h1.15M127 775h1.15M127 776h1.15M127 777h1.15M127 778h1.15M127 779h1.15M127 780h1.15M127 781h1.15M127 783h1.15M127 786h1.15M127 787h1.15M128 717h1.15M128 723h1.15M128 727h1.15M128 730h1.15M128 732h1.15M128 733h1.15M128 734h1.15M128 735h1.15M128 736h1.15M128 737h1.15M128 738h1.15M128 739h1.15M128 740h1.15M128 741h1.15M128 742h1.15M128 743h1.15M128 744h1.15M128 745h1.15M128 746h1.15M128 747h1.15M128 748h1.15M128 749h1.15M128 750h1.15M128 751h1.15M128 752h1.15M128 753h1.15M128 754h1.15M128 755h1.15M128 756h1.15M128 757h1.15M128 758h1.15M128 759h1.15M128 760h1.15M128 761h1.15M128 762h1.15M128 763h1.15M128 764h1.15M128 765h1.15M128 766h1.15M128 767h1.15M128 768h1.15M128 769h1.15M128 770h1.15M128 771h1.15M128 772h1.15M128 773h1.15M128 774h1.15M128 775h1.15M128 777h1.15M128 779h1.15M128 781h1.15M128 782h1.15M129 721h1.15M129 722h1.15M129 726h1.15M129 728h1.15M129 731h1.15M129 732h1.15M129 733h1.15M129 734h1.15M129 735h1.15M129 736h1.15M129 737h1.15M129 738h1.15M129 739h1.15M129 740h1.15M129 741h1.15M129 742h1.15M129 744h1.15M129 745h1.15M129 746h1.15M129 747h1.15M129 748h1.15M129 749h1.15M129 750h1.15M129 751h1.15M129 752h1.15M129 753h1.15M129 754h1.15M129 755h1.15M129 756h1.15M129 757h1.15M129 758h1.15M129 759h1.15M129 760h1.15M129 761h1.15M129 762h1.15M129 763h1.15M129 764h1.15M129 765h1.15M129 766h1.15M129 767h1.15M129 768h1.15M129 769h1.15M129 770h1.15M129 771h1.15M129 772h1.15M129 773h1.15M129 774h1.15M129 775h1.15M129 776h1.15M129 777h1.15M129 778h1.15M129 781h1.15M129 782h1.15M130 713h1.15M130 719h1.15M130 723h1.15M130 725h1.15M130 727h1.15M130 728h1.15M130 731h1.15M130 732h1.15M130 733h1.15M130 734h1.15M130 735h1.15M130 736h1.15M130 737h1.15M130 739h1.15M130 740h1.15M130 741h1.15M130 742h1.15M130 743h1.15M130 744h1.15M130 745h1.15M130 746h1.15M130 747h1.15M130 748h1.15M130 749h1.15M130 750h1.15M130 751h1.15M130 752h1.15M130 753h1.15M130 754h1.15M130 755h1.15M130 756h1.15M130 757h1.15M130 758h1.15M130 759h1.15M130 760h1.15M130 761h1.15M130 762h1.15M130 763h1.15M130 764h1.15M130 765h1.15M130 766h1.15M130 767h1.15M130 768h1.15M130 769h1.15M130 770h1.15M130 771h1.15M130 772h1.15M130 773h1.15M130 774h1.15M130 775h1.15M130 776h1.15M130 777h1.15M130 778h1.15M130 779h1.15M130 780h1.15M130 781h1.15M130 783h1.15M131 728h1.15M131 730h1.15M131 732h1.15M131 733h1.15M131 734h1.15M131 735h1.15M131 736h1.15M131 737h1.15M131 738h1.15M131 739h1.15M131 740h1.15M131 741h1.15M131 742h1.15M131 743h1.15M131 744h1.15M131 745h1.15M131 746h1.15M131 747h1.15M131 748h1.15M131 749h1.15M131 750h1.15M131 751h1.15M131 752h1.15M131 753h1.15M131 754h1.15M131 755h1.15M131 756h1.15M131 757h1.15M131 758h1.15M131 759h1.15M131 760h1.15M131 761h1.15M131 762h1.15M131 763h1.15M131 764h1.15M131 765h1.15M131 766h1.15M131 767h1.15M131 768h1.15M131 769h1.15M131 770h1.15M131 771h1.15M131 772h1.15M131 773h1.15M131 774h1.15M131 775h1.15M131 777h1.15M131 778h1.15M131 779h1.15M131 780h1.15M131 787h1.15M132 722h1.15M132 729h1.15M132 730h1.15M132 732h1.15M132 733h1.15M132 735h1.15M132 736h1.15M132 738h1.15M132 739h1.15M132 740h1.15M132 741h1.15M132 742h1.15M132 743h1.15M132 744h1.15M132 745h1.15M132 746h1.15M132 747h1.15M132 748h1.15M132 749h1.15M132 750h1.15M132 751h1.15M132 752h1.15M132 753h1.15M132 754h1.15M132 755h1.15M132 756h1.15M132 757h1.15M132 758h1.15M132 759h1.15M132 760h1.15M132 761h1.15M132 762h1.15M132 763h1.15M132 764h1.15M132 765h1.15M132 766h1.15M132 767h1.15M132 768h1.15M132 769h1.15M132 770h1.15M132 773h1.15M132 775h1.15M132 776h1.15M132 778h1.15M132 780h1.15M132 781h1.15M132 782h1.15M132 783h1.15M132 784h1.15M132 785h1.15M132 786h1.15M133 721h1.15M133 722h1.15M133 729h1.15M133 730h1.15M133 731h1.15M133 732h1.15M133 733h1.15M133 735h1.15M133 736h1.15M133 737h1.15M133 738h1.15M133 739h1.15M133 740h1.15M133 741h1.15M133 742h1.15M133 743h1.15M133 744h1.15M133 745h1.15M133 746h1.15M133 747h1.15M133 748h1.15M133 749h1.15M133 750h1.15M133 751h1.15M133 752h1.15M133 753h1.15M133 754h1.15M133 755h1.15M133 756h1.15M133 757h1.15M133 758h1.15M133 759h1.15M133 760h1.15M133 761h1.15M133 762h1.15M133 763h1.15M133 764h1.15M133 765h1.15M133 766h1.15M133 767h1.15M133 768h1.15M133 769h1.15M133 770h1.15M133 771h1.15M133 772h1.15M133 773h1.15M133 774h1.15M133 776h1.15M133 777h1.15M133 779h1.15M133 786h1.15M133 790h1.15M134 726h1.15M134 730h1.15M134 732h1.15M134 733h1.15M134 735h1.15M134 736h1.15M134 738h1.15M134 739h1.15M134 740h1.15M134 741h1.15M134 742h1.15M134 743h1.15M134 744h1.15M134 745h1.15M134 746h1.15M134 747h1.15M134 748h1.15M134 749h1.15M134 750h1.15M134 751h1.15M134 752h1.15M134 753h1.15M134 754h1.15M134 755h1.15M134 756h1.15M134 757h1.15M134 758h1.15M134 759h1.15M134 762h1.15M134 763h1.15M134 764h1.15M134 765h1.15M134 766h1.15M134 767h1.15M134 768h1.15M134 771h1.15M134 772h1.15M134 774h1.15M134 776h1.15M134 777h1.15M134 779h1.15M134 780h1.15M134 783h1.15M134 784h1.15M134 785h1.15M135 725h1.15M135 726h1.15M135 730h1.15M135 731h1.15M135 732h1.15M135 733h1.15M135 734h1.15M135 735h1.15M135 736h1.15M135 738h1.15M135 739h1.15M135 740h1.15M135 741h1.15M135 742h1.15M135 744h1.15M135 745h1.15M135 746h1.15M135 747h1.15M135 748h1.15M135 749h1.15M135 750h1.15M135 751h1.15M135 752h1.15M135 753h1.15M135 754h1.15M135 755h1.15M135 756h1.15M135 757h1.15M135 758h1.15M135 759h1.15M135 760h1.15M135 761h1.15M135 762h1.15M135 763h1.15M135 764h1.15M135 765h1.15M135 766h1.15M135 767h1.15M135 768h1.15M135 769h1.15M135 770h1.15M135 771h1.15M135 772h1.15M135 773h1.15M135 774h1.15M135 775h1.15M135 777h1.15M135 779h1.15M135 780h1.15M136 733h1.15M136 734h1.15M136 736h1.15M136 737h1.15M136 738h1.15M136 740h1.15M136 741h1.15M136 742h1.15M136 743h1.15M136 744h1.15M136 745h1.15M136 746h1.15M136 747h1.15M136 748h1.15M136 749h1.15M136 750h1.15M136 751h1.15M136 752h1.15M136 753h1.15M136 754h1.15M136 755h1.15M136 756h1.15M136 757h1.15M136 758h1.15M136 759h1.15M136 760h1.15M136 761h1.15M136 762h1.15M136 763h1.15M136 764h1.15M136 765h1.15M136 767h1.15M136 768h1.15M136 769h1.15M136 770h1.15M136 771h1.15M136 772h1.15M136 773h1.15M136 774h1.15M136 776h1.15M136 778h1.15M136 779h1.15M136 781h1.15M136 782h1.15M137 724h1.15M137 731h1.15M137 733h1.15M137 737h1.15M137 738h1.15M137 740h1.15M137 741h1.15M137 742h1.15M137 743h1.15M137 744h1.15M137 745h1.15M137 746h1.15M137 749h1.15M137 750h1.15M137 751h1.15M137 752h1.15M137 753h1.15M137 754h1.15M137 755h1.15M137 756h1.15M137 757h1.15M137 758h1.15M137 759h1.15M137 760h1.15M137 761h1.15M137 762h1.15M137 763h1.15M137 764h1.15M137 765h1.15M137 766h1.15M137 767h1.15M137 768h1.15M137 769h1.15M137 770h1.15M137 771h1.15M137 772h1.15M137 773h1.15M137 775h1.15M137 776h1.15M137 778h1.15M137 783h1.15M138 727h1.15M138 730h1.15M138 734h1.15M138 736h1.15M138 737h1.15M138 738h1.15M138 739h1.15M138 742h1.15M138 743h1.15M138 744h1.15M138 745h1.15M138 746h1.15M138 747h1.15M138 748h1.15M138 750h1.15M138 751h1.15M138 752h1.15M138 753h1.15M138 754h1.15M138 755h1.15M138 756h1.15M138 757h1.15M138 758h1.15M138 759h1.15M138 760h1.15M138 762h1.15M138 763h1.15M138 764h1.15M138 765h1.15M138 766h1.15M138 767h1.15M138 770h1.15M138 771h1.15M138 773h1.15M138 774h1.15M138 775h1.15M138 778h1.15M138 780h1.15M138 782h1.15M138 783h1.15M138 786h1.15M139 726h1.15M139 730h1.15M139 734h1.15M139 735h1.15M139 736h1.15M139 739h1.15M139 741h1.15M139 742h1.15M139 743h1.15M139 744h1.15M139 745h1.15M139 746h1.15M139 747h1.15M139 748h1.15M139 749h1.15M139 750h1.15M139 751h1.15M139 752h1.15M139 753h1.15M139 754h1.15M139 755h1.15M139 756h1.15M139 757h1.15M139 759h1.15M139 760h1.15M139 761h1.15M139 762h1.15M139 763h1.15M139 764h1.15M139 765h1.15M139 766h1.15M139 767h1.15M139 768h1.15M139 772h1.15M139 777h1.15M139 786h1.15M140 735h1.15M140 736h1.15M140 739h1.15M140 741h1.15M140 742h1.15M140 743h1.15M140 744h1.15M140 745h1.15M140 746h1.15M140 747h1.15M140 748h1.15M140 749h1.15M140 751h1.15M140 752h1.15M140 753h1.15M140 755h1.15M140 756h1.15M140 758h1.15M140 759h1.15M140 760h1.15M140 761h1.15M140 763h1.15M140 764h1.15M140 766h1.15M140 767h1.15M140 768h1.15M140 769h1.15M140 770h1.15M140 771h1.15M140 772h1.15M140 774h1.15M140 775h1.15M140 777h1.15M140 781h1.15M141 736h1.15M141 740h1.15M141 741h1.15M141 742h1.15M141 744h1.15M141 745h1.15M141 746h1.15M141 747h1.15M141 748h1.15M141 750h1.15M141 751h1.15M141 752h1.15M141 753h1.15M141 754h1.15M141 755h1.15M141 757h1.15M141 758h1.15M141 759h1.15M141 761h1.15M141 762h1.15M141 763h1.15M141 764h1.15M141 765h1.15M141 767h1.15M141 768h1.15M141 770h1.15M141 773h1.15M141 774h1.15M141 775h1.15M141 776h1.15M141 778h1.15M141 781h1.15M141 785h1.15M141 786h1.15M142 725h1.15M142 736h1.15M142 738h1.15M142 740h1.15M142 742h1.15M142 743h1.15M142 744h1.15M142 746h1.15M142 747h1.15M142 749h1.15M142 750h1.15M142 751h1.15M142 753h1.15M142 754h1.15M142 755h1.15M142 757h1.15M142 758h1.15M142 760h1.15M142 761h1.15M142 762h1.15M142 764h1.15M142 765h1.15M142 767h1.15M142 768h1.15M142 770h1.15M142 772h1.15M142 773h1.15M142 775h1.15M142 785h1.15M143 734h1.15M143 738h1.15M143 740h1.15M143 743h1.15M143 744h1.15M143 745h1.15M143 746h1.15M143 747h1.15M143 748h1.15M143 749h1.15M143 752h1.15M143 753h1.15M143 754h1.15M143 755h1.15M143 757h1.15M143 758h1.15M143 760h1.15M143 761h1.15M143 762h1.15M143 763h1.15M143 764h1.15M143 765h1.15M143 766h1.15M143 768h1.15M143 769h1.15M143 772h1.15M143 773h1.15M143 776h1.15M143 783h1.15M143 788h1.15M144 722h1.15M144 729h1.15M144 734h1.15M144 737h1.15M144 740h1.15M144 742h1.15M144 744h1.15M144 745h1.15M144 747h1.15M144 748h1.15M144 749h1.15M144 750h1.15M144 751h1.15M144 753h1.15M144 754h1.15M144 756h1.15M144 757h1.15M144 758h1.15M144 759h1.15M144 760h1.15M144 761h1.15M144 762h1.15M144 764h1.15M144 765h1.15M144 768h1.15M144 775h1.15M144 779h1.15M144 781h1.15M144 786h1.15M145 731h1.15M145 733h1.15M145 734h1.15M145 738h1.15M145 739h1.15M145 741h1.15M145 742h1.15M145 748h1.15M145 749h1.15M145 750h1.15M145 751h1.15M145 752h1.15M145 753h1.15M145 754h1.15M145 756h1.15M145 760h1.15M145 762h1.15M145 763h1.15M145 764h1.15M145 766h1.15M145 768h1.15M145 770h1.15M145 771h1.15M145 773h1.15M145 779h1.15M145 780h1.15M145 781h1.15M145 786h1.15M146 719h1.15M146 727h1.15M146 730h1.15M146 736h1.15M146 737h1.15M146 740h1.15M146 741h1.15M146 742h1.15M146 744h1.15M146 745h1.15M146 747h1.15M146 748h1.15M146 750h1.15M146 751h1.15M146 752h1.15M146 753h1.15M146 756h1.15M146 759h1.15M146 761h1.15M146 766h1.15M146 767h1.15M146 768h1.15M146 769h1.15M146 771h1.15M146 777h1.15M146 779h1.15M146 780h1.15M146 782h1.15M147 722h1.15M147 728h1.15M147 735h1.15M147 737h1.15M147 739h1.15M147 742h1.15M147 743h1.15M147 746h1.15M147 747h1.15M147 748h1.15M147 753h1.15M147 755h1.15M147 756h1.15M147 757h1.15M147 759h1.15M147 760h1.15M147 767h1.15M147 768h1.15M147 771h1.15M147 772h1.15M147 773h1.15M147 775h1.15M147 781h1.15M147 783h1.15M147 786h1.15M148 715h1.15M148 719h1.15M148 724h1.15M148 736h1.15M148 739h1.15M148 743h1.15M148 744h1.15M148 751h1.15M148 754h1.15M148 755h1.15M148 757h1.15M148 758h1.15M148 759h1.15M148 760h1.15M148 761h1.15M148 762h1.15M148 766h1.15M148 768h1.15M148 772h1.15M148 773h1.15M148 774h1.15M148 776h1.15M148 777h1.15M149 728h1.15M149 734h1.15M149 738h1.15M149 739h1.15M149 746h1.15M149 747h1.15M149 748h1.15M149 752h1.15M149 755h1.15M149 756h1.15M149 757h1.15M149 760h1.15M149 762h1.15M149 765h1.15M149 766h1.15M149 769h1.15M149 774h1.15M149 781h1.15M149 789h1.15M150 714h1.15M150 729h1.15M150 740h1.15M150 747h1.15M150 748h1.15M150 753h1.15M150 758h1.15M150 760h1.15M150 762h1.15M150 767h1.15M150 775h1.15M150 776h1.15M150 777h1.15M150 779h1.15M150 783h1.15M151 726h1.15M151 731h1.15M151 739h1.15M151 749h1.15M151 750h1.15M151 755h1.15M151 757h1.15M151 759h1.15M151 761h1.15M151 762h1.15M151 766h1.15M151 767h1.15M151 769h1.15M151 774h1.15M151 778h1.15M152 727h1.15M152 741h1.15M152 751h1.15M152 752h1.15M152 754h1.15M152 761h1.15M152 775h1.15M152 776h1.15M152 780h1.15M152 790h1.15M153 730h1.15M153 733h1.15M153 744h1.15M153 753h1.15M153 755h1.15M153 770h1.15M154 741h1.15M154 742h1.15M154 745h1.15M154 748h1.15M154 749h1.15M154 750h1.15M154 757h1.15M154 766h1.15M154 769h1.15M154 770h1.15M154 774h1.15M154 784h1.15M155 735h1.15M155 758h1.15M155 770h1.15M155 778h1.15M156 735h1.15M156 739h1.15M156 740h1.15M156 749h1.15M156 750h1.15M156 752h1.15M156 753h1.15M156 755h1.15M156 762h1.15M156 768h1.15M156 770h1.15M156 776h1.15M156 783h1.15M157 735h1.15M157 744h1.15M157 751h1.15M157 761h1.15M157 764h1.15M157 772h1.15M157 780h1.15M157 784h1.15M158 733h1.15M158 783h1.15M158 787h1.15M159 725h1.15M159 745h1.15M159 750h1.15M159 763h1.15M159 766h1.15M160 721h1.15M160 741h1.15M160 747h1.15M160 748h1.15M160 752h1.15M160 757h1.15M160 758h1.15M160 760h1.15M160 769h1.15M160 770h1.15M160 772h1.15M161 757h1.15M161 780h1.15M161 787h1.15M162 744h1.15M162 750h1.15M162 751h1.15M162 768h1.15M162 775h1.15M162 778h1.15M163 726h1.15M163 734h1.15M163 752h1.15M163 757h1.15M163 763h1.15M164 743h1.15M164 746h1.15M164 750h1.15M164 781h1.15M165 727h1.15M165 736h1.15M165 745h1.15M165 747h1.15M166 738h1.15M166 761h1.15M166 767h1.15M166 779h1.15M167 747h1.15M167 769h1.15M168 732h1.15M168 770h1.15M169 763h1.15M170 761h1.15M171 717h1.15M171 719h1.15M171 790h1.15M172 745h1.15M173 738h1.15M173 769h1.15M174 773h1.15M175 783h1.15M176 640h1.15M176 645h1.15M177 696h1.15M177 760h1.15M177 765h1.15M178 753h1.15M178 765h1.15M179 644h1.15M179 717h1.15M179 735h1.15M180 735h1.15M180 778h1.15M180 788h1.15M181 737h1.15M181 761h1.15M181 781h1.15M182 658h1.15M182 712h1.15M182 754h1.15M183 693h1.15M183 760h1.15M184 784h1.15M184 786h1.15M185 690h1.15M185 729h1.15M186 688h1.15M186 740h1.15M186 759h1.15M186 782h1.15M187 647h1.15M187 764h1.15M187 769h1.15M187 782h1.15M188 740h1.15M189 711h1.15M190 654h1.15M190 752h1.15M190 767h1.15M190 776h1.15M191 666h1.15M191 696h1.15M191 719h1.15M191 724h1.15M191 732h1.15M191 747h1.15M191 782h1.15M192 667h1.15M192 682h1.15M192 694h1.15M192 762h1.15M194 681h1.15M194 724h1.15M195 766h1.15M197 659h1.15M197 678h1.15M197 730h1.15M197 768h1.15M198 654h1.15M198 664h1.15M198 667h1.15M198 678h1.15M198 760h1.15M199 662h1.15M199 676h1.15M199 788h1.15M200 647h1.15M200 659h1.15M200 665h1.15M200 680h1.15M201 650h1.15M201 679h1.15M201 692h1.15M201 747h1.15M201 754h1.15M201 755h1.15M201 790h1.15M202 683h1.15M202 731h1.15M203 655h1.15M203 656h1.15M203 667h1.15M203 676h1.15M203 680h1.15M203 770h1.15M204 678h1.15M204 700h1.15M204 722h1.15M205 657h1.15M205 666h1.15M205 680h1.15M205 685h1.15M206 658h1.15M206 665h1.15M206 674h1.15M206 675h1.15M206 684h1.15M206 688h1.15M207 665h1.15M207 666h1.15M207 670h1.15M207 671h1.15M207 683h1.15M208 646h1.15M208 656h1.15M208 657h1.15M208 661h1.15M208 663h1.15M208 670h1.15M209 662h1.15M209 671h1.15M209 679h1.15M210 644h1.15M210 651h1.15M210 661h1.15M210 662h1.15M210 665h1.15M210 668h1.15M210 669h1.15M210 672h1.15M210 673h1.15M210 684h1.15M210 741h1.15M210 775h1.15M210 781h1.15M211 657h1.15M211 661h1.15M211 662h1.15M211 666h1.15M211 667h1.15M211 671h1.15M211 674h1.15M211 677h1.15M211 691h1.15M211 725h1.15M212 652h1.15M212 658h1.15M212 662h1.15M212 665h1.15M212 674h1.15M212 688h1.15M212 786h1.15M213 657h1.15M213 658h1.15M213 659h1.15M213 664h1.15M213 665h1.15M213 669h1.15M213 670h1.15M213 674h1.15M213 680h1.15M213 712h1.15M214 654h1.15M214 666h1.15M214 668h1.15M214 670h1.15M214 671h1.15M214 673h1.15M214 677h1.15M214 680h1.15M214 683h1.15M214 685h1.15M214 705h1.15M215 652h1.15M215 654h1.15M215 663h1.15M215 664h1.15M215 666h1.15M215 669h1.15M215 670h1.15M215 674h1.15M215 677h1.15M215 680h1.15M215 687h1.15M215 779h1.15M216 661h1.15M216 668h1.15M216 669h1.15M216 670h1.15M216 681h1.15M216 753h1.15M216 762h1.15M217 649h1.15M217 654h1.15M217 662h1.15M217 668h1.15M217 681h1.15M217 688h1.15M217 692h1.15M217 783h1.15M218 658h1.15M218 660h1.15M218 668h1.15M218 669h1.15M218 671h1.15M218 678h1.15M218 685h1.15M218 687h1.15M218 690h1.15M218 786h1.15M219 657h1.15M219 674h1.15M219 686h1.15M219 689h1.15M219 700h1.15M219 781h1.15M220 664h1.15M220 672h1.15M220 674h1.15M220 676h1.15M220 677h1.15M220 705h1.15M220 749h1.15M220 763h1.15M221 662h1.15M221 671h1.15M221 673h1.15M221 674h1.15M221 676h1.15M221 678h1.15M221 684h1.15M221 685h1.15M221 690h1.15M222 644h1.15M222 650h1.15M222 651h1.15M222 652h1.15M222 656h1.15M222 660h1.15M222 666h1.15M222 674h1.15M222 678h1.15M222 682h1.15M222 731h1.15M223 648h1.15M223 650h1.15M223 664h1.15M223 665h1.15M223 694h1.15M223 784h1.15M224 651h1.15M224 653h1.15M224 658h1.15M224 659h1.15M224 660h1.15M224 666h1.15M224 667h1.15M224 673h1.15M224 679h1.15M224 680h1.15M224 682h1.15M224 727h1.15M224 782h1.15M225 658h1.15M225 663h1.15M225 667h1.15M225 676h1.15M225 687h1.15M225 727h1.15M225 762h1.15M226 656h1.15M226 667h1.15M226 668h1.15M226 672h1.15M226 676h1.15M226 677h1.15M226 727h1.15M226 764h1.15M226 789h1.15M227 651h1.15M227 659h1.15M227 669h1.15M227 674h1.15M227 676h1.15M227 683h1.15M227 759h1.15M228 645h1.15M228 649h1.15M228 657h1.15M228 662h1.15M228 665h1.15M228 671h1.15M228 675h1.15M228 682h1.15M228 700h1.15M229 650h1.15M229 658h1.15M229 659h1.15M229 660h1.15M229 662h1.15M229 664h1.15M229 665h1.15M229 666h1.15M229 667h1.15M229 669h1.15M229 670h1.15M229 675h1.15M229 680h1.15M229 682h1.15M229 699h1.15M230 669h1.15M230 670h1.15M230 680h1.15M230 754h1.15M231 667h1.15M231 669h1.15M231 673h1.15M231 677h1.15M231 680h1.15M231 684h1.15M231 685h1.15M231 754h1.15M232 666h1.15M232 668h1.15M232 758h1.15M232 770h1.15" stroke="#dd0808" stroke-width="1.15" fill="none" transform="translate(-0.1,0.5)"/>
<path d="M51 789h1.4M52 790h1.4M54 789h1.4M55 789h1.4M59 789h1.4M61 789h1.4M64 788h1.4M68 789h1.4M69 789h1.4M70 789h1.4M70 790h1.4M75 790h1.4M80 790h1.4M84 789h1.4M86 790h1.4M90 789h1.4M91 789h1.4M91 790h1.4M100 790h1.4M105 789h1.4M115 788h1.4M115 789h1.4M116 789h1.4M117 788h1.4M118 789h1.4M123 789h1.4M126 789h1.4M126 790h1.4M128 789h1.4M130 790h1.4M135 790h1.4M136 789h1.4M139 790h1.4M140 789h1.4M140 790h1.4M141 789h1.4M145 789h1.4M146 788h1.4M148 789h1.4M150 789h1.4M151 789h1.4M152 789h1.4M157 789h1.4M158 788h1.4M164 789h1.4M165 790h1.4M166 789h1.4M168 789h1.4M170 789h1.4M170 790h1.4M171 789h1.4M172 789h1.4M173 789h1.4M179 789h1.4M180 788h1.4M181 789h1.4M182 789h1.4M184 789h1.4M184 790h1.4M185 789h1.4M186 789h1.4M188 790h1.4M194 789h1.4M195 789h1.4M205 789h1.4M206 788h1.4M206 789h1.4M207 788h1.4M208 789h1.4M211 789h1.4M212 789h1.4M214 789h1.4M215 789h1.4M215 790h1.4M220 788h1.4M220 789h1.4M229 789h1.4" stroke="#a80000" stroke-width="1.6" fill="none" transform="translate(-0.2,0.5)"/>
</g>
<line x1="232.2" y1="630.0" x2="232.2" y2="689.0" stroke="#b00000" stroke-width="1.5"/>
<rect x="48.5" y="602.8" width="184.9" height="188.5" fill="none" stroke="#1e1e1e" stroke-width="1.3"/>
<line x1="142.1" y1="602.8" x2="142.1" y2="791.3" stroke="#111" stroke-width="1.3"/>
<line x1="48.5" y1="713.3" x2="233.4" y2="713.3" stroke="#111" stroke-width="1.3"/>
<path d="M48.5 791.3h-4M48.5 791.3v4M48.5 777.1h-2.4M62.4 791.3v2.4M48.5 768.8h-2.4M70.6 791.3v2.4M48.5 762.9h-2.4M76.3 791.3v2.4M48.5 758.4h-2.4M80.8 791.3v2.4M48.5 754.6h-2.4M84.5 791.3v2.4M48.5 751.5h-2.4M87.6 791.3v2.4M48.5 748.7h-2.4M90.2 791.3v2.4M48.5 746.3h-2.4M92.6 791.3v2.4M48.5 744.2h-4M94.7 791.3v4M48.5 730.0h-2.4M108.6 791.3v2.4M48.5 721.7h-2.4M116.8 791.3v2.4M48.5 715.8h-2.4M122.6 791.3v2.4M48.5 711.2h-2.4M127.0 791.3v2.4M48.5 707.5h-2.4M130.7 791.3v2.4M48.5 704.3h-2.4M133.8 791.3v2.4M48.5 701.6h-2.4M136.5 791.3v2.4M48.5 699.2h-2.4M138.8 791.3v2.4M48.5 697.0h-4M140.9 791.3v4M48.5 682.9h-2.4M154.9 791.3v2.4M48.5 674.6h-2.4M163.0 791.3v2.4M48.5 668.7h-2.4M168.8 791.3v2.4M48.5 664.1h-2.4M173.3 791.3v2.4M48.5 660.4h-2.4M176.9 791.3v2.4M48.5 657.2h-2.4M180.0 791.3v2.4M48.5 654.5h-2.4M182.7 791.3v2.4M48.5 652.1h-2.4M185.1 791.3v2.4M48.5 649.9h-4M187.2 791.3v4M48.5 635.7h-2.4M201.1 791.3v2.4M48.5 627.4h-2.4M209.2 791.3v2.4M48.5 621.6h-2.4M215.0 791.3v2.4M48.5 617.0h-2.4M219.5 791.3v2.4M48.5 613.3h-2.4M223.1 791.3v2.4M48.5 610.1h-2.4M226.2 791.3v2.4M48.5 607.4h-2.4M228.9 791.3v2.4M48.5 605.0h-2.4M231.3 791.3v2.4M48.5 602.8h-4M233.4 791.3v4" stroke="#222" stroke-width="1" fill="none"/>
<text transform="translate(42.5,798.2) rotate(-90)" font-size="8.6" textLength="7.6" lengthAdjust="spacingAndGlyphs" fill="#222">10</text>
<text transform="translate(38.9,789.4) rotate(-90)" font-size="7.6" fill="#222">0</text>
<text x="40.9" y="806.7" font-size="9.2" textLength="8.8" lengthAdjust="spacingAndGlyphs" fill="#222">10</text>
<text x="50.5" y="802.2" font-size="7.6" fill="#222">0</text>
<text transform="translate(42.5,751.1) rotate(-90)" font-size="8.6" textLength="7.6" lengthAdjust="spacingAndGlyphs" fill="#222">10</text>
<text transform="translate(38.9,742.3) rotate(-90)" font-size="7.6" fill="#222">1</text>
<text x="87.1" y="806.7" font-size="9.2" textLength="8.8" lengthAdjust="spacingAndGlyphs" fill="#222">10</text>
<text x="96.7" y="802.2" font-size="7.6" fill="#222">1</text>
<text transform="translate(42.5,703.9) rotate(-90)" font-size="8.6" textLength="7.6" lengthAdjust="spacingAndGlyphs" fill="#222">10</text>
<text transform="translate(38.9,695.1) rotate(-90)" font-size="7.6" fill="#222">2</text>
<text x="133.3" y="806.7" font-size="9.2" textLength="8.8" lengthAdjust="spacingAndGlyphs" fill="#222">10</text>
<text x="142.9" y="802.2" font-size="7.6" fill="#222">2</text>
<text transform="translate(42.5,656.8) rotate(-90)" font-size="8.6" textLength="7.6" lengthAdjust="spacingAndGlyphs" fill="#222">10</text>
<text transform="translate(38.9,648.0) rotate(-90)" font-size="7.6" fill="#222">3</text>
<text x="179.6" y="806.7" font-size="9.2" textLength="8.8" lengthAdjust="spacingAndGlyphs" fill="#222">10</text>
<text x="189.2" y="802.2" font-size="7.6" fill="#222">3</text>
<text transform="translate(42.5,609.7) rotate(-90)" font-size="8.6" textLength="7.6" lengthAdjust="spacingAndGlyphs" fill="#222">10</text>
<text transform="translate(38.9,600.9) rotate(-90)" font-size="7.6" fill="#222">4</text>
<text x="225.8" y="806.7" font-size="9.2" textLength="8.8" lengthAdjust="spacingAndGlyphs" fill="#222">10</text>
<text x="235.4" y="802.2" font-size="7.6" fill="#222">4</text>
<text x="109.6" y="814.6" textLength="60.1" lengthAdjust="spacingAndGlyphs" font-size="8.6" fill="#222">Annexin V FITC</text>
<text transform="translate(31.3,728.8) rotate(-90)" x="0" y="0" textLength="61.5" lengthAdjust="spacingAndGlyphs" font-size="8.2" fill="#222">Propidium Iodide</text>
<line x1="59.0" y1="627.1" x2="115.9" y2="627.1" stroke="#222" stroke-width="1.0"/>
<line x1="88.0" y1="614.8" x2="88.0" y2="639.6" stroke="#222" stroke-width="1.0"/>
<text x="64.3" y="624.5" textLength="20.2" lengthAdjust="spacingAndGlyphs" font-size="10" fill="#222">0.00</text>
<text x="91.0" y="624.5" textLength="20.3" lengthAdjust="spacingAndGlyphs" font-size="10" fill="#222">5.25</text>
<text x="59.0" y="637.9" textLength="26.2" lengthAdjust="spacingAndGlyphs" font-size="10" fill="#222">85.27</text>
<text x="91.0" y="637.9" textLength="20.3" lengthAdjust="spacingAndGlyphs" font-size="10" fill="#222">9.48</text>
<clipPath id="c4"><rect x="268.9" y="603.4" width="183.7" height="188.3"/></clipPath>
<g clip-path="url(#c4)">
<path d="M299 761h1.15M303 763h1.15M304 776h1.15M305 770h1.15M306 757h1.15M307 754h1.15M307 766h1.15M307 771h1.15M308 764h1.15M310 736h1.15M311 735h1.15M311 767h1.15M313 745h1.15M313 750h1.15M313 754h1.15M313 763h1.15M313 774h1.15M314 749h1.15M314 763h1.15M315 766h1.15M315 769h1.15M316 774h1.15M317 761h1.15M317 767h1.15M318 745h1.15M318 752h1.15M318 753h1.15M318 758h1.15M318 761h1.15M318 770h1.15M319 748h1.15M319 749h1.15M319 750h1.15M319 768h1.15M319 773h1.15M319 785h1.15M320 733h1.15M320 740h1.15M320 742h1.15M320 743h1.15M320 751h1.15M320 755h1.15M320 757h1.15M320 758h1.15M320 787h1.15M321 733h1.15M321 744h1.15M321 747h1.15M321 751h1.15M321 753h1.15M321 757h1.15M321 758h1.15M321 760h1.15M321 761h1.15M321 768h1.15M321 776h1.15M321 781h1.15M321 784h1.15M322 736h1.15M322 748h1.15M322 749h1.15M322 754h1.15M322 755h1.15M322 758h1.15M322 768h1.15M322 769h1.15M322 772h1.15M322 779h1.15M322 787h1.15M323 722h1.15M323 739h1.15M323 747h1.15M323 752h1.15M323 753h1.15M323 755h1.15M323 758h1.15M323 760h1.15M323 761h1.15M323 765h1.15M323 766h1.15M323 776h1.15M324 722h1.15M324 738h1.15M324 742h1.15M324 743h1.15M324 747h1.15M324 748h1.15M324 750h1.15M324 753h1.15M324 754h1.15M324 756h1.15M324 757h1.15M324 758h1.15M324 761h1.15M324 762h1.15M324 770h1.15M324 772h1.15M324 781h1.15M324 784h1.15M325 727h1.15M325 744h1.15M325 747h1.15M325 750h1.15M325 751h1.15M325 752h1.15M325 753h1.15M325 758h1.15M325 759h1.15M325 761h1.15M325 763h1.15M325 765h1.15M325 766h1.15M325 774h1.15M326 730h1.15M326 732h1.15M326 742h1.15M326 745h1.15M326 746h1.15M326 747h1.15M326 749h1.15M326 751h1.15M326 752h1.15M326 754h1.15M326 755h1.15M326 756h1.15M326 757h1.15M326 758h1.15M326 763h1.15M326 764h1.15M326 765h1.15M326 769h1.15M326 770h1.15M326 771h1.15M326 772h1.15M326 774h1.15M326 790h1.15M327 730h1.15M327 734h1.15M327 738h1.15M327 740h1.15M327 741h1.15M327 743h1.15M327 745h1.15M327 749h1.15M327 750h1.15M327 752h1.15M327 753h1.15M327 754h1.15M327 757h1.15M327 758h1.15M327 760h1.15M327 762h1.15M327 768h1.15M327 769h1.15M327 770h1.15M327 773h1.15M327 775h1.15M327 778h1.15M328 726h1.15M328 727h1.15M328 728h1.15M328 732h1.15M328 738h1.15M328 741h1.15M328 742h1.15M328 743h1.15M328 744h1.15M328 745h1.15M328 746h1.15M328 747h1.15M328 749h1.15M328 750h1.15M328 751h1.15M328 752h1.15M328 753h1.15M328 754h1.15M328 755h1.15M328 756h1.15M328 757h1.15M328 758h1.15M328 759h1.15M328 760h1.15M328 761h1.15M328 762h1.15M328 763h1.15M328 766h1.15M328 767h1.15M328 768h1.15M328 769h1.15M328 771h1.15M328 773h1.15M328 776h1.15M328 778h1.15M328 780h1.15M328 783h1.15M328 785h1.15M328 786h1.15M329 719h1.15M329 722h1.15M329 733h1.15M329 734h1.15M329 735h1.15M329 736h1.15M329 737h1.15M329 739h1.15M329 740h1.15M329 743h1.15M329 744h1.15M329 745h1.15M329 746h1.15M329 747h1.15M329 749h1.15M329 750h1.15M329 751h1.15M329 752h1.15M329 753h1.15M329 754h1.15M329 755h1.15M329 756h1.15M329 757h1.15M329 759h1.15M329 760h1.15M329 761h1.15M329 762h1.15M329 763h1.15M329 764h1.15M329 767h1.15M329 768h1.15M329 773h1.15M329 779h1.15M329 787h1.15M330 718h1.15M330 719h1.15M330 723h1.15M330 726h1.15M330 731h1.15M330 736h1.15M330 739h1.15M330 741h1.15M330 742h1.15M330 743h1.15M330 744h1.15M330 745h1.15M330 746h1.15M330 747h1.15M330 748h1.15M330 750h1.15M330 752h1.15M330 753h1.15M330 754h1.15M330 755h1.15M330 756h1.15M330 757h1.15M330 758h1.15M330 759h1.15M330 760h1.15M330 761h1.15M330 762h1.15M330 763h1.15M330 766h1.15M330 767h1.15M330 768h1.15M330 770h1.15M330 771h1.15M330 773h1.15M330 777h1.15M330 783h1.15M330 787h1.15M331 726h1.15M331 729h1.15M331 733h1.15M331 734h1.15M331 735h1.15M331 736h1.15M331 737h1.15M331 738h1.15M331 739h1.15M331 740h1.15M331 741h1.15M331 742h1.15M331 743h1.15M331 744h1.15M331 745h1.15M331 746h1.15M331 747h1.15M331 748h1.15M331 749h1.15M331 750h1.15M331 751h1.15M331 752h1.15M331 753h1.15M331 754h1.15M331 755h1.15M331 756h1.15M331 757h1.15M331 758h1.15M331 759h1.15M331 760h1.15M331 761h1.15M331 762h1.15M331 763h1.15M331 764h1.15M331 765h1.15M331 766h1.15M331 767h1.15M331 769h1.15M331 771h1.15M331 779h1.15M331 780h1.15M331 782h1.15M331 783h1.15M332 724h1.15M332 730h1.15M332 731h1.15M332 733h1.15M332 734h1.15M332 736h1.15M332 738h1.15M332 739h1.15M332 740h1.15M332 741h1.15M332 742h1.15M332 743h1.15M332 744h1.15M332 745h1.15M332 747h1.15M332 748h1.15M332 749h1.15M332 750h1.15M332 751h1.15M332 752h1.15M332 753h1.15M332 754h1.15M332 755h1.15M332 756h1.15M332 757h1.15M332 758h1.15M332 760h1.15M332 761h1.15M332 762h1.15M332 763h1.15M332 764h1.15M332 765h1.15M332 766h1.15M332 768h1.15M332 769h1.15M332 770h1.15M332 771h1.15M332 774h1.15M332 775h1.15M332 776h1.15M332 778h1.15M332 779h1.15M332 787h1.15M332 788h1.15M333 728h1.15M333 730h1.15M333 732h1.15M333 733h1.15M333 735h1.15M333 736h1.15M333 737h1.15M333 738h1.15M333 739h1.15M333 740h1.15M333 741h1.15M333 742h1.15M333 743h1.15M333 744h1.15M333 745h1.15M333 746h1.15M333 747h1.15M333 748h1.15M333 749h1.15M333 751h1.15M333 752h1.15M333 753h1.15M333 754h1.15M333 755h1.15M333 756h1.15M333 757h1.15M333 758h1.15M333 759h1.15M333 760h1.15M333 761h1.15M333 762h1.15M333 763h1.15M333 764h1.15M333 765h1.15M333 766h1.15M333 768h1.15M333 770h1.15M333 772h1.15M333 773h1.15M333 774h1.15M333 780h1.15M334 723h1.15M334 724h1.15M334 726h1.15M334 727h1.15M334 729h1.15M334 730h1.15M334 734h1.15M334 735h1.15M334 737h1.15M334 738h1.15M334 739h1.15M334 740h1.15M334 742h1.15M334 743h1.15M334 744h1.15M334 745h1.15M334 746h1.15M334 747h1.15M334 748h1.15M334 749h1.15M334 750h1.15M334 751h1.15M334 752h1.15M334 753h1.15M334 754h1.15M334 755h1.15M334 756h1.15M334 757h1.15M334 758h1.15M334 759h1.15M334 760h1.15M334 761h1.15M334 762h1.15M334 763h1.15M334 764h1.15M334 765h1.15M334 766h1.15M334 767h1.15M334 768h1.15M334 769h1.15M334 770h1.15M334 775h1.15M334 776h1.15M334 777h1.15M334 779h1.15M334 780h1.15M334 781h1.15M334 782h1.15M334 784h1.15M335 726h1.15M335 729h1.15M335 730h1.15M335 731h1.15M335 732h1.15M335 733h1.15M335 734h1.15M335 735h1.15M335 736h1.15M335 737h1.15M335 738h1.15M335 739h1.15M335 740h1.15M335 741h1.15M335 742h1.15M335 743h1.15M335 744h1.15M335 745h1.15M335 746h1.15M335 747h1.15M335 748h1.15M335 749h1.15M335 750h1.15M335 751h1.15M335 752h1.15M335 753h1.15M335 754h1.15M335 755h1.15M335 756h1.15M335 757h1.15M335 758h1.15M335 759h1.15M335 760h1.15M335 761h1.15M335 762h1.15M335 763h1.15M335 764h1.15M335 766h1.15M335 767h1.15M335 768h1.15M335 769h1.15M335 770h1.15M335 772h1.15M335 773h1.15M335 775h1.15M335 777h1.15M335 778h1.15M335 781h1.15M335 782h1.15M335 789h1.15M336 715h1.15M336 719h1.15M336 721h1.15M336 725h1.15M336 726h1.15M336 730h1.15M336 732h1.15M336 734h1.15M336 735h1.15M336 736h1.15M336 737h1.15M336 738h1.15M336 739h1.15M336 740h1.15M336 741h1.15M336 742h1.15M336 743h1.15M336 744h1.15M336 745h1.15M336 746h1.15M336 747h1.15M336 748h1.15M336 749h1.15M336 750h1.15M336 751h1.15M336 752h1.15M336 753h1.15M336 754h1.15M336 755h1.15M336 756h1.15M336 757h1.15M336 758h1.15M336 759h1.15M336 760h1.15M336 761h1.15M336 762h1.15M336 763h1.15M336 764h1.15M336 765h1.15M336 766h1.15M336 767h1.15M336 769h1.15M336 770h1.15M336 772h1.15M336 773h1.15M336 774h1.15M336 775h1.15M336 776h1.15M336 777h1.15M336 781h1.15M336 784h1.15M336 787h1.15M336 788h1.15M337 720h1.15M337 721h1.15M337 726h1.15M337 727h1.15M337 728h1.15M337 729h1.15M337 730h1.15M337 731h1.15M337 732h1.15M337 733h1.15M337 734h1.15M337 735h1.15M337 736h1.15M337 737h1.15M337 738h1.15M337 739h1.15M337 740h1.15M337 741h1.15M337 742h1.15M337 743h1.15M337 744h1.15M337 745h1.15M337 746h1.15M337 747h1.15M337 748h1.15M337 749h1.15M337 750h1.15M337 751h1.15M337 752h1.15M337 753h1.15M337 754h1.15M337 755h1.15M337 756h1.15M337 757h1.15M337 758h1.15M337 759h1.15M337 760h1.15M337 761h1.15M337 762h1.15M337 763h1.15M337 764h1.15M337 765h1.15M337 766h1.15M337 767h1.15M337 768h1.15M337 769h1.15M337 770h1.15M337 772h1.15M337 773h1.15M337 774h1.15M337 775h1.15M337 777h1.15M337 778h1.15M337 779h1.15M338 712h1.15M338 724h1.15M338 726h1.15M338 728h1.15M338 730h1.15M338 731h1.15M338 732h1.15M338 733h1.15M338 734h1.15M338 736h1.15M338 737h1.15M338 738h1.15M338 739h1.15M338 740h1.15M338 741h1.15M338 742h1.15M338 743h1.15M338 744h1.15M338 745h1.15M338 746h1.15M338 747h1.15M338 748h1.15M338 749h1.15M338 750h1.15M338 751h1.15M338 752h1.15M338 753h1.15M338 754h1.15M338 755h1.15M338 756h1.15M338 757h1.15M338 758h1.15M338 759h1.15M338 760h1.15M338 761h1.15M338 762h1.15M338 763h1.15M338 764h1.15M338 766h1.15M338 767h1.15M338 769h1.15M338 771h1.15M338 773h1.15M338 774h1.15M338 776h1.15M338 778h1.15M338 781h1.15M339 718h1.15M339 723h1.15M339 724h1.15M339 727h1.15M339 728h1.15M339 729h1.15M339 730h1.15M339 732h1.15M339 733h1.15M339 734h1.15M339 735h1.15M339 736h1.15M339 738h1.15M339 739h1.15M339 740h1.15M339 741h1.15M339 742h1.15M339 743h1.15M339 744h1.15M339 745h1.15M339 746h1.15M339 747h1.15M339 748h1.15M339 749h1.15M339 750h1.15M339 751h1.15M339 752h1.15M339 753h1.15M339 754h1.15M339 755h1.15M339 756h1.15M339 757h1.15M339 758h1.15M339 759h1.15M339 760h1.15M339 761h1.15M339 762h1.15M339 763h1.15M339 764h1.15M339 765h1.15M339 766h1.15M339 767h1.15M339 768h1.15M339 769h1.15M339 770h1.15M339 771h1.15M339 772h1.15M339 773h1.15M339 774h1.15M339 775h1.15M339 776h1.15M339 777h1.15M339 779h1.15M339 782h1.15M339 783h1.15M339 787h1.15M340 729h1.15M340 731h1.15M340 732h1.15M340 733h1.15M340 734h1.15M340 735h1.15M340 736h1.15M340 737h1.15M340 738h1.15M340 739h1.15M340 740h1.15M340 741h1.15M340 742h1.15M340 743h1.15M340 744h1.15M340 745h1.15M340 746h1.15M340 747h1.15M340 748h1.15M340 749h1.15M340 750h1.15M340 751h1.15M340 752h1.15M340 753h1.15M340 754h1.15M340 755h1.15M340 756h1.15M340 757h1.15M340 758h1.15M340 759h1.15M340 760h1.15M340 761h1.15M340 762h1.15M340 763h1.15M340 764h1.15M340 765h1.15M340 766h1.15M340 767h1.15M340 768h1.15M340 769h1.15M340 770h1.15M340 772h1.15M340 773h1.15M340 774h1.15M340 775h1.15M340 776h1.15M340 777h1.15M340 781h1.15M340 783h1.15M341 719h1.15M341 720h1.15M341 722h1.15M341 723h1.15M341 726h1.15M341 728h1.15M341 729h1.15M341 730h1.15M341 731h1.15M341 732h1.15M341 733h1.15M341 734h1.15M341 735h1.15M341 736h1.15M341 737h1.15M341 738h1.15M341 739h1.15M341 740h1.15M341 741h1.15M341 742h1.15M341 743h1.15M341 744h1.15M341 745h1.15M341 746h1.15M341 747h1.15M341 748h1.15M341 749h1.15M341 750h1.15M341 751h1.15M341 752h1.15M341 753h1.15M341 754h1.15M341 755h1.15M341 756h1.15M341 757h1.15M341 758h1.15M341 759h1.15M341 760h1.15M341 761h1.15M341 762h1.15M341 763h1.15M341 764h1.15M341 765h1.15M341 766h1.15M341 767h1.15M341 768h1.15M341 769h1.15M341 770h1.15M341 771h1.15M341 772h1.15M341 773h1.15M341 774h1.15M341 775h1.15M341 776h1.15M341 778h1.15M341 779h1.15M341 780h1.15M341 781h1.15M341 786h1.15M341 790h1.15M342 708h1.15M342 721h1.15M342 723h1.15M342 726h1.15M342 728h1.15M342 729h1.15M342 730h1.15M342 731h1.15M342 732h1.15M342 733h1.15M342 734h1.15M342 735h1.15M342 736h1.15M342 737h1.15M342 738h1.15M342 739h1.15M342 740h1.15M342 741h1.15M342 742h1.15M342 743h1.15M342 744h1.15M342 745h1.15M342 746h1.15M342 747h1.15M342 748h1.15M342 749h1.15M342 750h1.15M342 751h1.15M342 752h1.15M342 753h1.15M342 754h1.15M342 755h1.15M342 756h1.15M342 757h1.15M342 758h1.15M342 759h1.15M342 760h1.15M342 761h1.15M342 762h1.15M342 763h1.15M342 764h1.15M342 765h1.15M342 766h1.15M342 767h1.15M342 768h1.15M342 769h1.15M342 770h1.15M342 771h1.15M342 772h1.15M342 773h1.15M342 774h1.15M342 775h1.15M342 776h1.15M342 777h1.15M342 780h1.15M342 781h1.15M342 782h1.15M342 783h1.15M342 785h1.15M342 786h1.15M343 720h1.15M343 722h1.15M343 724h1.15M343 726h1.15M343 728h1.15M343 730h1.15M343 731h1.15M343 732h1.15M343 733h1.15M343 734h1.15M343 735h1.15M343 736h1.15M343 737h1.15M343 738h1.15M343 739h1.15M343 740h1.15M343 741h1.15M343 742h1.15M343 743h1.15M343 744h1.15M343 745h1.15M343 746h1.15M343 747h1.15M343 748h1.15M343 749h1.15M343 750h1.15M343 751h1.15M343 752h1.15M343 753h1.15M343 754h1.15M343 755h1.15M343 756h1.15M343 757h1.15M343 758h1.15M343 759h1.15M343 760h1.15M343 761h1.15M343 762h1.15M343 763h1.15M343 764h1.15M343 765h1.15M343 766h1.15M343 767h1.15M343 768h1.15M343 769h1.15M343 770h1.15M343 771h1.15M343 772h1.15M343 774h1.15M343 775h1.15M343 776h1.15M343 777h1.15M343 780h1.15M343 781h1.15M343 784h1.15M343 786h1.15M344 716h1.15M344 721h1.15M344 722h1.15M344 723h1.15M344 725h1.15M344 727h1.15M344 728h1.15M344 730h1.15M344 731h1.15M344 732h1.15M344 733h1.15M344 735h1.15M344 736h1.15M344 737h1.15M344 738h1.15M344 739h1.15M344 740h1.15M344 741h1.15M344 742h1.15M344 743h1.15M344 744h1.15M344 745h1.15M344 746h1.15M344 747h1.15M344 748h1.15M344 749h1.15M344 750h1.15M344 751h1.15M344 752h1.15M344 753h1.15M344 754h1.15M344 755h1.15M344 756h1.15M344 757h1.15M344 758h1.15M344 759h1.15M344 760h1.15M344 761h1.15M344 762h1.15M344 763h1.15M344 764h1.15M344 765h1.15M344 766h1.15M344 767h1.15M344 768h1.15M344 769h1.15M344 770h1.15M344 771h1.15M344 772h1.15M344 773h1.15M344 774h1.15M344 775h1.15M344 776h1.15M344 779h1.15M344 781h1.15M344 782h1.15M344 787h1.15M344 788h1.15M345 720h1.15M345 721h1.15M345 722h1.15M345 723h1.15M345 726h1.15M345 727h1.15M345 728h1.15M345 730h1.15M345 731h1.15M345 732h1.15M345 733h1.15M345 734h1.15M345 735h1.15M345 736h1.15M345 737h1.15M345 738h1.15M345 739h1.15M345 740h1.15M345 741h1.15M345 742h1.15M345 743h1.15M345 744h1.15M345 745h1.15M345 746h1.15M345 747h1.15M345 748h1.15M345 749h1.15M345 750h1.15M345 751h1.15M345 752h1.15M345 753h1.15M345 754h1.15M345 755h1.15M345 756h1.15M345 757h1.15M345 758h1.15M345 759h1.15M345 760h1.15M345 761h1.15M345 762h1.15M345 763h1.15M345 764h1.15M345 765h1.15M345 766h1.15M345 767h1.15M345 768h1.15M345 769h1.15M345 770h1.15M345 771h1.15M345 772h1.15M345 773h1.15M345 775h1.15M345 776h1.15M345 779h1.15M345 782h1.15M345 788h1.15M346 716h1.15M346 718h1.15M346 719h1.15M346 721h1.15M346 723h1.15M346 724h1.15M346 726h1.15M346 728h1.15M346 729h1.15M346 731h1.15M346 732h1.15M346 734h1.15M346 735h1.15M346 736h1.15M346 737h1.15M346 738h1.15M346 739h1.15M346 740h1.15M346 741h1.15M346 742h1.15M346 743h1.15M346 744h1.15M346 745h1.15M346 746h1.15M346 747h1.15M346 748h1.15M346 749h1.15M346 750h1.15M346 751h1.15M346 752h1.15M346 753h1.15M346 754h1.15M346 755h1.15M346 756h1.15M346 757h1.15M346 758h1.15M346 759h1.15M346 760h1.15M346 761h1.15M346 762h1.15M346 763h1.15M346 764h1.15M346 765h1.15M346 766h1.15M346 767h1.15M346 768h1.15M346 769h1.15M346 770h1.15M346 771h1.15M346 772h1.15M346 773h1.15M346 774h1.15M346 777h1.15M346 778h1.15M346 779h1.15M346 780h1.15M346 781h1.15M346 783h1.15M346 786h1.15M346 787h1.15M347 719h1.15M347 725h1.15M347 726h1.15M347 728h1.15M347 729h1.15M347 730h1.15M347 731h1.15M347 732h1.15M347 733h1.15M347 734h1.15M347 735h1.15M347 736h1.15M347 737h1.15M347 738h1.15M347 739h1.15M347 740h1.15M347 741h1.15M347 742h1.15M347 743h1.15M347 744h1.15M347 745h1.15M347 746h1.15M347 747h1.15M347 748h1.15M347 749h1.15M347 750h1.15M347 751h1.15M347 752h1.15M347 753h1.15M347 754h1.15M347 755h1.15M347 756h1.15M347 757h1.15M347 758h1.15M347 759h1.15M347 760h1.15M347 761h1.15M347 762h1.15M347 763h1.15M347 764h1.15M347 765h1.15M347 766h1.15M347 767h1.15M347 768h1.15M347 769h1.15M347 770h1.15M347 771h1.15M347 773h1.15M347 774h1.15M347 776h1.15M347 777h1.15M347 778h1.15M347 780h1.15M347 781h1.15M347 782h1.15M348 719h1.15M348 724h1.15M348 725h1.15M348 727h1.15M348 728h1.15M348 729h1.15M348 730h1.15M348 732h1.15M348 733h1.15M348 734h1.15M348 735h1.15M348 736h1.15M348 737h1.15M348 738h1.15M348 739h1.15M348 740h1.15M348 741h1.15M348 742h1.15M348 743h1.15M348 744h1.15M348 745h1.15M348 746h1.15M348 747h1.15M348 748h1.15M348 749h1.15M348 750h1.15M348 751h1.15M348 752h1.15M348 753h1.15M348 754h1.15M348 755h1.15M348 756h1.15M348 757h1.15M348 758h1.15M348 759h1.15M348 760h1.15M348 761h1.15M348 762h1.15M348 763h1.15M348 764h1.15M348 765h1.15M348 766h1.15M348 767h1.15M348 768h1.15M348 769h1.15M348 770h1.15M348 771h1.15M348 772h1.15M348 773h1.15M348 774h1.15M348 775h1.15M348 776h1.15M348 777h1.15M348 778h1.15M348 779h1.15M348 781h1.15M348 782h1.15M348 787h1.15M349 713h1.15M349 724h1.15M349 725h1.15M349 726h1.15M349 729h1.15M349 730h1.15M349 732h1.15M349 733h1.15M349 734h1.15M349 735h1.15M349 736h1.15M349 737h1.15M349 738h1.15M349 739h1.15M349 740h1.15M349 741h1.15M349 742h1.15M349 743h1.15M349 744h1.15M349 745h1.15M349 746h1.15M349 747h1.15M349 748h1.15M349 749h1.15M349 750h1.15M349 751h1.15M349 752h1.15M349 753h1.15M349 754h1.15M349 755h1.15M349 756h1.15M349 757h1.15M349 758h1.15M349 759h1.15M349 760h1.15M349 761h1.15M349 762h1.15M349 763h1.15M349 764h1.15M349 765h1.15M349 766h1.15M349 768h1.15M349 769h1.15M349 770h1.15M349 771h1.15M349 772h1.15M349 773h1.15M349 774h1.15M349 775h1.15M349 776h1.15M349 777h1.15M349 779h1.15M349 781h1.15M349 787h1.15M349 789h1.15M350 718h1.15M350 725h1.15M350 727h1.15M350 730h1.15M350 732h1.15M350 733h1.15M350 734h1.15M350 735h1.15M350 736h1.15M350 737h1.15M350 738h1.15M350 739h1.15M350 740h1.15M350 741h1.15M350 742h1.15M350 743h1.15M350 744h1.15M350 745h1.15M350 746h1.15M350 747h1.15M350 748h1.15M350 749h1.15M350 750h1.15M350 751h1.15M350 752h1.15M350 753h1.15M350 754h1.15M350 755h1.15M350 756h1.15M350 757h1.15M350 758h1.15M350 759h1.15M350 760h1.15M350 761h1.15M350 762h1.15M350 763h1.15M350 764h1.15M350 765h1.15M350 766h1.15M350 767h1.15M350 768h1.15M350 769h1.15M350 770h1.15M350 771h1.15M350 772h1.15M350 773h1.15M350 774h1.15M350 775h1.15M350 777h1.15M350 778h1.15M350 779h1.15M350 781h1.15M350 786h1.15M350 788h1.15M351 718h1.15M351 720h1.15M351 722h1.15M351 723h1.15M351 725h1.15M351 726h1.15M351 728h1.15M351 729h1.15M351 730h1.15M351 731h1.15M351 733h1.15M351 734h1.15M351 735h1.15M351 736h1.15M351 737h1.15M351 738h1.15M351 739h1.15M351 740h1.15M351 741h1.15M351 742h1.15M351 743h1.15M351 744h1.15M351 745h1.15M351 746h1.15M351 747h1.15M351 748h1.15M351 749h1.15M351 750h1.15M351 751h1.15M351 752h1.15M351 753h1.15M351 754h1.15M351 755h1.15M351 756h1.15M351 757h1.15M351 758h1.15M351 759h1.15M351 760h1.15M351 761h1.15M351 762h1.15M351 763h1.15M351 764h1.15M351 765h1.15M351 766h1.15M351 767h1.15M351 768h1.15M351 769h1.15M351 770h1.15M351 771h1.15M351 773h1.15M351 775h1.15M351 778h1.15M351 779h1.15M351 780h1.15M351 781h1.15M351 783h1.15M352 716h1.15M352 724h1.15M352 725h1.15M352 727h1.15M352 728h1.15M352 730h1.15M352 732h1.15M352 734h1.15M352 735h1.15M352 736h1.15M352 737h1.15M352 738h1.15M352 739h1.15M352 740h1.15M352 741h1.15M352 742h1.15M352 743h1.15M352 744h1.15M352 745h1.15M352 746h1.15M352 747h1.15M352 748h1.15M352 749h1.15M352 750h1.15M352 751h1.15M352 752h1.15M352 753h1.15M352 754h1.15M352 755h1.15M352 756h1.15M352 757h1.15M352 758h1.15M352 759h1.15M352 760h1.15M352 761h1.15M352 762h1.15M352 763h1.15M352 764h1.15M352 765h1.15M352 766h1.15M352 767h1.15M352 768h1.15M352 770h1.15M352 771h1.15M352 772h1.15M352 773h1.15M352 774h1.15M352 775h1.15M352 776h1.15M352 781h1.15M352 784h1.15M352 789h1.15M353 720h1.15M353 722h1.15M353 723h1.15M353 727h1.15M353 728h1.15M353 729h1.15M353 730h1.15M353 731h1.15M353 732h1.15M353 733h1.15M353 734h1.15M353 735h1.15M353 736h1.15M353 737h1.15M353 738h1.15M353 739h1.15M353 740h1.15M353 741h1.15M353 742h1.15M353 743h1.15M353 744h1.15M353 745h1.15M353 746h1.15M353 747h1.15M353 748h1.15M353 749h1.15M353 750h1.15M353 751h1.15M353 752h1.15M353 753h1.15M353 754h1.15M353 755h1.15M353 756h1.15M353 757h1.15M353 758h1.15M353 759h1.15M353 760h1.15M353 761h1.15M353 762h1.15M353 763h1.15M353 766h1.15M353 767h1.15M353 768h1.15M353 769h1.15M353 770h1.15M353 771h1.15M353 772h1.15M353 773h1.15M353 774h1.15M353 776h1.15M353 778h1.15M353 780h1.15M353 781h1.15M353 782h1.15M354 725h1.15M354 727h1.15M354 728h1.15M354 731h1.15M354 732h1.15M354 733h1.15M354 734h1.15M354 736h1.15M354 737h1.15M354 738h1.15M354 739h1.15M354 740h1.15M354 741h1.15M354 742h1.15M354 743h1.15M354 744h1.15M354 745h1.15M354 746h1.15M354 747h1.15M354 748h1.15M354 749h1.15M354 750h1.15M354 751h1.15M354 752h1.15M354 753h1.15M354 755h1.15M354 756h1.15M354 757h1.15M354 758h1.15M354 759h1.15M354 760h1.15M354 761h1.15M354 762h1.15M354 763h1.15M354 764h1.15M354 765h1.15M354 766h1.15M354 767h1.15M354 768h1.15M354 769h1.15M354 771h1.15M354 772h1.15M354 774h1.15M354 775h1.15M354 776h1.15M354 777h1.15M354 779h1.15M354 783h1.15M355 724h1.15M355 726h1.15M355 727h1.15M355 729h1.15M355 730h1.15M355 731h1.15M355 733h1.15M355 734h1.15M355 735h1.15M355 736h1.15M355 737h1.15M355 738h1.15M355 739h1.15M355 740h1.15M355 741h1.15M355 742h1.15M355 743h1.15M355 744h1.15M355 745h1.15M355 746h1.15M355 747h1.15M355 748h1.15M355 749h1.15M355 750h1.15M355 751h1.15M355 752h1.15M355 753h1.15M355 754h1.15M355 755h1.15M355 756h1.15M355 757h1.15M355 758h1.15M355 759h1.15M355 760h1.15M355 761h1.15M355 762h1.15M355 763h1.15M355 764h1.15M355 765h1.15M355 766h1.15M355 767h1.15M355 768h1.15M355 769h1.15M355 770h1.15M355 771h1.15M355 772h1.15M355 773h1.15M355 776h1.15M355 777h1.15M355 780h1.15M355 781h1.15M355 785h1.15M356 718h1.15M356 722h1.15M356 724h1.15M356 729h1.15M356 731h1.15M356 732h1.15M356 733h1.15M356 734h1.15M356 735h1.15M356 736h1.15M356 738h1.15M356 739h1.15M356 740h1.15M356 741h1.15M356 742h1.15M356 743h1.15M356 744h1.15M356 745h1.15M356 746h1.15M356 747h1.15M356 748h1.15M356 749h1.15M356 750h1.15M356 751h1.15M356 752h1.15M356 753h1.15M356 754h1.15M356 755h1.15M356 756h1.15M356 757h1.15M356 758h1.15M356 759h1.15M356 760h1.15M356 761h1.15M356 762h1.15M356 763h1.15M356 764h1.15M356 765h1.15M356 766h1.15M356 767h1.15M356 768h1.15M356 769h1.15M356 770h1.15M356 773h1.15M356 774h1.15M356 776h1.15M356 781h1.15M356 790h1.15M357 730h1.15M357 732h1.15M357 733h1.15M357 735h1.15M357 736h1.15M357 737h1.15M357 739h1.15M357 741h1.15M357 742h1.15M357 743h1.15M357 744h1.15M357 745h1.15M357 746h1.15M357 747h1.15M357 748h1.15M357 749h1.15M357 750h1.15M357 751h1.15M357 752h1.15M357 753h1.15M357 754h1.15M357 755h1.15M357 756h1.15M357 757h1.15M357 758h1.15M357 760h1.15M357 761h1.15M357 762h1.15M357 763h1.15M357 764h1.15M357 765h1.15M357 766h1.15M357 767h1.15M357 769h1.15M357 770h1.15M357 771h1.15M357 772h1.15M357 776h1.15M357 777h1.15M357 779h1.15M357 782h1.15M358 724h1.15M358 726h1.15M358 729h1.15M358 734h1.15M358 735h1.15M358 738h1.15M358 739h1.15M358 740h1.15M358 741h1.15M358 742h1.15M358 743h1.15M358 744h1.15M358 745h1.15M358 747h1.15M358 748h1.15M358 749h1.15M358 750h1.15M358 751h1.15M358 752h1.15M358 753h1.15M358 754h1.15M358 755h1.15M358 756h1.15M358 757h1.15M358 758h1.15M358 759h1.15M358 760h1.15M358 761h1.15M358 762h1.15M358 763h1.15M358 764h1.15M358 765h1.15M358 766h1.15M358 767h1.15M358 768h1.15M358 770h1.15M358 772h1.15M358 773h1.15M358 774h1.15M358 776h1.15M358 778h1.15M358 780h1.15M358 787h1.15M358 788h1.15M359 723h1.15M359 728h1.15M359 732h1.15M359 734h1.15M359 735h1.15M359 739h1.15M359 740h1.15M359 742h1.15M359 743h1.15M359 744h1.15M359 745h1.15M359 746h1.15M359 747h1.15M359 748h1.15M359 749h1.15M359 750h1.15M359 751h1.15M359 752h1.15M359 753h1.15M359 754h1.15M359 755h1.15M359 756h1.15M359 757h1.15M359 758h1.15M359 759h1.15M359 760h1.15M359 761h1.15M359 762h1.15M359 763h1.15M359 764h1.15M359 765h1.15M359 766h1.15M359 768h1.15M359 769h1.15M359 770h1.15M359 771h1.15M359 775h1.15M359 783h1.15M360 723h1.15M360 727h1.15M360 729h1.15M360 730h1.15M360 732h1.15M360 735h1.15M360 736h1.15M360 738h1.15M360 739h1.15M360 742h1.15M360 746h1.15M360 747h1.15M360 748h1.15M360 749h1.15M360 751h1.15M360 752h1.15M360 753h1.15M360 754h1.15M360 756h1.15M360 757h1.15M360 758h1.15M360 759h1.15M360 760h1.15M360 762h1.15M360 765h1.15M360 766h1.15M360 767h1.15M360 768h1.15M360 769h1.15M360 775h1.15M360 776h1.15M360 777h1.15M360 778h1.15M360 780h1.15M360 781h1.15M360 784h1.15M361 718h1.15M361 724h1.15M361 725h1.15M361 726h1.15M361 730h1.15M361 733h1.15M361 734h1.15M361 737h1.15M361 738h1.15M361 739h1.15M361 740h1.15M361 741h1.15M361 742h1.15M361 743h1.15M361 744h1.15M361 745h1.15M361 746h1.15M361 747h1.15M361 748h1.15M361 749h1.15M361 750h1.15M361 751h1.15M361 752h1.15M361 753h1.15M361 754h1.15M361 755h1.15M361 756h1.15M361 757h1.15M361 758h1.15M361 759h1.15M361 760h1.15M361 761h1.15M361 762h1.15M361 763h1.15M361 764h1.15M361 765h1.15M361 766h1.15M361 767h1.15M361 768h1.15M361 769h1.15M361 770h1.15M361 771h1.15M361 772h1.15M361 776h1.15M361 782h1.15M361 784h1.15M362 703h1.15M362 724h1.15M362 728h1.15M362 730h1.15M362 731h1.15M362 733h1.15M362 736h1.15M362 737h1.15M362 738h1.15M362 739h1.15M362 742h1.15M362 743h1.15M362 745h1.15M362 746h1.15M362 747h1.15M362 750h1.15M362 751h1.15M362 752h1.15M362 754h1.15M362 755h1.15M362 756h1.15M362 757h1.15M362 758h1.15M362 760h1.15M362 761h1.15M362 762h1.15M362 763h1.15M362 764h1.15M362 765h1.15M362 767h1.15M362 770h1.15M362 772h1.15M362 784h1.15M362 785h1.15M363 719h1.15M363 720h1.15M363 730h1.15M363 734h1.15M363 736h1.15M363 739h1.15M363 740h1.15M363 741h1.15M363 744h1.15M363 745h1.15M363 746h1.15M363 747h1.15M363 748h1.15M363 749h1.15M363 751h1.15M363 752h1.15M363 753h1.15M363 754h1.15M363 756h1.15M363 757h1.15M363 758h1.15M363 759h1.15M363 762h1.15M363 764h1.15M363 765h1.15M363 766h1.15M363 767h1.15M363 770h1.15M363 772h1.15M363 773h1.15M363 776h1.15M363 778h1.15M363 779h1.15M363 781h1.15M363 789h1.15M364 729h1.15M364 733h1.15M364 734h1.15M364 736h1.15M364 738h1.15M364 739h1.15M364 740h1.15M364 741h1.15M364 743h1.15M364 744h1.15M364 745h1.15M364 746h1.15M364 747h1.15M364 748h1.15M364 750h1.15M364 753h1.15M364 754h1.15M364 755h1.15M364 756h1.15M364 757h1.15M364 758h1.15M364 759h1.15M364 760h1.15M364 761h1.15M364 762h1.15M364 763h1.15M364 764h1.15M364 765h1.15M364 766h1.15M364 767h1.15M364 768h1.15M364 770h1.15M364 771h1.15M364 772h1.15M364 774h1.15M364 777h1.15M364 781h1.15M364 783h1.15M364 785h1.15M365 726h1.15M365 731h1.15M365 732h1.15M365 734h1.15M365 735h1.15M365 737h1.15M365 738h1.15M365 739h1.15M365 740h1.15M365 741h1.15M365 743h1.15M365 744h1.15M365 745h1.15M365 748h1.15M365 749h1.15M365 750h1.15M365 751h1.15M365 752h1.15M365 754h1.15M365 755h1.15M365 756h1.15M365 758h1.15M365 759h1.15M365 760h1.15M365 762h1.15M365 763h1.15M365 764h1.15M365 765h1.15M365 766h1.15M365 767h1.15M365 768h1.15M365 769h1.15M365 771h1.15M365 773h1.15M365 776h1.15M365 781h1.15M365 786h1.15M365 788h1.15M366 734h1.15M366 737h1.15M366 738h1.15M366 740h1.15M366 742h1.15M366 746h1.15M366 748h1.15M366 749h1.15M366 752h1.15M366 754h1.15M366 756h1.15M366 758h1.15M366 759h1.15M366 761h1.15M366 763h1.15M366 765h1.15M366 766h1.15M366 767h1.15M366 771h1.15M366 773h1.15M366 774h1.15M366 776h1.15M366 778h1.15M366 779h1.15M366 780h1.15M366 783h1.15M366 790h1.15M367 725h1.15M367 729h1.15M367 741h1.15M367 742h1.15M367 743h1.15M367 745h1.15M367 746h1.15M367 747h1.15M367 748h1.15M367 750h1.15M367 751h1.15M367 752h1.15M367 757h1.15M367 758h1.15M367 759h1.15M367 760h1.15M367 761h1.15M367 762h1.15M367 763h1.15M367 764h1.15M367 765h1.15M367 768h1.15M367 769h1.15M367 770h1.15M367 772h1.15M367 774h1.15M367 776h1.15M367 779h1.15M368 722h1.15M368 730h1.15M368 732h1.15M368 733h1.15M368 737h1.15M368 740h1.15M368 742h1.15M368 744h1.15M368 745h1.15M368 747h1.15M368 748h1.15M368 750h1.15M368 751h1.15M368 752h1.15M368 753h1.15M368 754h1.15M368 755h1.15M368 756h1.15M368 757h1.15M368 758h1.15M368 759h1.15M368 760h1.15M368 762h1.15M368 764h1.15M368 765h1.15M368 766h1.15M368 768h1.15M368 770h1.15M368 771h1.15M368 773h1.15M368 775h1.15M368 776h1.15M368 782h1.15M369 725h1.15M369 733h1.15M369 735h1.15M369 736h1.15M369 740h1.15M369 743h1.15M369 744h1.15M369 745h1.15M369 749h1.15M369 750h1.15M369 753h1.15M369 754h1.15M369 755h1.15M369 756h1.15M369 758h1.15M369 761h1.15M369 764h1.15M369 769h1.15M369 770h1.15M369 772h1.15M369 773h1.15M369 774h1.15M369 776h1.15M369 778h1.15M369 781h1.15M369 783h1.15M370 737h1.15M370 742h1.15M370 745h1.15M370 749h1.15M370 755h1.15M370 758h1.15M370 759h1.15M370 760h1.15M370 761h1.15M370 764h1.15M370 767h1.15M370 768h1.15M370 773h1.15M371 731h1.15M371 737h1.15M371 742h1.15M371 745h1.15M371 749h1.15M371 755h1.15M371 759h1.15M371 760h1.15M371 763h1.15M371 764h1.15M371 779h1.15M371 785h1.15M372 728h1.15M372 734h1.15M372 738h1.15M372 740h1.15M372 742h1.15M372 745h1.15M372 752h1.15M372 754h1.15M372 755h1.15M372 758h1.15M372 759h1.15M372 764h1.15M372 765h1.15M372 774h1.15M372 775h1.15M372 780h1.15M372 787h1.15M373 714h1.15M373 737h1.15M373 744h1.15M373 752h1.15M373 753h1.15M373 755h1.15M373 756h1.15M373 758h1.15M373 760h1.15M373 761h1.15M373 763h1.15M373 767h1.15M373 770h1.15M373 771h1.15M373 773h1.15M373 774h1.15M374 752h1.15M374 755h1.15M374 758h1.15M374 759h1.15M374 760h1.15M374 768h1.15M374 770h1.15M374 772h1.15M374 773h1.15M375 714h1.15M375 719h1.15M375 731h1.15M375 739h1.15M375 744h1.15M375 748h1.15M375 750h1.15M375 751h1.15M375 753h1.15M375 762h1.15M375 764h1.15M375 768h1.15M375 772h1.15M375 778h1.15M375 786h1.15M376 731h1.15M376 734h1.15M376 740h1.15M376 746h1.15M376 753h1.15M376 754h1.15M376 758h1.15M376 760h1.15M376 764h1.15M376 766h1.15M376 768h1.15M376 769h1.15M376 788h1.15M377 728h1.15M377 737h1.15M377 740h1.15M377 754h1.15M377 755h1.15M377 756h1.15M377 761h1.15M377 768h1.15M377 775h1.15M378 714h1.15M378 726h1.15M378 735h1.15M378 739h1.15M378 741h1.15M378 746h1.15M378 755h1.15M378 756h1.15M378 763h1.15M378 764h1.15M378 770h1.15M378 780h1.15M378 788h1.15M379 723h1.15M379 728h1.15M379 734h1.15M379 751h1.15M379 752h1.15M379 755h1.15M379 756h1.15M379 767h1.15M379 769h1.15M379 784h1.15M380 729h1.15M380 761h1.15M380 770h1.15M380 771h1.15M380 776h1.15M380 780h1.15M381 727h1.15M381 741h1.15M381 751h1.15M381 752h1.15M381 753h1.15M381 757h1.15M381 768h1.15M381 774h1.15M381 775h1.15M381 778h1.15M382 749h1.15M382 751h1.15M382 752h1.15M382 756h1.15M382 764h1.15M382 768h1.15M382 772h1.15M382 787h1.15M383 735h1.15M383 743h1.15M383 752h1.15M383 764h1.15M383 771h1.15M384 731h1.15M384 777h1.15M385 747h1.15M385 753h1.15M385 759h1.15M385 770h1.15M386 748h1.15M387 733h1.15M387 747h1.15M387 760h1.15M388 741h1.15M388 743h1.15M388 744h1.15M388 746h1.15M388 749h1.15M388 750h1.15M388 756h1.15M388 757h1.15M388 767h1.15M388 790h1.15M389 731h1.15M389 738h1.15M389 747h1.15M390 730h1.15M391 718h1.15M391 745h1.15M391 759h1.15M391 788h1.15M392 734h1.15M392 739h1.15M392 749h1.15M394 737h1.15M394 744h1.15M394 751h1.15M394 754h1.15M394 762h1.15M395 720h1.15M395 729h1.15M395 738h1.15M395 747h1.15M395 774h1.15M396 738h1.15M396 772h1.15M397 719h1.15M397 741h1.15M398 753h1.15M398 755h1.15M399 745h1.15M399 768h1.15M400 673h1.15M400 705h1.15M400 721h1.15M400 745h1.15M400 776h1.15M400 789h1.15M401 685h1.15M401 698h1.15M401 724h1.15M401 760h1.15M401 783h1.15M402 734h1.15M402 776h1.15M402 777h1.15M403 728h1.15M403 741h1.15M403 762h1.15M403 787h1.15M404 730h1.15M404 748h1.15M404 756h1.15M404 769h1.15M405 658h1.15M406 665h1.15M406 740h1.15M406 741h1.15M406 746h1.15M407 724h1.15M407 749h1.15M407 776h1.15M408 653h1.15M408 657h1.15M408 718h1.15M408 727h1.15M408 743h1.15M408 779h1.15M409 684h1.15M410 748h1.15M411 665h1.15M411 681h1.15M411 688h1.15M413 649h1.15M413 734h1.15M413 743h1.15M413 755h1.15M414 693h1.15M414 700h1.15M414 727h1.15M414 769h1.15M414 770h1.15M414 772h1.15M415 738h1.15M416 727h1.15M416 729h1.15M416 734h1.15M416 755h1.15M416 756h1.15M416 770h1.15M416 776h1.15M417 666h1.15M417 730h1.15M417 776h1.15M418 655h1.15M418 719h1.15M418 770h1.15M419 644h1.15M419 670h1.15M419 699h1.15M419 708h1.15M419 725h1.15M419 729h1.15M419 747h1.15M420 662h1.15M420 677h1.15M420 684h1.15M421 657h1.15M421 663h1.15M421 695h1.15M421 716h1.15M421 745h1.15M421 753h1.15M421 784h1.15M422 642h1.15M422 687h1.15M422 740h1.15M422 752h1.15M423 668h1.15M423 672h1.15M423 674h1.15M423 731h1.15M423 759h1.15M424 650h1.15M424 651h1.15M424 652h1.15M424 661h1.15M424 667h1.15M424 673h1.15M424 674h1.15M424 678h1.15M424 729h1.15M425 642h1.15M425 674h1.15M425 763h1.15M426 658h1.15M426 659h1.15M426 667h1.15M426 668h1.15M426 681h1.15M426 770h1.15M427 668h1.15M427 671h1.15M427 719h1.15M427 720h1.15M427 726h1.15M427 786h1.15M428 668h1.15M428 669h1.15M428 671h1.15M428 679h1.15M428 680h1.15M428 687h1.15M428 696h1.15M428 784h1.15M429 645h1.15M429 646h1.15M429 655h1.15M429 674h1.15M429 685h1.15M429 690h1.15M429 756h1.15M429 761h1.15M429 771h1.15M429 779h1.15M430 656h1.15M430 660h1.15M430 662h1.15M430 663h1.15M430 675h1.15M430 695h1.15M430 704h1.15M430 732h1.15M431 661h1.15M431 669h1.15M431 674h1.15M431 676h1.15M431 734h1.15M431 748h1.15M431 786h1.15M432 649h1.15M432 655h1.15M432 657h1.15M432 667h1.15M432 671h1.15M432 672h1.15M432 675h1.15M432 681h1.15M433 653h1.15M433 662h1.15M433 663h1.15M433 666h1.15M433 668h1.15M433 670h1.15M433 689h1.15M434 648h1.15M434 654h1.15M434 656h1.15M434 660h1.15M434 662h1.15M434 679h1.15M434 743h1.15M434 771h1.15M435 667h1.15M435 674h1.15M435 676h1.15M435 728h1.15M435 756h1.15M436 645h1.15M436 651h1.15M436 655h1.15M436 667h1.15M436 668h1.15M436 672h1.15M436 675h1.15M436 676h1.15M436 678h1.15M436 679h1.15M436 681h1.15M436 689h1.15M436 694h1.15M436 754h1.15M436 766h1.15M437 655h1.15M437 658h1.15M437 663h1.15M437 668h1.15M437 671h1.15M437 672h1.15M437 679h1.15M437 681h1.15M437 682h1.15M437 691h1.15M437 739h1.15M437 770h1.15M437 774h1.15M437 777h1.15M438 653h1.15M438 654h1.15M438 660h1.15M438 668h1.15M438 669h1.15M438 670h1.15M438 672h1.15M438 675h1.15M438 677h1.15M438 678h1.15M438 687h1.15M438 697h1.15M438 744h1.15M439 648h1.15M439 666h1.15M439 669h1.15M439 670h1.15M439 672h1.15M439 680h1.15M439 683h1.15M439 685h1.15M440 649h1.15M440 658h1.15M440 670h1.15M440 671h1.15M440 678h1.15M440 688h1.15M440 690h1.15M440 726h1.15M440 729h1.15M441 647h1.15M441 650h1.15M441 658h1.15M441 659h1.15M441 660h1.15M441 664h1.15M441 671h1.15M441 675h1.15M441 676h1.15M441 678h1.15M441 679h1.15M441 703h1.15M442 650h1.15M442 655h1.15M442 659h1.15M442 662h1.15M442 665h1.15M442 666h1.15M442 676h1.15M442 678h1.15M442 681h1.15M442 687h1.15M442 725h1.15M442 753h1.15M442 769h1.15M443 651h1.15M443 659h1.15M443 664h1.15M443 668h1.15M443 678h1.15M443 682h1.15M443 683h1.15M443 685h1.15M443 723h1.15M443 743h1.15M443 776h1.15M444 645h1.15M444 655h1.15M444 657h1.15M444 658h1.15M444 665h1.15M444 668h1.15M444 669h1.15M444 671h1.15M444 679h1.15M444 681h1.15M444 683h1.15M444 756h1.15M444 766h1.15M444 767h1.15M445 653h1.15M445 662h1.15M445 664h1.15M445 666h1.15M445 667h1.15M445 668h1.15M445 670h1.15M445 673h1.15M445 678h1.15M445 687h1.15M445 691h1.15M445 696h1.15M445 727h1.15M445 770h1.15M445 778h1.15M445 789h1.15M446 648h1.15M446 651h1.15M446 661h1.15M446 662h1.15M446 665h1.15M446 667h1.15M446 668h1.15M446 683h1.15M446 689h1.15M447 657h1.15M447 662h1.15M447 665h1.15M447 666h1.15M447 779h1.15M448 656h1.15M448 657h1.15M448 661h1.15M448 666h1.15M448 667h1.15M448 668h1.15M448 672h1.15M448 675h1.15M448 690h1.15M449 650h1.15M449 654h1.15M449 664h1.15M449 671h1.15M449 681h1.15M449 733h1.15M449 755h1.15M449 776h1.15M450 653h1.15M450 657h1.15M450 660h1.15M450 663h1.15M450 665h1.15M450 666h1.15M450 671h1.15M450 681h1.15M450 684h1.15M450 685h1.15M450 695h1.15M450 705h1.15M450 766h1.15M450 777h1.15M450 780h1.15M451 662h1.15M451 664h1.15M451 666h1.15M451 672h1.15M451 675h1.15M451 683h1.15M451 694h1.15M451 758h1.15M451 775h1.15M451 781h1.15M451 783h1.15" stroke="#dd0808" stroke-width="1.15" fill="none" transform="translate(-0.1,0.5)"/>
<path d="M271 791h1.4M276 790h1.4M280 790h1.4M284 791h1.4M288 790h1.4M291 790h1.4M294 790h1.4M295 790h1.4M298 791h1.4M301 791h1.4M302 790h1.4M308 790h1.4M309 790h1.4M311 790h1.4M317 790h1.4M317 791h1.4M318 791h1.4M323 789h1.4M323 790h1.4M323 791h1.4M325 791h1.4M327 790h1.4M328 790h1.4M329 790h1.4M335 790h1.4M338 790h1.4M340 790h1.4M343 790h1.4M346 790h1.4M347 790h1.4M355 791h1.4M358 790h1.4M359 790h1.4M360 790h1.4M361 789h1.4M363 791h1.4M365 789h1.4M366 790h1.4M367 790h1.4M371 790h1.4M372 790h1.4M373 790h1.4M375 790h1.4M379 790h1.4M381 790h1.4M384 790h1.4M384 791h1.4M386 790h1.4M387 791h1.4M388 790h1.4M389 790h1.4M389 791h1.4M390 790h1.4M392 789h1.4M392 790h1.4M394 790h1.4M394 791h1.4M395 789h1.4M395 791h1.4M397 790h1.4M400 789h1.4M400 790h1.4M401 789h1.4M403 790h1.4M404 790h1.4M409 790h1.4M410 790h1.4M412 790h1.4M413 791h1.4M414 791h1.4M417 790h1.4M421 790h1.4M423 790h1.4M423 791h1.4M426 790h1.4M429 791h1.4M433 790h1.4M441 791h1.4M444 790h1.4M447 791h1.4" stroke="#a80000" stroke-width="1.6" fill="none" transform="translate(-0.2,0.5)"/>
</g>
<line x1="452.0" y1="640.0" x2="452.0" y2="700.0" stroke="#b00000" stroke-width="1.5"/>
<rect x="268.3" y="602.8" width="184.9" height="189.5" fill="none" stroke="#1e1e1e" stroke-width="1.3"/>
<line x1="361.4" y1="602.8" x2="361.4" y2="792.3" stroke="#111" stroke-width="1.3"/>
<line x1="268.3" y1="713.0" x2="453.2" y2="713.0" stroke="#111" stroke-width="1.3"/>
<path d="M268.3 792.3h-4M268.3 792.3v4M268.3 778.0h-2.4M282.2 792.3v2.4M268.3 769.7h-2.4M290.4 792.3v2.4M268.3 763.8h-2.4M296.1 792.3v2.4M268.3 759.2h-2.4M300.6 792.3v2.4M268.3 755.4h-2.4M304.3 792.3v2.4M268.3 752.3h-2.4M307.4 792.3v2.4M268.3 749.5h-2.4M310.0 792.3v2.4M268.3 747.1h-2.4M312.4 792.3v2.4M268.3 744.9h-4M314.5 792.3v4M268.3 730.7h-2.4M328.4 792.3v2.4M268.3 722.3h-2.4M336.6 792.3v2.4M268.3 716.4h-2.4M342.4 792.3v2.4M268.3 711.8h-2.4M346.8 792.3v2.4M268.3 708.1h-2.4M350.5 792.3v2.4M268.3 704.9h-2.4M353.6 792.3v2.4M268.3 702.1h-2.4M356.3 792.3v2.4M268.3 699.7h-2.4M358.6 792.3v2.4M268.3 697.5h-4M360.8 792.3v4M268.3 683.3h-2.4M374.7 792.3v2.4M268.3 674.9h-2.4M382.8 792.3v2.4M268.3 669.0h-2.4M388.6 792.3v2.4M268.3 664.4h-2.4M393.1 792.3v2.4M268.3 660.7h-2.4M396.7 792.3v2.4M268.3 657.5h-2.4M399.8 792.3v2.4M268.3 654.8h-2.4M402.5 792.3v2.4M268.3 652.3h-2.4M404.9 792.3v2.4M268.3 650.2h-4M407.0 792.3v4M268.3 635.9h-2.4M420.9 792.3v2.4M268.3 627.6h-2.4M429.0 792.3v2.4M268.3 621.7h-2.4M434.8 792.3v2.4M268.3 617.1h-2.4M439.3 792.3v2.4M268.3 613.3h-2.4M442.9 792.3v2.4M268.3 610.1h-2.4M446.0 792.3v2.4M268.3 607.4h-2.4M448.7 792.3v2.4M268.3 605.0h-2.4M451.1 792.3v2.4M268.3 602.8h-4M453.2 792.3v4" stroke="#222" stroke-width="1" fill="none"/>
<text transform="translate(262.3,799.2) rotate(-90)" font-size="8.6" textLength="7.6" lengthAdjust="spacingAndGlyphs" fill="#222">10</text>
<text transform="translate(258.7,790.4) rotate(-90)" font-size="7.6" fill="#222">0</text>
<text x="260.7" y="807.7" font-size="9.2" textLength="8.8" lengthAdjust="spacingAndGlyphs" fill="#222">10</text>
<text x="270.3" y="803.2" font-size="7.6" fill="#222">0</text>
<text transform="translate(262.3,751.8) rotate(-90)" font-size="8.6" textLength="7.6" lengthAdjust="spacingAndGlyphs" fill="#222">10</text>
<text transform="translate(258.7,743.0) rotate(-90)" font-size="7.6" fill="#222">1</text>
<text x="306.9" y="807.7" font-size="9.2" textLength="8.8" lengthAdjust="spacingAndGlyphs" fill="#222">10</text>
<text x="316.5" y="803.2" font-size="7.6" fill="#222">1</text>
<text transform="translate(262.3,704.4) rotate(-90)" font-size="8.6" textLength="7.6" lengthAdjust="spacingAndGlyphs" fill="#222">10</text>
<text transform="translate(258.7,695.6) rotate(-90)" font-size="7.6" fill="#222">2</text>
<text x="353.1" y="807.7" font-size="9.2" textLength="8.8" lengthAdjust="spacingAndGlyphs" fill="#222">10</text>
<text x="362.8" y="803.2" font-size="7.6" fill="#222">2</text>
<text transform="translate(262.3,657.1) rotate(-90)" font-size="8.6" textLength="7.6" lengthAdjust="spacingAndGlyphs" fill="#222">10</text>
<text transform="translate(258.7,648.3) rotate(-90)" font-size="7.6" fill="#222">3</text>
<text x="399.4" y="807.7" font-size="9.2" textLength="8.8" lengthAdjust="spacingAndGlyphs" fill="#222">10</text>
<text x="409.0" y="803.2" font-size="7.6" fill="#222">3</text>
<text transform="translate(262.3,609.7) rotate(-90)" font-size="8.6" textLength="7.6" lengthAdjust="spacingAndGlyphs" fill="#222">10</text>
<text transform="translate(258.7,600.9) rotate(-90)" font-size="7.6" fill="#222">4</text>
<text x="445.6" y="807.7" font-size="9.2" textLength="8.8" lengthAdjust="spacingAndGlyphs" fill="#222">10</text>
<text x="455.2" y="803.2" font-size="7.6" fill="#222">4</text>
<text x="329.4" y="815.6" textLength="60.1" lengthAdjust="spacingAndGlyphs" font-size="8.6" fill="#222">Annexin V FITC</text>
<text transform="translate(251.1,729.3) rotate(-90)" x="0" y="0" textLength="61.5" lengthAdjust="spacingAndGlyphs" font-size="8.2" fill="#222">Propidium Iodide</text>
<line x1="276.0" y1="627.0" x2="333.1" y2="627.0" stroke="#222" stroke-width="1.0"/>
<line x1="305.3" y1="614.7" x2="305.3" y2="639.5" stroke="#222" stroke-width="1.0"/>
<text x="281.6" y="624.4" textLength="20.2" lengthAdjust="spacingAndGlyphs" font-size="10" fill="#222">0.00</text>
<text x="308.3" y="624.4" textLength="20.3" lengthAdjust="spacingAndGlyphs" font-size="10" fill="#222">5.76</text>
<text x="276.3" y="637.8" textLength="26.2" lengthAdjust="spacingAndGlyphs" font-size="10" fill="#222">80.49</text>
<text x="308.3" y="637.8" textLength="26.4" lengthAdjust="spacingAndGlyphs" font-size="10" fill="#222">13.75</text>
<clipPath id="c5"><rect x="48.9" y="826.4" width="183.9" height="182.3"/></clipPath>
<g clip-path="url(#c5)">
<path d="M49 1001h1.15M50 997h1.15M50 1000h1.15M50 1001h1.15M50 1002h1.15M50 1003h1.15M50 1005h1.15M50 1006h1.15M51 997h1.15M51 1003h1.15M70 990h1.15M72 998h1.15M75 994h1.15M75 995h1.15M76 1002h1.15M77 990h1.15M79 999h1.15M80 978h1.15M81 978h1.15M81 1006h1.15M81 1007h1.15M82 994h1.15M82 1001h1.15M83 986h1.15M83 989h1.15M83 992h1.15M83 993h1.15M85 991h1.15M85 993h1.15M85 996h1.15M85 1002h1.15M86 977h1.15M86 984h1.15M86 988h1.15M86 996h1.15M86 1004h1.15M87 978h1.15M87 989h1.15M87 996h1.15M87 999h1.15M87 1002h1.15M87 1006h1.15M88 979h1.15M88 980h1.15M88 982h1.15M88 983h1.15M88 986h1.15M88 987h1.15M88 991h1.15M88 995h1.15M88 998h1.15M88 999h1.15M88 1000h1.15M89 974h1.15M89 985h1.15M89 989h1.15M89 992h1.15M89 993h1.15M89 997h1.15M89 998h1.15M89 1000h1.15M89 1005h1.15M90 981h1.15M90 983h1.15M90 984h1.15M90 985h1.15M90 988h1.15M90 992h1.15M90 993h1.15M90 996h1.15M90 999h1.15M90 1000h1.15M90 1005h1.15M90 1007h1.15M90 1008h1.15M91 971h1.15M91 976h1.15M91 978h1.15M91 979h1.15M91 980h1.15M91 981h1.15M91 985h1.15M91 988h1.15M91 992h1.15M91 994h1.15M91 996h1.15M91 998h1.15M91 999h1.15M91 1000h1.15M91 1001h1.15M91 1002h1.15M91 1003h1.15M91 1005h1.15M92 968h1.15M92 973h1.15M92 978h1.15M92 981h1.15M92 982h1.15M92 983h1.15M92 984h1.15M92 986h1.15M92 987h1.15M92 988h1.15M92 989h1.15M92 990h1.15M92 991h1.15M92 993h1.15M92 994h1.15M92 995h1.15M92 996h1.15M92 997h1.15M92 999h1.15M92 1000h1.15M92 1001h1.15M92 1002h1.15M92 1003h1.15M92 1004h1.15M92 1005h1.15M93 961h1.15M93 968h1.15M93 972h1.15M93 973h1.15M93 977h1.15M93 979h1.15M93 985h1.15M93 986h1.15M93 987h1.15M93 988h1.15M93 989h1.15M93 991h1.15M93 993h1.15M93 996h1.15M93 998h1.15M93 999h1.15M93 1000h1.15M93 1001h1.15M93 1002h1.15M93 1003h1.15M93 1004h1.15M93 1007h1.15M93 1008h1.15M94 971h1.15M94 973h1.15M94 974h1.15M94 975h1.15M94 977h1.15M94 978h1.15M94 980h1.15M94 981h1.15M94 982h1.15M94 983h1.15M94 984h1.15M94 985h1.15M94 987h1.15M94 988h1.15M94 989h1.15M94 991h1.15M94 992h1.15M94 993h1.15M94 994h1.15M94 995h1.15M94 996h1.15M94 997h1.15M94 998h1.15M94 1000h1.15M94 1001h1.15M94 1002h1.15M94 1004h1.15M94 1005h1.15M94 1006h1.15M94 1007h1.15M94 1008h1.15M95 971h1.15M95 972h1.15M95 973h1.15M95 976h1.15M95 977h1.15M95 978h1.15M95 979h1.15M95 980h1.15M95 981h1.15M95 982h1.15M95 983h1.15M95 984h1.15M95 985h1.15M95 986h1.15M95 987h1.15M95 988h1.15M95 989h1.15M95 990h1.15M95 991h1.15M95 992h1.15M95 994h1.15M95 995h1.15M95 996h1.15M95 997h1.15M95 998h1.15M95 999h1.15M95 1000h1.15M95 1001h1.15M95 1002h1.15M95 1003h1.15M95 1005h1.15M95 1006h1.15M95 1007h1.15M95 1008h1.15M96 955h1.15M96 961h1.15M96 964h1.15M96 967h1.15M96 974h1.15M96 976h1.15M96 977h1.15M96 978h1.15M96 979h1.15M96 981h1.15M96 983h1.15M96 986h1.15M96 987h1.15M96 989h1.15M96 990h1.15M96 991h1.15M96 992h1.15M96 993h1.15M96 994h1.15M96 995h1.15M96 996h1.15M96 997h1.15M96 998h1.15M96 999h1.15M96 1000h1.15M96 1001h1.15M96 1002h1.15M96 1003h1.15M96 1004h1.15M96 1005h1.15M96 1006h1.15M96 1008h1.15M97 962h1.15M97 967h1.15M97 971h1.15M97 972h1.15M97 973h1.15M97 974h1.15M97 975h1.15M97 976h1.15M97 977h1.15M97 978h1.15M97 979h1.15M97 980h1.15M97 981h1.15M97 982h1.15M97 983h1.15M97 984h1.15M97 985h1.15M97 986h1.15M97 987h1.15M97 988h1.15M97 989h1.15M97 990h1.15M97 991h1.15M97 992h1.15M97 993h1.15M97 994h1.15M97 995h1.15M97 996h1.15M97 997h1.15M97 998h1.15M97 999h1.15M97 1000h1.15M97 1001h1.15M97 1002h1.15M97 1003h1.15M97 1005h1.15M97 1006h1.15M97 1007h1.15M98 965h1.15M98 970h1.15M98 972h1.15M98 973h1.15M98 975h1.15M98 976h1.15M98 977h1.15M98 978h1.15M98 979h1.15M98 980h1.15M98 981h1.15M98 982h1.15M98 983h1.15M98 984h1.15M98 985h1.15M98 986h1.15M98 987h1.15M98 988h1.15M98 989h1.15M98 990h1.15M98 991h1.15M98 992h1.15M98 993h1.15M98 994h1.15M98 995h1.15M98 996h1.15M98 997h1.15M98 998h1.15M98 999h1.15M98 1000h1.15M98 1001h1.15M98 1002h1.15M98 1003h1.15M98 1004h1.15M98 1005h1.15M98 1006h1.15M98 1007h1.15M99 956h1.15M99 964h1.15M99 967h1.15M99 969h1.15M99 970h1.15M99 972h1.15M99 973h1.15M99 975h1.15M99 976h1.15M99 977h1.15M99 979h1.15M99 980h1.15M99 981h1.15M99 982h1.15M99 983h1.15M99 984h1.15M99 985h1.15M99 986h1.15M99 987h1.15M99 988h1.15M99 989h1.15M99 990h1.15M99 991h1.15M99 992h1.15M99 993h1.15M99 994h1.15M99 995h1.15M99 996h1.15M99 997h1.15M99 998h1.15M99 999h1.15M99 1000h1.15M99 1001h1.15M99 1002h1.15M99 1003h1.15M99 1004h1.15M99 1005h1.15M99 1006h1.15M99 1007h1.15M100 961h1.15M100 964h1.15M100 967h1.15M100 970h1.15M100 971h1.15M100 975h1.15M100 976h1.15M100 977h1.15M100 978h1.15M100 979h1.15M100 980h1.15M100 982h1.15M100 983h1.15M100 984h1.15M100 985h1.15M100 986h1.15M100 987h1.15M100 988h1.15M100 989h1.15M100 990h1.15M100 991h1.15M100 992h1.15M100 993h1.15M100 994h1.15M100 995h1.15M100 996h1.15M100 997h1.15M100 998h1.15M100 999h1.15M100 1000h1.15M100 1001h1.15M100 1002h1.15M100 1003h1.15M100 1004h1.15M100 1005h1.15M100 1006h1.15M100 1007h1.15M100 1008h1.15M101 955h1.15M101 961h1.15M101 966h1.15M101 969h1.15M101 970h1.15M101 971h1.15M101 972h1.15M101 973h1.15M101 974h1.15M101 975h1.15M101 976h1.15M101 977h1.15M101 978h1.15M101 979h1.15M101 980h1.15M101 981h1.15M101 982h1.15M101 983h1.15M101 984h1.15M101 985h1.15M101 986h1.15M101 987h1.15M101 988h1.15M101 989h1.15M101 990h1.15M101 991h1.15M101 992h1.15M101 993h1.15M101 994h1.15M101 995h1.15M101 996h1.15M101 997h1.15M101 998h1.15M101 999h1.15M101 1000h1.15M101 1001h1.15M101 1002h1.15M101 1003h1.15M101 1004h1.15M101 1005h1.15M101 1006h1.15M101 1007h1.15M101 1008h1.15M102 958h1.15M102 960h1.15M102 963h1.15M102 966h1.15M102 968h1.15M102 969h1.15M102 971h1.15M102 973h1.15M102 974h1.15M102 975h1.15M102 976h1.15M102 977h1.15M102 978h1.15M102 979h1.15M102 980h1.15M102 981h1.15M102 982h1.15M102 983h1.15M102 984h1.15M102 985h1.15M102 986h1.15M102 987h1.15M102 988h1.15M102 989h1.15M102 990h1.15M102 991h1.15M102 992h1.15M102 993h1.15M102 994h1.15M102 995h1.15M102 996h1.15M102 997h1.15M102 998h1.15M102 999h1.15M102 1000h1.15M102 1001h1.15M102 1002h1.15M102 1003h1.15M102 1004h1.15M102 1005h1.15M102 1006h1.15M102 1007h1.15M102 1008h1.15M103 959h1.15M103 963h1.15M103 965h1.15M103 966h1.15M103 967h1.15M103 969h1.15M103 970h1.15M103 971h1.15M103 972h1.15M103 973h1.15M103 974h1.15M103 975h1.15M103 976h1.15M103 977h1.15M103 978h1.15M103 979h1.15M103 980h1.15M103 981h1.15M103 982h1.15M103 983h1.15M103 984h1.15M103 985h1.15M103 986h1.15M103 987h1.15M103 988h1.15M103 989h1.15M103 990h1.15M103 991h1.15M103 992h1.15M103 993h1.15M103 994h1.15M103 995h1.15M103 996h1.15M103 997h1.15M103 998h1.15M103 999h1.15M103 1000h1.15M103 1001h1.15M103 1002h1.15M103 1003h1.15M103 1004h1.15M103 1005h1.15M103 1006h1.15M103 1007h1.15M103 1008h1.15M104 958h1.15M104 966h1.15M104 968h1.15M104 970h1.15M104 971h1.15M104 972h1.15M104 973h1.15M104 975h1.15M104 976h1.15M104 977h1.15M104 978h1.15M104 979h1.15M104 980h1.15M104 981h1.15M104 982h1.15M104 983h1.15M104 984h1.15M104 985h1.15M104 986h1.15M104 987h1.15M104 988h1.15M104 989h1.15M104 990h1.15M104 991h1.15M104 992h1.15M104 993h1.15M104 994h1.15M104 995h1.15M104 996h1.15M104 997h1.15M104 998h1.15M104 999h1.15M104 1000h1.15M104 1001h1.15M104 1002h1.15M104 1003h1.15M104 1004h1.15M104 1005h1.15M104 1006h1.15M104 1007h1.15M104 1008h1.15M105 955h1.15M105 958h1.15M105 962h1.15M105 965h1.15M105 966h1.15M105 967h1.15M105 971h1.15M105 972h1.15M105 973h1.15M105 974h1.15M105 975h1.15M105 976h1.15M105 977h1.15M105 978h1.15M105 979h1.15M105 980h1.15M105 981h1.15M105 982h1.15M105 983h1.15M105 984h1.15M105 985h1.15M105 986h1.15M105 987h1.15M105 988h1.15M105 989h1.15M105 990h1.15M105 991h1.15M105 992h1.15M105 993h1.15M105 994h1.15M105 995h1.15M105 996h1.15M105 997h1.15M105 998h1.15M105 999h1.15M105 1000h1.15M105 1001h1.15M105 1002h1.15M105 1003h1.15M105 1004h1.15M105 1005h1.15M105 1006h1.15M105 1007h1.15M105 1008h1.15M106 966h1.15M106 969h1.15M106 971h1.15M106 972h1.15M106 973h1.15M106 974h1.15M106 975h1.15M106 976h1.15M106 977h1.15M106 978h1.15M106 979h1.15M106 980h1.15M106 981h1.15M106 982h1.15M106 983h1.15M106 984h1.15M106 985h1.15M106 986h1.15M106 987h1.15M106 988h1.15M106 989h1.15M106 990h1.15M106 991h1.15M106 992h1.15M106 993h1.15M106 994h1.15M106 995h1.15M106 996h1.15M106 997h1.15M106 998h1.15M106 999h1.15M106 1000h1.15M106 1001h1.15M106 1002h1.15M106 1003h1.15M106 1004h1.15M106 1005h1.15M106 1006h1.15M106 1007h1.15M106 1008h1.15M107 958h1.15M107 959h1.15M107 964h1.15M107 966h1.15M107 968h1.15M107 969h1.15M107 970h1.15M107 971h1.15M107 972h1.15M107 973h1.15M107 974h1.15M107 975h1.15M107 976h1.15M107 977h1.15M107 978h1.15M107 979h1.15M107 980h1.15M107 981h1.15M107 982h1.15M107 983h1.15M107 984h1.15M107 985h1.15M107 986h1.15M107 987h1.15M107 988h1.15M107 989h1.15M107 990h1.15M107 991h1.15M107 992h1.15M107 993h1.15M107 994h1.15M107 995h1.15M107 996h1.15M107 997h1.15M107 998h1.15M107 999h1.15M107 1000h1.15M107 1001h1.15M107 1002h1.15M107 1003h1.15M107 1004h1.15M107 1005h1.15M107 1006h1.15M107 1007h1.15M107 1008h1.15M108 960h1.15M108 962h1.15M108 966h1.15M108 968h1.15M108 969h1.15M108 970h1.15M108 971h1.15M108 972h1.15M108 973h1.15M108 974h1.15M108 975h1.15M108 976h1.15M108 977h1.15M108 978h1.15M108 979h1.15M108 980h1.15M108 981h1.15M108 982h1.15M108 983h1.15M108 984h1.15M108 985h1.15M108 986h1.15M108 987h1.15M108 988h1.15M108 989h1.15M108 990h1.15M108 991h1.15M108 992h1.15M108 993h1.15M108 994h1.15M108 995h1.15M108 996h1.15M108 997h1.15M108 998h1.15M108 999h1.15M108 1000h1.15M108 1001h1.15M108 1002h1.15M108 1003h1.15M108 1004h1.15M108 1005h1.15M108 1006h1.15M108 1007h1.15M108 1008h1.15M109 963h1.15M109 965h1.15M109 968h1.15M109 970h1.15M109 972h1.15M109 973h1.15M109 974h1.15M109 975h1.15M109 976h1.15M109 977h1.15M109 978h1.15M109 979h1.15M109 980h1.15M109 981h1.15M109 982h1.15M109 983h1.15M109 984h1.15M109 985h1.15M109 986h1.15M109 987h1.15M109 988h1.15M109 989h1.15M109 990h1.15M109 991h1.15M109 992h1.15M109 993h1.15M109 994h1.15M109 995h1.15M109 996h1.15M109 997h1.15M109 998h1.15M109 999h1.15M109 1000h1.15M109 1001h1.15M109 1002h1.15M109 1003h1.15M109 1004h1.15M109 1005h1.15M109 1006h1.15M109 1007h1.15M109 1008h1.15M110 964h1.15M110 965h1.15M110 968h1.15M110 969h1.15M110 970h1.15M110 972h1.15M110 974h1.15M110 975h1.15M110 976h1.15M110 977h1.15M110 978h1.15M110 979h1.15M110 980h1.15M110 981h1.15M110 982h1.15M110 983h1.15M110 984h1.15M110 985h1.15M110 986h1.15M110 987h1.15M110 988h1.15M110 989h1.15M110 990h1.15M110 991h1.15M110 992h1.15M110 993h1.15M110 994h1.15M110 995h1.15M110 996h1.15M110 997h1.15M110 998h1.15M110 999h1.15M110 1000h1.15M110 1001h1.15M110 1002h1.15M110 1003h1.15M110 1004h1.15M110 1005h1.15M110 1006h1.15M110 1007h1.15M110 1008h1.15M111 954h1.15M111 962h1.15M111 968h1.15M111 969h1.15M111 970h1.15M111 971h1.15M111 972h1.15M111 973h1.15M111 974h1.15M111 975h1.15M111 976h1.15M111 977h1.15M111 978h1.15M111 979h1.15M111 980h1.15M111 981h1.15M111 982h1.15M111 983h1.15M111 984h1.15M111 985h1.15M111 986h1.15M111 987h1.15M111 988h1.15M111 989h1.15M111 990h1.15M111 991h1.15M111 992h1.15M111 993h1.15M111 994h1.15M111 995h1.15M111 996h1.15M111 997h1.15M111 998h1.15M111 999h1.15M111 1000h1.15M111 1001h1.15M111 1002h1.15M111 1003h1.15M111 1004h1.15M111 1005h1.15M111 1006h1.15M111 1007h1.15M112 956h1.15M112 967h1.15M112 971h1.15M112 972h1.15M112 973h1.15M112 974h1.15M112 975h1.15M112 976h1.15M112 977h1.15M112 978h1.15M112 979h1.15M112 980h1.15M112 981h1.15M112 982h1.15M112 983h1.15M112 984h1.15M112 985h1.15M112 986h1.15M112 987h1.15M112 988h1.15M112 989h1.15M112 990h1.15M112 991h1.15M112 992h1.15M112 993h1.15M112 994h1.15M112 995h1.15M112 996h1.15M112 997h1.15M112 998h1.15M112 999h1.15M112 1000h1.15M112 1001h1.15M112 1002h1.15M112 1003h1.15M112 1004h1.15M112 1005h1.15M112 1006h1.15M112 1007h1.15M112 1008h1.15M113 959h1.15M113 965h1.15M113 969h1.15M113 970h1.15M113 971h1.15M113 973h1.15M113 974h1.15M113 975h1.15M113 976h1.15M113 977h1.15M113 978h1.15M113 979h1.15M113 980h1.15M113 981h1.15M113 982h1.15M113 983h1.15M113 984h1.15M113 985h1.15M113 986h1.15M113 987h1.15M113 988h1.15M113 989h1.15M113 990h1.15M113 991h1.15M113 992h1.15M113 993h1.15M113 994h1.15M113 995h1.15M113 996h1.15M113 997h1.15M113 998h1.15M113 999h1.15M113 1000h1.15M113 1002h1.15M113 1003h1.15M113 1004h1.15M113 1005h1.15M113 1006h1.15M113 1007h1.15M113 1008h1.15M114 964h1.15M114 967h1.15M114 968h1.15M114 970h1.15M114 971h1.15M114 973h1.15M114 974h1.15M114 975h1.15M114 976h1.15M114 977h1.15M114 978h1.15M114 979h1.15M114 980h1.15M114 981h1.15M114 982h1.15M114 983h1.15M114 984h1.15M114 985h1.15M114 986h1.15M114 987h1.15M114 988h1.15M114 989h1.15M114 990h1.15M114 991h1.15M114 992h1.15M114 993h1.15M114 994h1.15M114 995h1.15M114 996h1.15M114 997h1.15M114 998h1.15M114 999h1.15M114 1000h1.15M114 1001h1.15M114 1002h1.15M114 1003h1.15M114 1004h1.15M114 1005h1.15M114 1006h1.15M115 959h1.15M115 962h1.15M115 966h1.15M115 969h1.15M115 972h1.15M115 974h1.15M115 977h1.15M115 978h1.15M115 979h1.15M115 981h1.15M115 982h1.15M115 983h1.15M115 984h1.15M115 985h1.15M115 986h1.15M115 987h1.15M115 988h1.15M115 989h1.15M115 990h1.15M115 991h1.15M115 992h1.15M115 993h1.15M115 994h1.15M115 995h1.15M115 996h1.15M115 997h1.15M115 998h1.15M115 999h1.15M115 1000h1.15M115 1001h1.15M115 1002h1.15M115 1003h1.15M115 1004h1.15M115 1005h1.15M115 1006h1.15M115 1007h1.15M116 964h1.15M116 973h1.15M116 975h1.15M116 976h1.15M116 977h1.15M116 978h1.15M116 979h1.15M116 980h1.15M116 982h1.15M116 983h1.15M116 984h1.15M116 985h1.15M116 986h1.15M116 987h1.15M116 988h1.15M116 989h1.15M116 990h1.15M116 991h1.15M116 992h1.15M116 993h1.15M116 994h1.15M116 995h1.15M116 996h1.15M116 997h1.15M116 998h1.15M116 999h1.15M116 1000h1.15M116 1002h1.15M116 1003h1.15M116 1006h1.15M116 1008h1.15M117 960h1.15M117 963h1.15M117 964h1.15M117 966h1.15M117 968h1.15M117 974h1.15M117 976h1.15M117 977h1.15M117 978h1.15M117 980h1.15M117 981h1.15M117 982h1.15M117 983h1.15M117 984h1.15M117 985h1.15M117 986h1.15M117 988h1.15M117 989h1.15M117 990h1.15M117 991h1.15M117 992h1.15M117 993h1.15M117 995h1.15M117 996h1.15M117 997h1.15M117 998h1.15M117 999h1.15M117 1000h1.15M117 1001h1.15M117 1002h1.15M117 1003h1.15M117 1004h1.15M117 1005h1.15M117 1006h1.15M117 1007h1.15M117 1008h1.15M118 961h1.15M118 974h1.15M118 976h1.15M118 977h1.15M118 978h1.15M118 979h1.15M118 980h1.15M118 981h1.15M118 982h1.15M118 983h1.15M118 984h1.15M118 985h1.15M118 986h1.15M118 987h1.15M118 988h1.15M118 989h1.15M118 990h1.15M118 991h1.15M118 992h1.15M118 993h1.15M118 994h1.15M118 995h1.15M118 996h1.15M118 997h1.15M118 998h1.15M118 999h1.15M118 1000h1.15M118 1001h1.15M118 1002h1.15M118 1003h1.15M118 1004h1.15M118 1006h1.15M118 1008h1.15M119 944h1.15M119 967h1.15M119 968h1.15M119 970h1.15M119 971h1.15M119 972h1.15M119 976h1.15M119 977h1.15M119 979h1.15M119 980h1.15M119 981h1.15M119 982h1.15M119 984h1.15M119 985h1.15M119 986h1.15M119 987h1.15M119 988h1.15M119 989h1.15M119 990h1.15M119 991h1.15M119 992h1.15M119 994h1.15M119 996h1.15M119 997h1.15M119 998h1.15M119 999h1.15M119 1000h1.15M119 1001h1.15M119 1002h1.15M119 1003h1.15M119 1004h1.15M119 1006h1.15M119 1007h1.15M119 1008h1.15M120 962h1.15M120 968h1.15M120 969h1.15M120 970h1.15M120 971h1.15M120 974h1.15M120 975h1.15M120 977h1.15M120 980h1.15M120 982h1.15M120 983h1.15M120 985h1.15M120 986h1.15M120 987h1.15M120 988h1.15M120 989h1.15M120 990h1.15M120 991h1.15M120 992h1.15M120 993h1.15M120 994h1.15M120 995h1.15M120 996h1.15M120 997h1.15M120 998h1.15M120 999h1.15M120 1001h1.15M120 1004h1.15M120 1005h1.15M120 1006h1.15M120 1007h1.15M121 960h1.15M121 965h1.15M121 970h1.15M121 971h1.15M121 978h1.15M121 979h1.15M121 981h1.15M121 982h1.15M121 983h1.15M121 984h1.15M121 985h1.15M121 987h1.15M121 989h1.15M121 990h1.15M121 991h1.15M121 992h1.15M121 993h1.15M121 994h1.15M121 995h1.15M121 997h1.15M121 998h1.15M121 999h1.15M121 1000h1.15M121 1001h1.15M121 1002h1.15M121 1004h1.15M121 1005h1.15M121 1006h1.15M121 1008h1.15M122 950h1.15M122 971h1.15M122 974h1.15M122 975h1.15M122 976h1.15M122 978h1.15M122 979h1.15M122 980h1.15M122 983h1.15M122 984h1.15M122 985h1.15M122 987h1.15M122 988h1.15M122 989h1.15M122 992h1.15M122 994h1.15M122 995h1.15M122 996h1.15M122 997h1.15M122 998h1.15M122 999h1.15M122 1000h1.15M122 1002h1.15M122 1004h1.15M122 1005h1.15M122 1007h1.15M122 1008h1.15M123 956h1.15M123 962h1.15M123 973h1.15M123 976h1.15M123 979h1.15M123 982h1.15M123 984h1.15M123 987h1.15M123 988h1.15M123 989h1.15M123 990h1.15M123 991h1.15M123 992h1.15M123 993h1.15M123 994h1.15M123 995h1.15M123 996h1.15M123 998h1.15M123 999h1.15M123 1001h1.15M123 1003h1.15M123 1005h1.15M123 1006h1.15M124 960h1.15M124 962h1.15M124 967h1.15M124 970h1.15M124 971h1.15M124 972h1.15M124 973h1.15M124 975h1.15M124 977h1.15M124 978h1.15M124 979h1.15M124 980h1.15M124 981h1.15M124 982h1.15M124 983h1.15M124 984h1.15M124 985h1.15M124 986h1.15M124 987h1.15M124 988h1.15M124 989h1.15M124 990h1.15M124 991h1.15M124 992h1.15M124 993h1.15M124 994h1.15M124 996h1.15M124 998h1.15M124 999h1.15M124 1000h1.15M124 1001h1.15M124 1004h1.15M124 1005h1.15M125 962h1.15M125 971h1.15M125 975h1.15M125 978h1.15M125 981h1.15M125 982h1.15M125 984h1.15M125 985h1.15M125 986h1.15M125 987h1.15M125 988h1.15M125 990h1.15M125 991h1.15M125 993h1.15M125 994h1.15M125 995h1.15M125 996h1.15M125 998h1.15M125 1000h1.15M125 1001h1.15M125 1002h1.15M125 1003h1.15M125 1006h1.15M125 1007h1.15M126 960h1.15M126 961h1.15M126 966h1.15M126 970h1.15M126 972h1.15M126 974h1.15M126 979h1.15M126 980h1.15M126 981h1.15M126 982h1.15M126 984h1.15M126 986h1.15M126 988h1.15M126 991h1.15M126 994h1.15M126 996h1.15M126 998h1.15M126 1002h1.15M126 1005h1.15M126 1007h1.15M127 950h1.15M127 955h1.15M127 965h1.15M127 966h1.15M127 972h1.15M127 976h1.15M127 978h1.15M127 981h1.15M127 984h1.15M127 986h1.15M127 987h1.15M127 989h1.15M127 992h1.15M127 993h1.15M127 997h1.15M127 1002h1.15M127 1005h1.15M128 943h1.15M128 961h1.15M128 966h1.15M128 967h1.15M128 969h1.15M128 972h1.15M128 974h1.15M128 979h1.15M128 983h1.15M128 987h1.15M128 990h1.15M128 992h1.15M128 999h1.15M128 1002h1.15M128 1005h1.15M128 1007h1.15M129 979h1.15M129 984h1.15M129 990h1.15M129 991h1.15M129 996h1.15M129 997h1.15M129 999h1.15M129 1007h1.15M130 959h1.15M130 962h1.15M130 963h1.15M130 984h1.15M130 986h1.15M130 987h1.15M130 990h1.15M130 992h1.15M130 999h1.15M130 1002h1.15M130 1004h1.15M130 1005h1.15M131 957h1.15M131 967h1.15M131 969h1.15M131 983h1.15M131 987h1.15M131 990h1.15M131 991h1.15M131 996h1.15M131 1004h1.15M131 1006h1.15M132 968h1.15M132 969h1.15M132 976h1.15M132 982h1.15M132 985h1.15M132 989h1.15M132 995h1.15M133 954h1.15M133 981h1.15M133 990h1.15M134 959h1.15M134 960h1.15M134 963h1.15M134 974h1.15M134 989h1.15M134 1000h1.15M135 969h1.15M135 983h1.15M135 990h1.15M135 997h1.15M135 1008h1.15M136 956h1.15M136 957h1.15M136 967h1.15M136 974h1.15M136 998h1.15M136 1005h1.15M137 962h1.15M137 969h1.15M137 993h1.15M137 998h1.15M137 1002h1.15M138 950h1.15M138 969h1.15M138 977h1.15M138 989h1.15M138 1002h1.15M138 1003h1.15M139 952h1.15M139 958h1.15M139 972h1.15M139 978h1.15M139 982h1.15M139 996h1.15M139 1005h1.15M139 1006h1.15M139 1007h1.15M140 950h1.15M140 970h1.15M141 934h1.15M141 947h1.15M141 958h1.15M141 963h1.15M141 985h1.15M141 990h1.15M142 959h1.15M142 965h1.15M142 996h1.15M143 958h1.15M144 968h1.15M144 987h1.15M145 911h1.15M145 938h1.15M145 958h1.15M146 904h1.15M146 931h1.15M146 933h1.15M146 976h1.15M146 999h1.15M147 944h1.15M149 895h1.15M149 911h1.15M149 959h1.15M150 936h1.15M150 954h1.15M150 981h1.15M151 912h1.15M151 937h1.15M151 941h1.15M151 945h1.15M151 978h1.15M152 950h1.15M152 954h1.15M152 965h1.15M153 936h1.15M154 925h1.15M154 933h1.15M154 937h1.15M154 942h1.15M154 947h1.15M154 950h1.15M154 961h1.15M154 983h1.15M154 996h1.15M155 929h1.15M155 942h1.15M155 949h1.15M155 959h1.15M156 920h1.15M156 929h1.15M156 932h1.15M156 953h1.15M156 1000h1.15M157 981h1.15M158 941h1.15M158 991h1.15M159 956h1.15M159 957h1.15M160 927h1.15M160 928h1.15M160 936h1.15M160 937h1.15M161 930h1.15M161 943h1.15M161 949h1.15M161 964h1.15M162 962h1.15M162 965h1.15M162 973h1.15M164 910h1.15M164 926h1.15M164 929h1.15M164 942h1.15M164 949h1.15M164 951h1.15M164 952h1.15M164 956h1.15M165 956h1.15M165 958h1.15M166 922h1.15M166 938h1.15M166 945h1.15M166 970h1.15M166 1002h1.15M167 900h1.15M167 905h1.15M167 914h1.15M167 929h1.15M168 939h1.15M168 954h1.15M169 967h1.15M169 976h1.15M169 990h1.15M170 924h1.15M170 926h1.15M170 936h1.15M171 890h1.15M171 920h1.15M171 926h1.15M171 931h1.15M171 941h1.15M171 943h1.15M172 903h1.15M172 929h1.15M172 935h1.15M172 974h1.15M172 981h1.15M172 983h1.15M173 896h1.15M173 899h1.15M173 915h1.15M174 916h1.15M174 933h1.15M174 946h1.15M174 947h1.15M175 905h1.15M175 933h1.15M175 960h1.15M175 977h1.15M175 983h1.15M175 985h1.15M176 928h1.15M176 929h1.15M176 931h1.15M176 970h1.15M176 997h1.15M177 941h1.15M177 965h1.15M178 920h1.15M178 932h1.15M178 937h1.15M178 955h1.15M178 968h1.15M179 911h1.15M179 915h1.15M179 920h1.15M179 1001h1.15M180 871h1.15M180 949h1.15M180 963h1.15M180 984h1.15M181 902h1.15M181 934h1.15M181 961h1.15M181 972h1.15M182 889h1.15M182 908h1.15M182 942h1.15M182 967h1.15M183 900h1.15M183 924h1.15M185 893h1.15M185 901h1.15M185 902h1.15M186 903h1.15M186 951h1.15M186 954h1.15M186 969h1.15M188 908h1.15M188 940h1.15M188 973h1.15M189 916h1.15M189 984h1.15M190 899h1.15M190 911h1.15M190 940h1.15M191 892h1.15M191 922h1.15M191 923h1.15M191 972h1.15M192 913h1.15M192 963h1.15M193 888h1.15M193 913h1.15M194 869h1.15M194 900h1.15M194 906h1.15M194 907h1.15M194 931h1.15M194 957h1.15M194 975h1.15M195 851h1.15M195 871h1.15M195 888h1.15M195 892h1.15M195 898h1.15M195 931h1.15M195 961h1.15M196 884h1.15M196 895h1.15M196 917h1.15M196 981h1.15M196 992h1.15M197 879h1.15M197 894h1.15M197 897h1.15M197 901h1.15M197 930h1.15M197 990h1.15M197 993h1.15M198 930h1.15M198 937h1.15M198 957h1.15M198 980h1.15M199 877h1.15M199 906h1.15M199 909h1.15M199 920h1.15M199 921h1.15M200 945h1.15M200 955h1.15M200 961h1.15M201 899h1.15M201 901h1.15M201 984h1.15M202 895h1.15M202 897h1.15M202 898h1.15M202 907h1.15M202 945h1.15M202 985h1.15M203 876h1.15M203 909h1.15M203 954h1.15M203 992h1.15M204 888h1.15M204 890h1.15M204 891h1.15M204 895h1.15M204 932h1.15M204 975h1.15M204 986h1.15M205 883h1.15M205 884h1.15M205 900h1.15M205 954h1.15M206 883h1.15M206 884h1.15M206 895h1.15M206 914h1.15M206 955h1.15M207 883h1.15M207 893h1.15M207 905h1.15M207 961h1.15M207 983h1.15M208 879h1.15M208 908h1.15M208 943h1.15M208 956h1.15M208 995h1.15M209 876h1.15M209 881h1.15M209 886h1.15M209 891h1.15M209 895h1.15M209 902h1.15M209 909h1.15M209 921h1.15M210 875h1.15M210 876h1.15M210 885h1.15M210 886h1.15M210 892h1.15M210 893h1.15M210 900h1.15M211 875h1.15M211 882h1.15M211 901h1.15M211 913h1.15M211 926h1.15M211 966h1.15M211 982h1.15M212 874h1.15M212 881h1.15M212 890h1.15M212 892h1.15M212 944h1.15M212 962h1.15M213 872h1.15M213 873h1.15M213 874h1.15M213 886h1.15M213 889h1.15M213 897h1.15M213 899h1.15M213 906h1.15M213 909h1.15M213 921h1.15M213 946h1.15M213 978h1.15M213 980h1.15M214 871h1.15M214 874h1.15M214 876h1.15M214 881h1.15M214 882h1.15M214 955h1.15M214 978h1.15M214 999h1.15M215 861h1.15M215 874h1.15M215 875h1.15M215 880h1.15M215 881h1.15M215 882h1.15M215 888h1.15M215 889h1.15M215 891h1.15M215 895h1.15M215 903h1.15M216 866h1.15M216 878h1.15M216 880h1.15M216 883h1.15M216 884h1.15M216 886h1.15M216 899h1.15M216 914h1.15M216 969h1.15M217 868h1.15M217 870h1.15M217 875h1.15M217 879h1.15M217 883h1.15M217 891h1.15M217 895h1.15M217 896h1.15M217 901h1.15M217 938h1.15M217 957h1.15M218 860h1.15M218 876h1.15M218 877h1.15M218 878h1.15M218 881h1.15M218 904h1.15M218 957h1.15M219 865h1.15M219 871h1.15M219 875h1.15M219 876h1.15M219 884h1.15M219 885h1.15M219 887h1.15M219 905h1.15M219 963h1.15M220 857h1.15M220 865h1.15M220 871h1.15M220 876h1.15M220 884h1.15M220 892h1.15M220 896h1.15M220 902h1.15M220 907h1.15M221 876h1.15M221 877h1.15M221 879h1.15M221 882h1.15M221 884h1.15M221 886h1.15M221 888h1.15M221 889h1.15M221 891h1.15M221 893h1.15M221 897h1.15M221 898h1.15M221 981h1.15M222 865h1.15M222 866h1.15M222 868h1.15M222 876h1.15M222 877h1.15M222 882h1.15M222 883h1.15M222 884h1.15M222 885h1.15M222 886h1.15M222 887h1.15M222 888h1.15M222 889h1.15M222 890h1.15M222 891h1.15M222 893h1.15M222 894h1.15M222 902h1.15M222 997h1.15M223 864h1.15M223 873h1.15M223 888h1.15M223 889h1.15M223 902h1.15M223 908h1.15M223 952h1.15M223 984h1.15M224 868h1.15M224 870h1.15M224 872h1.15M224 880h1.15M224 883h1.15M224 884h1.15M224 898h1.15M224 943h1.15M225 871h1.15M225 876h1.15M225 877h1.15M225 880h1.15M225 887h1.15M225 890h1.15M225 900h1.15M225 991h1.15M225 997h1.15M226 875h1.15M226 880h1.15M226 883h1.15M226 885h1.15M226 893h1.15M226 894h1.15M226 905h1.15M227 870h1.15M227 876h1.15M227 877h1.15M227 878h1.15M227 879h1.15M227 884h1.15M227 885h1.15M227 887h1.15M227 891h1.15M227 892h1.15M227 895h1.15M227 904h1.15M228 884h1.15M228 885h1.15M228 890h1.15M228 893h1.15M228 894h1.15M228 954h1.15M229 875h1.15M229 883h1.15M229 885h1.15M229 886h1.15M229 889h1.15M229 893h1.15M229 894h1.15M229 983h1.15M230 887h1.15M230 892h1.15M230 893h1.15M230 894h1.15M230 897h1.15M230 898h1.15M230 979h1.15M231 881h1.15M231 885h1.15M231 893h1.15M231 896h1.15M231 897h1.15M231 993h1.15M232 866h1.15M232 876h1.15M232 884h1.15M232 887h1.15M232 947h1.15M232 991h1.15" stroke="#dd0808" stroke-width="1.15" fill="none" transform="translate(-0.1,0.5)"/>
<path d="M51 1007h1.4M52 1007h1.4M54 1008h1.4M55 1006h1.4M56 1007h1.4M61 1007h1.4M65 1008h1.4M66 1007h1.4M71 1007h1.4M73 1007h1.4M76 1008h1.4M79 1007h1.4M81 1007h1.4M82 1007h1.4M83 1008h1.4M85 1007h1.4M86 1007h1.4M87 1008h1.4M95 1007h1.4M96 1006h1.4M97 1006h1.4M97 1008h1.4M98 1007h1.4M101 1007h1.4M103 1007h1.4M105 1006h1.4M107 1008h1.4M108 1007h1.4M110 1007h1.4M112 1007h1.4M113 1008h1.4M114 1007h1.4M118 1007h1.4M120 1006h1.4M122 1007h1.4M127 1007h1.4M131 1007h1.4M132 1007h1.4M133 1007h1.4M135 1007h1.4M143 1007h1.4M145 1007h1.4M147 1007h1.4M148 1007h1.4M149 1007h1.4M150 1007h1.4M150 1008h1.4M151 1007h1.4M154 1007h1.4M157 1007h1.4M158 1007h1.4M159 1007h1.4M159 1008h1.4M161 1008h1.4M163 1008h1.4M165 1007h1.4M167 1007h1.4M168 1008h1.4M170 1007h1.4M172 1006h1.4M175 1007h1.4M176 1007h1.4M180 1007h1.4M184 1008h1.4M188 1007h1.4M189 1007h1.4M192 1007h1.4M200 1007h1.4M203 1007h1.4M205 1008h1.4M208 1008h1.4M210 1007h1.4M223 1007h1.4M224 1008h1.4M226 1007h1.4M226 1008h1.4" stroke="#a80000" stroke-width="1.6" fill="none" transform="translate(-0.2,0.5)"/>
</g>
<line x1="232.2" y1="868.0" x2="232.2" y2="896.0" stroke="#b00000" stroke-width="1.5"/>
<rect x="48.3" y="825.8" width="185.1" height="183.5" fill="none" stroke="#1e1e1e" stroke-width="1.3"/>
<line x1="118.9" y1="825.8" x2="118.9" y2="1009.3" stroke="#111" stroke-width="1.3"/>
<line x1="48.3" y1="935.0" x2="233.4" y2="935.0" stroke="#111" stroke-width="1.3"/>
<path d="M48.3 1009.3h-4M48.3 1009.3v4M48.3 995.5h-2.4M62.2 1009.3v2.4M48.3 987.4h-2.4M70.4 1009.3v2.4M48.3 981.7h-2.4M76.2 1009.3v2.4M48.3 977.2h-2.4M80.6 1009.3v2.4M48.3 973.6h-2.4M84.3 1009.3v2.4M48.3 970.5h-2.4M87.4 1009.3v2.4M48.3 967.9h-2.4M90.1 1009.3v2.4M48.3 965.5h-2.4M92.5 1009.3v2.4M48.3 963.4h-4M94.6 1009.3v4M48.3 949.6h-2.4M108.5 1009.3v2.4M48.3 941.5h-2.4M116.7 1009.3v2.4M48.3 935.8h-2.4M122.4 1009.3v2.4M48.3 931.4h-2.4M126.9 1009.3v2.4M48.3 927.7h-2.4M130.6 1009.3v2.4M48.3 924.7h-2.4M133.7 1009.3v2.4M48.3 922.0h-2.4M136.4 1009.3v2.4M48.3 919.6h-2.4M138.7 1009.3v2.4M48.3 917.5h-4M140.9 1009.3v4M48.3 903.7h-2.4M154.8 1009.3v2.4M48.3 895.7h-2.4M162.9 1009.3v2.4M48.3 889.9h-2.4M168.7 1009.3v2.4M48.3 885.5h-2.4M173.2 1009.3v2.4M48.3 881.9h-2.4M176.9 1009.3v2.4M48.3 878.8h-2.4M180.0 1009.3v2.4M48.3 876.1h-2.4M182.6 1009.3v2.4M48.3 873.8h-2.4M185.0 1009.3v2.4M48.3 871.7h-4M187.1 1009.3v4M48.3 857.9h-2.4M201.1 1009.3v2.4M48.3 849.8h-2.4M209.2 1009.3v2.4M48.3 844.1h-2.4M215.0 1009.3v2.4M48.3 839.6h-2.4M219.5 1009.3v2.4M48.3 836.0h-2.4M223.1 1009.3v2.4M48.3 832.9h-2.4M226.2 1009.3v2.4M48.3 830.2h-2.4M228.9 1009.3v2.4M48.3 827.9h-2.4M231.3 1009.3v2.4M48.3 825.8h-4M233.4 1009.3v4" stroke="#222" stroke-width="1" fill="none"/>
<text transform="translate(42.3,1016.2) rotate(-90)" font-size="8.6" textLength="7.6" lengthAdjust="spacingAndGlyphs" fill="#222">10</text>
<text transform="translate(38.7,1007.4) rotate(-90)" font-size="7.6" fill="#222">0</text>
<text x="40.7" y="1024.7" font-size="9.2" textLength="8.8" lengthAdjust="spacingAndGlyphs" fill="#222">10</text>
<text x="50.3" y="1020.2" font-size="7.6" fill="#222">0</text>
<text transform="translate(42.3,970.3) rotate(-90)" font-size="8.6" textLength="7.6" lengthAdjust="spacingAndGlyphs" fill="#222">10</text>
<text transform="translate(38.7,961.5) rotate(-90)" font-size="7.6" fill="#222">1</text>
<text x="87.0" y="1024.7" font-size="9.2" textLength="8.8" lengthAdjust="spacingAndGlyphs" fill="#222">10</text>
<text x="96.6" y="1020.2" font-size="7.6" fill="#222">1</text>
<text transform="translate(42.3,924.4) rotate(-90)" font-size="8.6" textLength="7.6" lengthAdjust="spacingAndGlyphs" fill="#222">10</text>
<text transform="translate(38.7,915.6) rotate(-90)" font-size="7.6" fill="#222">2</text>
<text x="133.3" y="1024.7" font-size="9.2" textLength="8.8" lengthAdjust="spacingAndGlyphs" fill="#222">10</text>
<text x="142.9" y="1020.2" font-size="7.6" fill="#222">2</text>
<text transform="translate(42.3,878.6) rotate(-90)" font-size="8.6" textLength="7.6" lengthAdjust="spacingAndGlyphs" fill="#222">10</text>
<text transform="translate(38.7,869.8) rotate(-90)" font-size="7.6" fill="#222">3</text>
<text x="179.5" y="1024.7" font-size="9.2" textLength="8.8" lengthAdjust="spacingAndGlyphs" fill="#222">10</text>
<text x="189.1" y="1020.2" font-size="7.6" fill="#222">3</text>
<text transform="translate(42.3,832.7) rotate(-90)" font-size="8.6" textLength="7.6" lengthAdjust="spacingAndGlyphs" fill="#222">10</text>
<text transform="translate(38.7,823.9) rotate(-90)" font-size="7.6" fill="#222">4</text>
<text x="225.8" y="1024.7" font-size="9.2" textLength="8.8" lengthAdjust="spacingAndGlyphs" fill="#222">10</text>
<text x="235.4" y="1020.2" font-size="7.6" fill="#222">4</text>
<text x="109.5" y="1032.6" textLength="60.1" lengthAdjust="spacingAndGlyphs" font-size="8.6" fill="#222">Annexin V FITC</text>
<text transform="translate(31.3,950.0) rotate(-90)" x="0" y="0" textLength="63.0" lengthAdjust="spacingAndGlyphs" font-size="8.2" fill="#222">Propidium Iodide</text>
<line x1="55.4" y1="851.6" x2="112.5" y2="851.6" stroke="#222" stroke-width="1.0"/>
<line x1="84.3" y1="839.3" x2="84.3" y2="864.1" stroke="#222" stroke-width="1.0"/>
<text x="60.6" y="849.0" textLength="20.2" lengthAdjust="spacingAndGlyphs" font-size="10" fill="#222">0.00</text>
<text x="87.3" y="849.0" textLength="20.3" lengthAdjust="spacingAndGlyphs" font-size="10" fill="#222">4.25</text>
<text x="55.3" y="862.4" textLength="26.2" lengthAdjust="spacingAndGlyphs" font-size="10" fill="#222">82.31</text>
<text x="87.3" y="862.4" textLength="26.4" lengthAdjust="spacingAndGlyphs" font-size="10" fill="#222">13.44</text>
<clipPath id="c6"><rect x="268.6" y="826.6" width="184.6" height="181.0"/></clipPath>
<g clip-path="url(#c6)">
<path d="M293 1006h1.15M295 995h1.15M298 987h1.15M298 995h1.15M298 1002h1.15M301 1002h1.15M302 994h1.15M303 970h1.15M303 981h1.15M303 991h1.15M303 1000h1.15M304 977h1.15M304 985h1.15M304 993h1.15M304 996h1.15M304 1003h1.15M305 984h1.15M305 989h1.15M305 991h1.15M305 992h1.15M305 996h1.15M305 998h1.15M306 995h1.15M306 998h1.15M306 1000h1.15M306 1003h1.15M306 1004h1.15M306 1006h1.15M307 974h1.15M307 976h1.15M307 990h1.15M307 994h1.15M307 1004h1.15M308 975h1.15M308 982h1.15M308 983h1.15M308 984h1.15M308 988h1.15M308 989h1.15M308 992h1.15M308 995h1.15M308 996h1.15M308 998h1.15M309 973h1.15M309 985h1.15M309 986h1.15M309 987h1.15M309 991h1.15M309 993h1.15M309 994h1.15M309 995h1.15M309 996h1.15M309 997h1.15M309 999h1.15M309 1000h1.15M309 1003h1.15M309 1004h1.15M310 979h1.15M310 981h1.15M310 988h1.15M310 990h1.15M310 991h1.15M310 992h1.15M310 993h1.15M310 994h1.15M310 995h1.15M310 998h1.15M310 1003h1.15M310 1004h1.15M310 1005h1.15M310 1006h1.15M311 975h1.15M311 976h1.15M311 981h1.15M311 983h1.15M311 984h1.15M311 985h1.15M311 987h1.15M311 990h1.15M311 991h1.15M311 993h1.15M311 994h1.15M311 995h1.15M311 996h1.15M311 997h1.15M311 1000h1.15M311 1002h1.15M311 1004h1.15M312 973h1.15M312 975h1.15M312 979h1.15M312 982h1.15M312 983h1.15M312 986h1.15M312 988h1.15M312 991h1.15M312 992h1.15M312 994h1.15M312 995h1.15M312 997h1.15M312 998h1.15M312 1001h1.15M312 1002h1.15M312 1003h1.15M312 1006h1.15M313 972h1.15M313 975h1.15M313 976h1.15M313 980h1.15M313 982h1.15M313 983h1.15M313 984h1.15M313 985h1.15M313 986h1.15M313 988h1.15M313 989h1.15M313 990h1.15M313 991h1.15M313 993h1.15M313 995h1.15M313 997h1.15M313 998h1.15M313 999h1.15M313 1000h1.15M313 1003h1.15M313 1005h1.15M313 1006h1.15M314 972h1.15M314 973h1.15M314 975h1.15M314 977h1.15M314 979h1.15M314 982h1.15M314 983h1.15M314 984h1.15M314 985h1.15M314 988h1.15M314 989h1.15M314 990h1.15M314 991h1.15M314 992h1.15M314 993h1.15M314 995h1.15M314 996h1.15M314 997h1.15M314 999h1.15M314 1000h1.15M314 1001h1.15M314 1002h1.15M315 960h1.15M315 972h1.15M315 974h1.15M315 977h1.15M315 980h1.15M315 984h1.15M315 985h1.15M315 986h1.15M315 987h1.15M315 988h1.15M315 989h1.15M315 990h1.15M315 991h1.15M315 992h1.15M315 993h1.15M315 994h1.15M315 995h1.15M315 997h1.15M315 998h1.15M315 1000h1.15M315 1001h1.15M315 1002h1.15M315 1003h1.15M315 1005h1.15M315 1006h1.15M316 973h1.15M316 975h1.15M316 977h1.15M316 978h1.15M316 979h1.15M316 984h1.15M316 985h1.15M316 986h1.15M316 987h1.15M316 988h1.15M316 989h1.15M316 990h1.15M316 991h1.15M316 992h1.15M316 993h1.15M316 994h1.15M316 995h1.15M316 996h1.15M316 999h1.15M316 1000h1.15M316 1003h1.15M316 1004h1.15M316 1005h1.15M316 1006h1.15M317 972h1.15M317 973h1.15M317 976h1.15M317 978h1.15M317 979h1.15M317 981h1.15M317 982h1.15M317 983h1.15M317 985h1.15M317 986h1.15M317 987h1.15M317 988h1.15M317 989h1.15M317 990h1.15M317 991h1.15M317 992h1.15M317 993h1.15M317 994h1.15M317 995h1.15M317 996h1.15M317 997h1.15M317 998h1.15M317 999h1.15M317 1000h1.15M317 1001h1.15M317 1002h1.15M317 1003h1.15M317 1004h1.15M317 1005h1.15M317 1006h1.15M317 1007h1.15M318 972h1.15M318 973h1.15M318 976h1.15M318 977h1.15M318 979h1.15M318 980h1.15M318 982h1.15M318 983h1.15M318 984h1.15M318 985h1.15M318 986h1.15M318 987h1.15M318 988h1.15M318 989h1.15M318 990h1.15M318 991h1.15M318 992h1.15M318 993h1.15M318 994h1.15M318 995h1.15M318 996h1.15M318 997h1.15M318 998h1.15M318 999h1.15M318 1000h1.15M318 1001h1.15M318 1002h1.15M318 1003h1.15M318 1004h1.15M318 1006h1.15M318 1007h1.15M319 965h1.15M319 975h1.15M319 976h1.15M319 977h1.15M319 978h1.15M319 979h1.15M319 981h1.15M319 982h1.15M319 984h1.15M319 985h1.15M319 986h1.15M319 987h1.15M319 988h1.15M319 989h1.15M319 990h1.15M319 991h1.15M319 992h1.15M319 994h1.15M319 995h1.15M319 996h1.15M319 997h1.15M319 998h1.15M319 1000h1.15M319 1001h1.15M319 1002h1.15M319 1004h1.15M319 1005h1.15M319 1006h1.15M320 969h1.15M320 971h1.15M320 972h1.15M320 973h1.15M320 974h1.15M320 977h1.15M320 978h1.15M320 980h1.15M320 981h1.15M320 982h1.15M320 983h1.15M320 984h1.15M320 985h1.15M320 986h1.15M320 987h1.15M320 988h1.15M320 989h1.15M320 990h1.15M320 991h1.15M320 992h1.15M320 993h1.15M320 994h1.15M320 995h1.15M320 996h1.15M320 997h1.15M320 998h1.15M320 999h1.15M320 1000h1.15M320 1001h1.15M320 1002h1.15M320 1003h1.15M320 1004h1.15M320 1005h1.15M320 1006h1.15M320 1007h1.15M321 970h1.15M321 972h1.15M321 973h1.15M321 974h1.15M321 976h1.15M321 977h1.15M321 978h1.15M321 979h1.15M321 980h1.15M321 981h1.15M321 982h1.15M321 983h1.15M321 984h1.15M321 985h1.15M321 986h1.15M321 987h1.15M321 988h1.15M321 989h1.15M321 990h1.15M321 991h1.15M321 992h1.15M321 993h1.15M321 994h1.15M321 995h1.15M321 996h1.15M321 997h1.15M321 998h1.15M321 999h1.15M321 1000h1.15M321 1001h1.15M321 1002h1.15M321 1003h1.15M321 1005h1.15M321 1006h1.15M321 1007h1.15M322 967h1.15M322 971h1.15M322 972h1.15M322 973h1.15M322 975h1.15M322 976h1.15M322 977h1.15M322 978h1.15M322 980h1.15M322 981h1.15M322 982h1.15M322 983h1.15M322 984h1.15M322 985h1.15M322 986h1.15M322 987h1.15M322 988h1.15M322 989h1.15M322 990h1.15M322 991h1.15M322 992h1.15M322 993h1.15M322 994h1.15M322 995h1.15M322 996h1.15M322 997h1.15M322 998h1.15M322 999h1.15M322 1000h1.15M322 1001h1.15M322 1002h1.15M322 1003h1.15M322 1004h1.15M322 1005h1.15M322 1006h1.15M322 1007h1.15M323 955h1.15M323 965h1.15M323 968h1.15M323 971h1.15M323 972h1.15M323 973h1.15M323 974h1.15M323 975h1.15M323 977h1.15M323 978h1.15M323 979h1.15M323 980h1.15M323 981h1.15M323 982h1.15M323 983h1.15M323 984h1.15M323 985h1.15M323 986h1.15M323 987h1.15M323 988h1.15M323 989h1.15M323 990h1.15M323 991h1.15M323 992h1.15M323 993h1.15M323 994h1.15M323 995h1.15M323 996h1.15M323 997h1.15M323 998h1.15M323 999h1.15M323 1000h1.15M323 1001h1.15M323 1002h1.15M323 1003h1.15M323 1004h1.15M323 1005h1.15M323 1006h1.15M324 960h1.15M324 963h1.15M324 965h1.15M324 969h1.15M324 973h1.15M324 974h1.15M324 976h1.15M324 977h1.15M324 978h1.15M324 979h1.15M324 980h1.15M324 981h1.15M324 982h1.15M324 983h1.15M324 984h1.15M324 985h1.15M324 986h1.15M324 987h1.15M324 988h1.15M324 989h1.15M324 990h1.15M324 991h1.15M324 992h1.15M324 993h1.15M324 994h1.15M324 995h1.15M324 996h1.15M324 997h1.15M324 998h1.15M324 999h1.15M324 1000h1.15M324 1001h1.15M324 1002h1.15M324 1003h1.15M324 1004h1.15M324 1006h1.15M324 1007h1.15M325 966h1.15M325 967h1.15M325 969h1.15M325 971h1.15M325 972h1.15M325 973h1.15M325 974h1.15M325 975h1.15M325 976h1.15M325 977h1.15M325 978h1.15M325 979h1.15M325 980h1.15M325 981h1.15M325 982h1.15M325 983h1.15M325 984h1.15M325 985h1.15M325 986h1.15M325 987h1.15M325 988h1.15M325 989h1.15M325 990h1.15M325 991h1.15M325 992h1.15M325 993h1.15M325 995h1.15M325 996h1.15M325 997h1.15M325 998h1.15M325 999h1.15M325 1000h1.15M325 1001h1.15M325 1002h1.15M325 1003h1.15M325 1004h1.15M325 1005h1.15M325 1006h1.15M325 1007h1.15M326 964h1.15M326 971h1.15M326 972h1.15M326 973h1.15M326 975h1.15M326 976h1.15M326 977h1.15M326 978h1.15M326 979h1.15M326 980h1.15M326 981h1.15M326 982h1.15M326 983h1.15M326 984h1.15M326 985h1.15M326 986h1.15M326 987h1.15M326 988h1.15M326 989h1.15M326 990h1.15M326 991h1.15M326 992h1.15M326 993h1.15M326 994h1.15M326 995h1.15M326 996h1.15M326 997h1.15M326 998h1.15M326 999h1.15M326 1000h1.15M326 1001h1.15M326 1002h1.15M326 1003h1.15M326 1004h1.15M326 1005h1.15M326 1006h1.15M326 1007h1.15M327 958h1.15M327 965h1.15M327 966h1.15M327 968h1.15M327 969h1.15M327 970h1.15M327 971h1.15M327 972h1.15M327 974h1.15M327 975h1.15M327 976h1.15M327 977h1.15M327 978h1.15M327 979h1.15M327 980h1.15M327 981h1.15M327 982h1.15M327 983h1.15M327 984h1.15M327 985h1.15M327 986h1.15M327 987h1.15M327 988h1.15M327 989h1.15M327 990h1.15M327 991h1.15M327 992h1.15M327 993h1.15M327 994h1.15M327 995h1.15M327 996h1.15M327 997h1.15M327 998h1.15M327 999h1.15M327 1000h1.15M327 1001h1.15M327 1002h1.15M327 1003h1.15M327 1004h1.15M327 1005h1.15M327 1006h1.15M327 1007h1.15M328 968h1.15M328 969h1.15M328 970h1.15M328 972h1.15M328 973h1.15M328 974h1.15M328 975h1.15M328 976h1.15M328 977h1.15M328 978h1.15M328 979h1.15M328 980h1.15M328 981h1.15M328 982h1.15M328 983h1.15M328 984h1.15M328 985h1.15M328 986h1.15M328 987h1.15M328 988h1.15M328 989h1.15M328 990h1.15M328 991h1.15M328 992h1.15M328 993h1.15M328 994h1.15M328 995h1.15M328 996h1.15M328 997h1.15M328 998h1.15M328 999h1.15M328 1000h1.15M328 1001h1.15M328 1002h1.15M328 1003h1.15M328 1004h1.15M328 1005h1.15M328 1006h1.15M329 964h1.15M329 965h1.15M329 967h1.15M329 969h1.15M329 973h1.15M329 974h1.15M329 975h1.15M329 976h1.15M329 977h1.15M329 978h1.15M329 979h1.15M329 980h1.15M329 981h1.15M329 982h1.15M329 983h1.15M329 984h1.15M329 985h1.15M329 986h1.15M329 987h1.15M329 988h1.15M329 989h1.15M329 990h1.15M329 991h1.15M329 992h1.15M329 993h1.15M329 994h1.15M329 995h1.15M329 996h1.15M329 997h1.15M329 998h1.15M329 999h1.15M329 1000h1.15M329 1001h1.15M329 1002h1.15M329 1003h1.15M329 1004h1.15M329 1005h1.15M329 1006h1.15M329 1007h1.15M330 965h1.15M330 968h1.15M330 969h1.15M330 973h1.15M330 975h1.15M330 976h1.15M330 977h1.15M330 978h1.15M330 979h1.15M330 980h1.15M330 981h1.15M330 982h1.15M330 983h1.15M330 984h1.15M330 985h1.15M330 986h1.15M330 987h1.15M330 988h1.15M330 989h1.15M330 990h1.15M330 991h1.15M330 992h1.15M330 993h1.15M330 994h1.15M330 995h1.15M330 996h1.15M330 997h1.15M330 998h1.15M330 999h1.15M330 1000h1.15M330 1001h1.15M330 1002h1.15M330 1003h1.15M330 1004h1.15M330 1005h1.15M330 1006h1.15M330 1007h1.15M331 965h1.15M331 966h1.15M331 969h1.15M331 971h1.15M331 972h1.15M331 973h1.15M331 974h1.15M331 975h1.15M331 977h1.15M331 978h1.15M331 979h1.15M331 980h1.15M331 981h1.15M331 982h1.15M331 983h1.15M331 984h1.15M331 985h1.15M331 986h1.15M331 987h1.15M331 988h1.15M331 989h1.15M331 990h1.15M331 991h1.15M331 992h1.15M331 993h1.15M331 994h1.15M331 995h1.15M331 996h1.15M331 997h1.15M331 998h1.15M331 999h1.15M331 1000h1.15M331 1001h1.15M331 1002h1.15M331 1003h1.15M331 1004h1.15M331 1005h1.15M331 1006h1.15M331 1007h1.15M332 963h1.15M332 964h1.15M332 969h1.15M332 970h1.15M332 971h1.15M332 973h1.15M332 974h1.15M332 976h1.15M332 977h1.15M332 978h1.15M332 979h1.15M332 980h1.15M332 981h1.15M332 982h1.15M332 983h1.15M332 984h1.15M332 985h1.15M332 986h1.15M332 987h1.15M332 988h1.15M332 989h1.15M332 990h1.15M332 991h1.15M332 992h1.15M332 993h1.15M332 994h1.15M332 995h1.15M332 996h1.15M332 997h1.15M332 998h1.15M332 999h1.15M332 1000h1.15M332 1001h1.15M332 1002h1.15M332 1003h1.15M332 1004h1.15M332 1005h1.15M332 1006h1.15M332 1007h1.15M333 964h1.15M333 966h1.15M333 968h1.15M333 970h1.15M333 972h1.15M333 973h1.15M333 974h1.15M333 976h1.15M333 977h1.15M333 978h1.15M333 980h1.15M333 981h1.15M333 982h1.15M333 983h1.15M333 984h1.15M333 985h1.15M333 986h1.15M333 987h1.15M333 988h1.15M333 989h1.15M333 990h1.15M333 991h1.15M333 992h1.15M333 993h1.15M333 994h1.15M333 995h1.15M333 996h1.15M333 997h1.15M333 998h1.15M333 999h1.15M333 1000h1.15M333 1001h1.15M333 1002h1.15M333 1003h1.15M333 1004h1.15M333 1005h1.15M333 1007h1.15M334 948h1.15M334 962h1.15M334 971h1.15M334 972h1.15M334 973h1.15M334 975h1.15M334 977h1.15M334 978h1.15M334 979h1.15M334 980h1.15M334 981h1.15M334 982h1.15M334 983h1.15M334 984h1.15M334 985h1.15M334 986h1.15M334 987h1.15M334 988h1.15M334 989h1.15M334 990h1.15M334 991h1.15M334 992h1.15M334 993h1.15M334 994h1.15M334 995h1.15M334 996h1.15M334 997h1.15M334 998h1.15M334 999h1.15M334 1000h1.15M334 1001h1.15M334 1002h1.15M334 1003h1.15M334 1004h1.15M334 1005h1.15M334 1006h1.15M335 960h1.15M335 966h1.15M335 967h1.15M335 969h1.15M335 970h1.15M335 971h1.15M335 972h1.15M335 973h1.15M335 974h1.15M335 975h1.15M335 976h1.15M335 977h1.15M335 978h1.15M335 979h1.15M335 980h1.15M335 981h1.15M335 982h1.15M335 983h1.15M335 984h1.15M335 985h1.15M335 986h1.15M335 987h1.15M335 988h1.15M335 989h1.15M335 990h1.15M335 991h1.15M335 992h1.15M335 993h1.15M335 994h1.15M335 995h1.15M335 996h1.15M335 997h1.15M335 998h1.15M335 999h1.15M335 1000h1.15M335 1001h1.15M335 1002h1.15M335 1003h1.15M335 1004h1.15M335 1005h1.15M335 1006h1.15M335 1007h1.15M336 962h1.15M336 967h1.15M336 969h1.15M336 970h1.15M336 971h1.15M336 972h1.15M336 973h1.15M336 975h1.15M336 976h1.15M336 977h1.15M336 978h1.15M336 979h1.15M336 980h1.15M336 981h1.15M336 982h1.15M336 983h1.15M336 984h1.15M336 985h1.15M336 986h1.15M336 987h1.15M336 988h1.15M336 989h1.15M336 990h1.15M336 991h1.15M336 992h1.15M336 993h1.15M336 994h1.15M336 995h1.15M336 996h1.15M336 997h1.15M336 998h1.15M336 999h1.15M336 1000h1.15M336 1001h1.15M336 1002h1.15M336 1003h1.15M336 1004h1.15M336 1005h1.15M336 1006h1.15M336 1007h1.15M337 964h1.15M337 965h1.15M337 967h1.15M337 968h1.15M337 969h1.15M337 970h1.15M337 971h1.15M337 972h1.15M337 973h1.15M337 974h1.15M337 975h1.15M337 976h1.15M337 977h1.15M337 978h1.15M337 979h1.15M337 980h1.15M337 981h1.15M337 982h1.15M337 983h1.15M337 984h1.15M337 985h1.15M337 986h1.15M337 987h1.15M337 988h1.15M337 989h1.15M337 990h1.15M337 991h1.15M337 992h1.15M337 993h1.15M337 994h1.15M337 995h1.15M337 996h1.15M337 997h1.15M337 998h1.15M337 999h1.15M337 1000h1.15M337 1001h1.15M337 1002h1.15M337 1003h1.15M337 1004h1.15M337 1005h1.15M337 1006h1.15M337 1007h1.15M338 964h1.15M338 966h1.15M338 967h1.15M338 970h1.15M338 972h1.15M338 973h1.15M338 974h1.15M338 975h1.15M338 976h1.15M338 977h1.15M338 978h1.15M338 979h1.15M338 980h1.15M338 981h1.15M338 982h1.15M338 983h1.15M338 984h1.15M338 985h1.15M338 986h1.15M338 987h1.15M338 988h1.15M338 989h1.15M338 990h1.15M338 991h1.15M338 992h1.15M338 993h1.15M338 994h1.15M338 995h1.15M338 996h1.15M338 997h1.15M338 998h1.15M338 999h1.15M338 1000h1.15M338 1001h1.15M338 1002h1.15M338 1003h1.15M338 1005h1.15M338 1006h1.15M338 1007h1.15M339 953h1.15M339 958h1.15M339 966h1.15M339 967h1.15M339 968h1.15M339 970h1.15M339 971h1.15M339 972h1.15M339 973h1.15M339 974h1.15M339 975h1.15M339 976h1.15M339 977h1.15M339 978h1.15M339 979h1.15M339 980h1.15M339 981h1.15M339 982h1.15M339 983h1.15M339 984h1.15M339 985h1.15M339 986h1.15M339 987h1.15M339 988h1.15M339 989h1.15M339 990h1.15M339 991h1.15M339 992h1.15M339 993h1.15M339 994h1.15M339 995h1.15M339 996h1.15M339 997h1.15M339 998h1.15M339 999h1.15M339 1000h1.15M339 1001h1.15M339 1002h1.15M339 1003h1.15M339 1004h1.15M339 1005h1.15M339 1006h1.15M340 957h1.15M340 968h1.15M340 972h1.15M340 973h1.15M340 974h1.15M340 975h1.15M340 976h1.15M340 977h1.15M340 978h1.15M340 979h1.15M340 980h1.15M340 981h1.15M340 982h1.15M340 983h1.15M340 984h1.15M340 985h1.15M340 986h1.15M340 987h1.15M340 988h1.15M340 989h1.15M340 990h1.15M340 991h1.15M340 992h1.15M340 993h1.15M340 994h1.15M340 995h1.15M340 996h1.15M340 997h1.15M340 998h1.15M340 999h1.15M340 1000h1.15M340 1001h1.15M340 1002h1.15M340 1003h1.15M340 1004h1.15M340 1005h1.15M340 1006h1.15M340 1007h1.15M341 963h1.15M341 964h1.15M341 965h1.15M341 966h1.15M341 967h1.15M341 968h1.15M341 970h1.15M341 971h1.15M341 972h1.15M341 973h1.15M341 974h1.15M341 975h1.15M341 976h1.15M341 977h1.15M341 978h1.15M341 979h1.15M341 980h1.15M341 981h1.15M341 982h1.15M341 983h1.15M341 984h1.15M341 985h1.15M341 986h1.15M341 987h1.15M341 988h1.15M341 989h1.15M341 990h1.15M341 991h1.15M341 992h1.15M341 993h1.15M341 994h1.15M341 995h1.15M341 996h1.15M341 997h1.15M341 998h1.15M341 999h1.15M341 1000h1.15M341 1001h1.15M341 1002h1.15M341 1003h1.15M341 1004h1.15M341 1005h1.15M341 1006h1.15M341 1007h1.15M342 963h1.15M342 967h1.15M342 968h1.15M342 970h1.15M342 973h1.15M342 975h1.15M342 976h1.15M342 978h1.15M342 979h1.15M342 980h1.15M342 981h1.15M342 982h1.15M342 983h1.15M342 984h1.15M342 985h1.15M342 986h1.15M342 987h1.15M342 988h1.15M342 989h1.15M342 990h1.15M342 991h1.15M342 992h1.15M342 993h1.15M342 994h1.15M342 995h1.15M342 996h1.15M342 997h1.15M342 998h1.15M342 999h1.15M342 1000h1.15M342 1001h1.15M342 1002h1.15M342 1003h1.15M342 1004h1.15M342 1005h1.15M342 1006h1.15M342 1007h1.15M343 959h1.15M343 963h1.15M343 967h1.15M343 970h1.15M343 971h1.15M343 972h1.15M343 973h1.15M343 974h1.15M343 976h1.15M343 977h1.15M343 978h1.15M343 979h1.15M343 980h1.15M343 981h1.15M343 982h1.15M343 983h1.15M343 984h1.15M343 985h1.15M343 986h1.15M343 987h1.15M343 988h1.15M343 989h1.15M343 990h1.15M343 991h1.15M343 992h1.15M343 993h1.15M343 994h1.15M343 995h1.15M343 996h1.15M343 997h1.15M343 998h1.15M343 999h1.15M343 1000h1.15M343 1002h1.15M343 1003h1.15M343 1004h1.15M343 1005h1.15M343 1006h1.15M343 1007h1.15M344 968h1.15M344 969h1.15M344 970h1.15M344 971h1.15M344 973h1.15M344 974h1.15M344 976h1.15M344 977h1.15M344 978h1.15M344 979h1.15M344 980h1.15M344 981h1.15M344 982h1.15M344 983h1.15M344 984h1.15M344 985h1.15M344 986h1.15M344 987h1.15M344 988h1.15M344 989h1.15M344 990h1.15M344 991h1.15M344 992h1.15M344 993h1.15M344 994h1.15M344 995h1.15M344 996h1.15M344 997h1.15M344 998h1.15M344 999h1.15M344 1000h1.15M344 1001h1.15M344 1002h1.15M344 1003h1.15M344 1004h1.15M344 1005h1.15M344 1006h1.15M345 970h1.15M345 971h1.15M345 973h1.15M345 974h1.15M345 976h1.15M345 977h1.15M345 978h1.15M345 979h1.15M345 980h1.15M345 981h1.15M345 982h1.15M345 983h1.15M345 984h1.15M345 985h1.15M345 986h1.15M345 987h1.15M345 988h1.15M345 989h1.15M345 990h1.15M345 991h1.15M345 992h1.15M345 993h1.15M345 994h1.15M345 995h1.15M345 996h1.15M345 997h1.15M345 998h1.15M345 1000h1.15M345 1001h1.15M345 1002h1.15M345 1003h1.15M345 1004h1.15M345 1005h1.15M345 1006h1.15M346 960h1.15M346 968h1.15M346 971h1.15M346 972h1.15M346 974h1.15M346 976h1.15M346 977h1.15M346 978h1.15M346 979h1.15M346 980h1.15M346 981h1.15M346 982h1.15M346 983h1.15M346 984h1.15M346 985h1.15M346 986h1.15M346 987h1.15M346 988h1.15M346 989h1.15M346 991h1.15M346 992h1.15M346 993h1.15M346 994h1.15M346 995h1.15M346 996h1.15M346 997h1.15M346 998h1.15M346 999h1.15M346 1000h1.15M346 1001h1.15M346 1002h1.15M346 1003h1.15M346 1004h1.15M346 1005h1.15M346 1007h1.15M347 966h1.15M347 970h1.15M347 973h1.15M347 974h1.15M347 975h1.15M347 976h1.15M347 977h1.15M347 978h1.15M347 979h1.15M347 980h1.15M347 981h1.15M347 982h1.15M347 983h1.15M347 984h1.15M347 985h1.15M347 986h1.15M347 987h1.15M347 988h1.15M347 989h1.15M347 991h1.15M347 992h1.15M347 993h1.15M347 994h1.15M347 995h1.15M347 996h1.15M347 997h1.15M347 998h1.15M347 999h1.15M347 1000h1.15M347 1001h1.15M347 1002h1.15M347 1003h1.15M347 1004h1.15M347 1007h1.15M348 942h1.15M348 969h1.15M348 971h1.15M348 972h1.15M348 975h1.15M348 977h1.15M348 978h1.15M348 979h1.15M348 980h1.15M348 981h1.15M348 982h1.15M348 983h1.15M348 984h1.15M348 985h1.15M348 986h1.15M348 987h1.15M348 988h1.15M348 989h1.15M348 990h1.15M348 991h1.15M348 992h1.15M348 993h1.15M348 994h1.15M348 995h1.15M348 996h1.15M348 997h1.15M348 998h1.15M348 999h1.15M348 1000h1.15M348 1001h1.15M348 1003h1.15M348 1004h1.15M348 1005h1.15M349 966h1.15M349 970h1.15M349 971h1.15M349 972h1.15M349 976h1.15M349 977h1.15M349 978h1.15M349 980h1.15M349 983h1.15M349 985h1.15M349 986h1.15M349 988h1.15M349 990h1.15M349 991h1.15M349 992h1.15M349 993h1.15M349 994h1.15M349 995h1.15M349 996h1.15M349 997h1.15M349 998h1.15M349 999h1.15M349 1000h1.15M349 1001h1.15M349 1002h1.15M349 1003h1.15M349 1004h1.15M350 964h1.15M350 966h1.15M350 972h1.15M350 975h1.15M350 976h1.15M350 977h1.15M350 978h1.15M350 980h1.15M350 981h1.15M350 982h1.15M350 984h1.15M350 985h1.15M350 986h1.15M350 987h1.15M350 988h1.15M350 990h1.15M350 991h1.15M350 992h1.15M350 993h1.15M350 994h1.15M350 995h1.15M350 996h1.15M350 997h1.15M350 998h1.15M350 999h1.15M350 1000h1.15M350 1001h1.15M350 1003h1.15M350 1005h1.15M351 965h1.15M351 966h1.15M351 970h1.15M351 974h1.15M351 975h1.15M351 976h1.15M351 979h1.15M351 980h1.15M351 983h1.15M351 984h1.15M351 985h1.15M351 986h1.15M351 987h1.15M351 988h1.15M351 989h1.15M351 990h1.15M351 991h1.15M351 992h1.15M351 993h1.15M351 994h1.15M351 995h1.15M351 996h1.15M351 997h1.15M351 998h1.15M351 999h1.15M351 1000h1.15M351 1002h1.15M351 1004h1.15M351 1005h1.15M351 1007h1.15M352 952h1.15M352 967h1.15M352 972h1.15M352 973h1.15M352 975h1.15M352 976h1.15M352 979h1.15M352 980h1.15M352 981h1.15M352 982h1.15M352 983h1.15M352 984h1.15M352 985h1.15M352 986h1.15M352 987h1.15M352 988h1.15M352 990h1.15M352 991h1.15M352 992h1.15M352 995h1.15M352 997h1.15M352 998h1.15M352 999h1.15M352 1000h1.15M352 1001h1.15M352 1002h1.15M352 1004h1.15M352 1006h1.15M352 1007h1.15M353 968h1.15M353 970h1.15M353 974h1.15M353 976h1.15M353 977h1.15M353 979h1.15M353 980h1.15M353 981h1.15M353 982h1.15M353 983h1.15M353 985h1.15M353 986h1.15M353 987h1.15M353 988h1.15M353 989h1.15M353 990h1.15M353 991h1.15M353 992h1.15M353 993h1.15M353 995h1.15M353 996h1.15M353 997h1.15M353 999h1.15M353 1001h1.15M353 1005h1.15M353 1006h1.15M354 946h1.15M354 964h1.15M354 965h1.15M354 966h1.15M354 967h1.15M354 972h1.15M354 973h1.15M354 977h1.15M354 979h1.15M354 981h1.15M354 982h1.15M354 983h1.15M354 985h1.15M354 988h1.15M354 989h1.15M354 990h1.15M354 991h1.15M354 992h1.15M354 993h1.15M354 995h1.15M354 996h1.15M354 998h1.15M354 999h1.15M354 1000h1.15M354 1001h1.15M354 1002h1.15M354 1005h1.15M355 952h1.15M355 965h1.15M355 971h1.15M355 972h1.15M355 974h1.15M355 975h1.15M355 976h1.15M355 978h1.15M355 981h1.15M355 982h1.15M355 983h1.15M355 984h1.15M355 988h1.15M355 989h1.15M355 990h1.15M355 992h1.15M355 993h1.15M355 994h1.15M355 995h1.15M355 996h1.15M355 998h1.15M355 999h1.15M355 1000h1.15M355 1001h1.15M355 1004h1.15M355 1006h1.15M356 959h1.15M356 967h1.15M356 968h1.15M356 969h1.15M356 974h1.15M356 977h1.15M356 979h1.15M356 980h1.15M356 981h1.15M356 984h1.15M356 985h1.15M356 986h1.15M356 987h1.15M356 989h1.15M356 990h1.15M356 991h1.15M356 992h1.15M356 994h1.15M356 996h1.15M356 1001h1.15M356 1003h1.15M356 1004h1.15M357 962h1.15M357 969h1.15M357 971h1.15M357 972h1.15M357 975h1.15M357 977h1.15M357 981h1.15M357 982h1.15M357 985h1.15M357 986h1.15M357 988h1.15M357 990h1.15M357 992h1.15M357 993h1.15M357 994h1.15M357 996h1.15M357 998h1.15M358 962h1.15M358 963h1.15M358 966h1.15M358 967h1.15M358 972h1.15M358 975h1.15M358 976h1.15M358 980h1.15M358 981h1.15M358 983h1.15M358 985h1.15M358 986h1.15M358 987h1.15M358 988h1.15M358 989h1.15M358 991h1.15M358 993h1.15M358 994h1.15M358 996h1.15M358 1000h1.15M358 1001h1.15M358 1002h1.15M358 1006h1.15M359 970h1.15M359 974h1.15M359 977h1.15M359 978h1.15M359 979h1.15M359 983h1.15M359 984h1.15M359 985h1.15M359 986h1.15M359 987h1.15M359 988h1.15M359 989h1.15M359 990h1.15M359 992h1.15M359 995h1.15M359 997h1.15M359 1007h1.15M360 973h1.15M360 974h1.15M360 977h1.15M360 978h1.15M360 981h1.15M360 983h1.15M360 988h1.15M360 990h1.15M360 993h1.15M360 1001h1.15M360 1004h1.15M361 961h1.15M361 966h1.15M361 973h1.15M361 974h1.15M361 978h1.15M361 980h1.15M361 981h1.15M361 988h1.15M361 989h1.15M361 993h1.15M361 1004h1.15M362 937h1.15M362 952h1.15M362 967h1.15M362 968h1.15M362 975h1.15M362 977h1.15M362 978h1.15M362 979h1.15M362 980h1.15M362 991h1.15M362 994h1.15M362 1001h1.15M362 1002h1.15M363 960h1.15M363 970h1.15M363 972h1.15M363 974h1.15M363 979h1.15M363 981h1.15M363 982h1.15M363 986h1.15M363 988h1.15M363 992h1.15M363 994h1.15M363 995h1.15M363 1001h1.15M364 951h1.15M364 955h1.15M364 968h1.15M364 970h1.15M364 977h1.15M364 980h1.15M364 985h1.15M364 987h1.15M364 992h1.15M364 1005h1.15M365 965h1.15M365 967h1.15M365 972h1.15M365 986h1.15M365 993h1.15M365 997h1.15M366 957h1.15M366 966h1.15M366 967h1.15M366 969h1.15M366 971h1.15M366 977h1.15M366 979h1.15M366 1002h1.15M367 955h1.15M367 965h1.15M367 968h1.15M367 971h1.15M367 972h1.15M367 973h1.15M367 976h1.15M367 986h1.15M367 992h1.15M367 995h1.15M367 1002h1.15M368 950h1.15M368 954h1.15M368 959h1.15M368 963h1.15M368 968h1.15M368 969h1.15M368 982h1.15M368 985h1.15M368 999h1.15M369 900h1.15M369 956h1.15M369 977h1.15M369 985h1.15M369 1002h1.15M370 944h1.15M370 961h1.15M370 977h1.15M370 998h1.15M371 964h1.15M371 965h1.15M371 967h1.15M371 970h1.15M371 978h1.15M371 983h1.15M371 990h1.15M371 994h1.15M372 924h1.15M372 964h1.15M372 994h1.15M373 956h1.15M373 969h1.15M373 981h1.15M374 902h1.15M374 1000h1.15M375 943h1.15M375 960h1.15M376 908h1.15M376 918h1.15M376 955h1.15M376 959h1.15M376 963h1.15M376 969h1.15M376 973h1.15M376 989h1.15M377 954h1.15M377 959h1.15M377 982h1.15M377 999h1.15M378 905h1.15M378 906h1.15M378 954h1.15M379 959h1.15M379 961h1.15M379 968h1.15M379 978h1.15M379 992h1.15M379 999h1.15M380 937h1.15M380 948h1.15M380 949h1.15M380 959h1.15M380 966h1.15M381 958h1.15M381 964h1.15M381 993h1.15M381 996h1.15M382 918h1.15M382 962h1.15M382 963h1.15M383 917h1.15M383 933h1.15M383 939h1.15M383 963h1.15M383 998h1.15M384 948h1.15M384 992h1.15M385 959h1.15M386 921h1.15M386 956h1.15M387 901h1.15M387 946h1.15M387 949h1.15M387 981h1.15M387 999h1.15M388 900h1.15M388 945h1.15M388 952h1.15M388 977h1.15M388 980h1.15M389 918h1.15M389 940h1.15M389 942h1.15M389 960h1.15M389 972h1.15M390 897h1.15M390 907h1.15M390 944h1.15M390 955h1.15M391 882h1.15M391 945h1.15M392 952h1.15M392 956h1.15M392 968h1.15M393 894h1.15M393 896h1.15M393 902h1.15M393 934h1.15M393 955h1.15M394 891h1.15M394 940h1.15M394 957h1.15M394 958h1.15M394 964h1.15M394 965h1.15M395 892h1.15M395 902h1.15M395 907h1.15M395 940h1.15M395 946h1.15M395 956h1.15M395 963h1.15M395 982h1.15M396 897h1.15M396 907h1.15M396 941h1.15M396 942h1.15M396 949h1.15M396 998h1.15M397 880h1.15M397 891h1.15M397 898h1.15M397 905h1.15M397 912h1.15M397 938h1.15M397 948h1.15M397 949h1.15M398 902h1.15M399 904h1.15M399 947h1.15M399 953h1.15M399 962h1.15M399 993h1.15M400 898h1.15M400 930h1.15M400 933h1.15M400 939h1.15M400 947h1.15M400 964h1.15M401 870h1.15M401 881h1.15M401 887h1.15M401 898h1.15M401 939h1.15M401 956h1.15M402 884h1.15M402 889h1.15M402 895h1.15M402 918h1.15M402 939h1.15M402 940h1.15M403 886h1.15M403 891h1.15M403 897h1.15M403 899h1.15M403 917h1.15M403 929h1.15M403 935h1.15M403 953h1.15M403 956h1.15M404 884h1.15M404 891h1.15M404 900h1.15M404 922h1.15M404 949h1.15M404 975h1.15M405 883h1.15M405 897h1.15M405 942h1.15M406 875h1.15M406 894h1.15M406 924h1.15M406 937h1.15M406 962h1.15M406 971h1.15M407 892h1.15M407 897h1.15M407 901h1.15M407 935h1.15M407 945h1.15M407 950h1.15M407 1001h1.15M408 903h1.15M408 938h1.15M408 953h1.15M408 987h1.15M409 897h1.15M409 934h1.15M409 940h1.15M409 948h1.15M409 958h1.15M409 980h1.15M410 881h1.15M410 902h1.15M410 940h1.15M410 942h1.15M411 879h1.15M411 930h1.15M411 932h1.15M411 942h1.15M411 951h1.15M412 875h1.15M412 935h1.15M412 938h1.15M412 950h1.15M412 956h1.15M413 881h1.15M413 902h1.15M413 934h1.15M414 880h1.15M414 889h1.15M414 898h1.15M415 889h1.15M415 890h1.15M415 917h1.15M415 925h1.15M415 944h1.15M415 958h1.15M416 878h1.15M416 895h1.15M416 918h1.15M416 946h1.15M417 874h1.15M417 895h1.15M417 907h1.15M417 930h1.15M417 937h1.15M417 974h1.15M418 876h1.15M418 883h1.15M418 927h1.15M418 947h1.15M418 962h1.15M419 879h1.15M419 923h1.15M419 944h1.15M419 951h1.15M419 956h1.15M420 916h1.15M420 931h1.15M420 933h1.15M420 934h1.15M420 940h1.15M421 913h1.15M421 924h1.15M421 929h1.15M421 930h1.15M421 963h1.15M422 874h1.15M422 888h1.15M422 898h1.15M422 913h1.15M422 925h1.15M422 927h1.15M422 938h1.15M422 949h1.15M422 950h1.15M423 886h1.15M423 920h1.15M423 923h1.15M423 926h1.15M423 946h1.15M423 952h1.15M424 866h1.15M424 877h1.15M424 879h1.15M424 881h1.15M424 918h1.15M424 938h1.15M424 947h1.15M424 980h1.15M425 867h1.15M425 869h1.15M425 881h1.15M425 886h1.15M425 896h1.15M425 908h1.15M425 923h1.15M425 934h1.15M425 939h1.15M425 941h1.15M425 952h1.15M425 953h1.15M426 882h1.15M426 903h1.15M426 915h1.15M426 919h1.15M426 936h1.15M426 946h1.15M427 881h1.15M427 903h1.15M427 909h1.15M427 914h1.15M427 924h1.15M427 927h1.15M427 930h1.15M428 858h1.15M428 864h1.15M428 872h1.15M428 875h1.15M428 889h1.15M428 910h1.15M428 914h1.15M428 927h1.15M428 935h1.15M429 861h1.15M429 863h1.15M429 873h1.15M429 878h1.15M429 891h1.15M429 899h1.15M429 904h1.15M429 916h1.15M429 921h1.15M429 922h1.15M429 925h1.15M429 942h1.15M429 991h1.15M430 861h1.15M430 865h1.15M430 876h1.15M430 882h1.15M430 910h1.15M430 922h1.15M430 926h1.15M430 930h1.15M430 973h1.15M431 855h1.15M431 877h1.15M431 891h1.15M431 948h1.15M431 1001h1.15M432 870h1.15M432 873h1.15M432 875h1.15M432 876h1.15M432 884h1.15M432 896h1.15M432 933h1.15M433 866h1.15M433 867h1.15M433 871h1.15M433 878h1.15M433 887h1.15M433 894h1.15M433 895h1.15M433 897h1.15M433 912h1.15M434 864h1.15M434 868h1.15M434 871h1.15M434 874h1.15M435 865h1.15M435 867h1.15M435 868h1.15M435 869h1.15M435 874h1.15M435 879h1.15M435 880h1.15M435 885h1.15M435 889h1.15M435 915h1.15M436 859h1.15M436 867h1.15M436 870h1.15M436 876h1.15M436 877h1.15M436 921h1.15M436 929h1.15M436 1002h1.15M436 1004h1.15M437 855h1.15M437 867h1.15M437 869h1.15M437 874h1.15M437 875h1.15M437 878h1.15M437 882h1.15M437 886h1.15M437 905h1.15M437 907h1.15M437 915h1.15M438 861h1.15M438 863h1.15M438 867h1.15M438 871h1.15M438 874h1.15M438 875h1.15M438 877h1.15M438 880h1.15M438 886h1.15M438 888h1.15M438 890h1.15M438 925h1.15M439 863h1.15M439 864h1.15M439 869h1.15M439 870h1.15M439 871h1.15M439 873h1.15M439 875h1.15M439 877h1.15M439 880h1.15M439 884h1.15M439 901h1.15M439 907h1.15M439 909h1.15M439 911h1.15M439 931h1.15M439 960h1.15M440 860h1.15M440 865h1.15M440 866h1.15M440 867h1.15M440 873h1.15M440 875h1.15M440 882h1.15M440 892h1.15M440 894h1.15M440 924h1.15M441 851h1.15M441 860h1.15M441 862h1.15M441 863h1.15M441 865h1.15M441 868h1.15M441 870h1.15M441 872h1.15M441 873h1.15M441 875h1.15M441 876h1.15M441 877h1.15M441 880h1.15M441 881h1.15M441 883h1.15M441 898h1.15M441 899h1.15M442 847h1.15M442 864h1.15M442 865h1.15M442 866h1.15M442 867h1.15M442 869h1.15M442 870h1.15M442 871h1.15M442 872h1.15M442 873h1.15M442 875h1.15M442 877h1.15M442 880h1.15M442 882h1.15M442 884h1.15M442 887h1.15M442 898h1.15M443 859h1.15M443 865h1.15M443 868h1.15M443 869h1.15M443 871h1.15M443 872h1.15M443 874h1.15M443 875h1.15M443 877h1.15M443 879h1.15M443 882h1.15M443 884h1.15M443 913h1.15M444 856h1.15M444 864h1.15M444 865h1.15M444 868h1.15M444 869h1.15M444 870h1.15M444 876h1.15M444 879h1.15M444 890h1.15M445 858h1.15M445 859h1.15M445 863h1.15M445 864h1.15M445 865h1.15M445 866h1.15M445 869h1.15M445 870h1.15M445 877h1.15M445 878h1.15M445 883h1.15M445 895h1.15M445 905h1.15M446 855h1.15M446 857h1.15M446 861h1.15M446 863h1.15M446 864h1.15M446 867h1.15M446 869h1.15M446 871h1.15M446 872h1.15M446 876h1.15M446 879h1.15M446 891h1.15M446 897h1.15M446 911h1.15M446 916h1.15M447 855h1.15M447 857h1.15M447 867h1.15M447 868h1.15M447 870h1.15M447 871h1.15M447 872h1.15M447 873h1.15M447 874h1.15M447 876h1.15M447 881h1.15M447 882h1.15M447 889h1.15M448 852h1.15M448 873h1.15M448 877h1.15M448 878h1.15M448 881h1.15M448 889h1.15M448 925h1.15M449 853h1.15M449 858h1.15M449 863h1.15M449 872h1.15M449 874h1.15M449 880h1.15M449 882h1.15M449 886h1.15M449 888h1.15M450 852h1.15M450 853h1.15M450 855h1.15M450 860h1.15M450 861h1.15M450 866h1.15M450 867h1.15M450 869h1.15M450 875h1.15M450 882h1.15M450 884h1.15M450 885h1.15M451 854h1.15M451 860h1.15M451 863h1.15M451 866h1.15M451 871h1.15M451 872h1.15M451 880h1.15M452 856h1.15M452 869h1.15M452 871h1.15M452 877h1.15M453 849h1.15" stroke="#dd0808" stroke-width="1.15" fill="none" transform="translate(-0.1,0.5)"/>
<path d="M270 1006h1.4M277 1006h1.4M278 1004h1.4M278 1006h1.4M279 1006h1.4M280 1006h1.4M284 1007h1.4M287 1005h1.4M289 1006h1.4M292 1007h1.4M297 1006h1.4M299 1006h1.4M300 1005h1.4M300 1007h1.4M304 1006h1.4M305 1005h1.4M305 1006h1.4M305 1007h1.4M316 1006h1.4M322 1005h1.4M324 1006h1.4M325 1006h1.4M330 1006h1.4M331 1006h1.4M332 1006h1.4M337 1006h1.4M338 1006h1.4M340 1005h1.4M349 1006h1.4M350 1006h1.4M351 1006h1.4M355 1006h1.4M359 1006h1.4M360 1006h1.4M369 1006h1.4M373 1006h1.4M377 1005h1.4M391 1006h1.4M392 1006h1.4M392 1007h1.4M394 1006h1.4M402 1005h1.4M403 1006h1.4M416 1005h1.4M418 1006h1.4M419 1006h1.4M427 1005h1.4M429 1007h1.4M430 1006h1.4M434 1007h1.4M436 1006h1.4M437 1005h1.4M438 1006h1.4M439 1006h1.4M441 1006h1.4M443 1005h1.4M449 1006h1.4" stroke="#a80000" stroke-width="1.6" fill="none" transform="translate(-0.2,0.5)"/>
</g>
<line x1="452.6" y1="858.0" x2="452.6" y2="880.0" stroke="#b00000" stroke-width="1.5"/>
<rect x="268.0" y="826.0" width="185.8" height="182.2" fill="none" stroke="#1e1e1e" stroke-width="1.3"/>
<line x1="337.7" y1="826.0" x2="337.7" y2="1008.2" stroke="#111" stroke-width="1.3"/>
<line x1="268.0" y1="934.0" x2="453.8" y2="934.0" stroke="#111" stroke-width="1.3"/>
<path d="M268.0 1008.2h-4M268.0 1008.2v4M268.0 994.5h-2.4M282.0 1008.2v2.4M268.0 986.5h-2.4M290.2 1008.2v2.4M268.0 980.8h-2.4M296.0 1008.2v2.4M268.0 976.4h-2.4M300.5 1008.2v2.4M268.0 972.8h-2.4M304.1 1008.2v2.4M268.0 969.7h-2.4M307.3 1008.2v2.4M268.0 967.1h-2.4M309.9 1008.2v2.4M268.0 964.7h-2.4M312.3 1008.2v2.4M268.0 962.7h-4M314.4 1008.2v4M268.0 948.9h-2.4M328.4 1008.2v2.4M268.0 940.9h-2.4M336.6 1008.2v2.4M268.0 935.2h-2.4M342.4 1008.2v2.4M268.0 930.8h-2.4M346.9 1008.2v2.4M268.0 927.2h-2.4M350.6 1008.2v2.4M268.0 924.2h-2.4M353.7 1008.2v2.4M268.0 921.5h-2.4M356.4 1008.2v2.4M268.0 919.2h-2.4M358.8 1008.2v2.4M268.0 917.1h-4M360.9 1008.2v4M268.0 903.4h-2.4M374.9 1008.2v2.4M268.0 895.4h-2.4M383.1 1008.2v2.4M268.0 889.7h-2.4M388.9 1008.2v2.4M268.0 885.3h-2.4M393.4 1008.2v2.4M268.0 881.7h-2.4M397.0 1008.2v2.4M268.0 878.6h-2.4M400.2 1008.2v2.4M268.0 876.0h-2.4M402.8 1008.2v2.4M268.0 873.6h-2.4M405.2 1008.2v2.4M268.0 871.5h-4M407.4 1008.2v4M268.0 857.8h-2.4M421.3 1008.2v2.4M268.0 849.8h-2.4M429.5 1008.2v2.4M268.0 844.1h-2.4M435.3 1008.2v2.4M268.0 839.7h-2.4M439.8 1008.2v2.4M268.0 836.1h-2.4M443.5 1008.2v2.4M268.0 833.1h-2.4M446.6 1008.2v2.4M268.0 830.4h-2.4M449.3 1008.2v2.4M268.0 828.1h-2.4M451.7 1008.2v2.4M268.0 826.0h-4M453.8 1008.2v4" stroke="#222" stroke-width="1" fill="none"/>
<text transform="translate(262.0,1015.1) rotate(-90)" font-size="8.6" textLength="7.6" lengthAdjust="spacingAndGlyphs" fill="#222">10</text>
<text transform="translate(258.4,1006.3) rotate(-90)" font-size="7.6" fill="#222">0</text>
<text x="260.4" y="1023.6" font-size="9.2" textLength="8.8" lengthAdjust="spacingAndGlyphs" fill="#222">10</text>
<text x="270.0" y="1019.1" font-size="7.6" fill="#222">0</text>
<text transform="translate(262.0,969.6) rotate(-90)" font-size="8.6" textLength="7.6" lengthAdjust="spacingAndGlyphs" fill="#222">10</text>
<text transform="translate(258.4,960.8) rotate(-90)" font-size="7.6" fill="#222">1</text>
<text x="306.8" y="1023.6" font-size="9.2" textLength="8.8" lengthAdjust="spacingAndGlyphs" fill="#222">10</text>
<text x="316.4" y="1019.1" font-size="7.6" fill="#222">1</text>
<text transform="translate(262.0,924.0) rotate(-90)" font-size="8.6" textLength="7.6" lengthAdjust="spacingAndGlyphs" fill="#222">10</text>
<text transform="translate(258.4,915.2) rotate(-90)" font-size="7.6" fill="#222">2</text>
<text x="353.3" y="1023.6" font-size="9.2" textLength="8.8" lengthAdjust="spacingAndGlyphs" fill="#222">10</text>
<text x="362.9" y="1019.1" font-size="7.6" fill="#222">2</text>
<text transform="translate(262.0,878.4) rotate(-90)" font-size="8.6" textLength="7.6" lengthAdjust="spacingAndGlyphs" fill="#222">10</text>
<text transform="translate(258.4,869.6) rotate(-90)" font-size="7.6" fill="#222">3</text>
<text x="399.8" y="1023.6" font-size="9.2" textLength="8.8" lengthAdjust="spacingAndGlyphs" fill="#222">10</text>
<text x="409.4" y="1019.1" font-size="7.6" fill="#222">3</text>
<text transform="translate(262.0,832.9) rotate(-90)" font-size="8.6" textLength="7.6" lengthAdjust="spacingAndGlyphs" fill="#222">10</text>
<text transform="translate(258.4,824.1) rotate(-90)" font-size="7.6" fill="#222">4</text>
<text x="446.2" y="1023.6" font-size="9.2" textLength="8.8" lengthAdjust="spacingAndGlyphs" fill="#222">10</text>
<text x="455.8" y="1019.1" font-size="7.6" fill="#222">4</text>
<text x="329.6" y="1031.5" textLength="60.1" lengthAdjust="spacingAndGlyphs" font-size="8.6" fill="#222">Annexin V FITC</text>
<text transform="translate(251.0,949.6) rotate(-90)" x="0" y="0" textLength="63.0" lengthAdjust="spacingAndGlyphs" font-size="8.2" fill="#222">Propidium Iodide</text>
<line x1="275.4" y1="848.8" x2="333.1" y2="848.8" stroke="#222" stroke-width="1.0"/>
<line x1="304.6" y1="836.5" x2="304.6" y2="861.3" stroke="#222" stroke-width="1.0"/>
<text x="280.9" y="846.2" textLength="20.2" lengthAdjust="spacingAndGlyphs" font-size="10" fill="#222">0.01</text>
<text x="307.6" y="846.2" textLength="20.3" lengthAdjust="spacingAndGlyphs" font-size="10" fill="#222">4.66</text>
<text x="275.6" y="859.6" textLength="26.2" lengthAdjust="spacingAndGlyphs" font-size="10" fill="#222">73.59</text>
<text x="307.6" y="859.6" textLength="26.4" lengthAdjust="spacingAndGlyphs" font-size="10" fill="#222">21.74</text>
<line x1="520.8" y1="378.8" x2="520.8" y2="513.9" stroke="#2a2a2a" stroke-width="1.4"/>
<line x1="520.8" y1="513.2" x2="656.3" y2="513.2" stroke="#2a2a2a" stroke-width="1.4"/>
<line x1="517.3" y1="513.2" x2="520.8" y2="513.2" stroke="#2a2a2a" stroke-width="1.2"/>
<text x="509.3" y="516.8" textLength="5.6" lengthAdjust="spacingAndGlyphs" font-weight="bold" font-size="10" fill="#111">0</text>
<line x1="517.3" y1="479.8" x2="520.8" y2="479.8" stroke="#2a2a2a" stroke-width="1.2"/>
<text x="503.7" y="483.4" textLength="11.2" lengthAdjust="spacingAndGlyphs" font-weight="bold" font-size="10" fill="#111">10</text>
<line x1="517.3" y1="446.3" x2="520.8" y2="446.3" stroke="#2a2a2a" stroke-width="1.2"/>
<text x="503.7" y="449.9" textLength="11.2" lengthAdjust="spacingAndGlyphs" font-weight="bold" font-size="10" fill="#111">20</text>
<line x1="517.3" y1="412.9" x2="520.8" y2="412.9" stroke="#2a2a2a" stroke-width="1.2"/>
<text x="503.7" y="416.5" textLength="11.2" lengthAdjust="spacingAndGlyphs" font-weight="bold" font-size="10" fill="#111">30</text>
<line x1="517.3" y1="379.4" x2="520.8" y2="379.4" stroke="#2a2a2a" stroke-width="1.2"/>
<text x="503.7" y="383.0" textLength="11.2" lengthAdjust="spacingAndGlyphs" font-weight="bold" font-size="10" fill="#111">40</text>
<line x1="555.3" y1="513.2" x2="555.3" y2="516.7" stroke="#2a2a2a" stroke-width="1.2"/>
<line x1="622.3" y1="513.2" x2="622.3" y2="516.7" stroke="#2a2a2a" stroke-width="1.2"/>
<rect x="538.4" y="464.0" width="33.4" height="49.2" fill="#fff" stroke="#3a3a3a" stroke-width="1.1"/>
<line x1="555.1" y1="464.0" x2="555.1" y2="463.2" stroke="#222" stroke-width="1.4"/>
<line x1="546.3" y1="463.2" x2="563.9" y2="463.2" stroke="#222" stroke-width="1.4"/>
<rect x="605.8" y="420.2" width="32.7" height="93.0" fill="#7f7f7f" stroke="#3a3a3a" stroke-width="1.1"/>
<line x1="622.1" y1="420.2" x2="622.1" y2="412.9" stroke="#222" stroke-width="1.4"/>
<line x1="613.4" y1="412.9" x2="630.9" y2="412.9" stroke="#222" stroke-width="1.4"/>
<text x="566.7" y="390.3" textLength="37.4" lengthAdjust="spacingAndGlyphs" font-weight="bold" font-size="12.3" fill="#111">H1299</text>
<text x="622.4" y="409.1" text-anchor="middle" font-size="12" font-weight="bold" fill="#111">***</text>
<text x="534.4" y="529.7" textLength="42.4" lengthAdjust="spacingAndGlyphs" font-weight="bold" font-size="9.3" fill="#111">siRNA NC</text>
<text x="585.9" y="529.7" textLength="68.8" lengthAdjust="spacingAndGlyphs" font-weight="bold" font-size="9.3" fill="#111">Sortilin-1 siRNA</text>
<text transform="translate(498.4,493.3) rotate(-90)" x="0" y="0" textLength="94.0" lengthAdjust="spacingAndGlyphs" font-weight="bold" font-size="10.5" fill="#111">Apoptosis rate (%)</text>
<line x1="520.6" y1="603.7" x2="520.6" y2="739.1" stroke="#2a2a2a" stroke-width="1.4"/>
<line x1="520.6" y1="738.4" x2="656.1" y2="738.4" stroke="#2a2a2a" stroke-width="1.4"/>
<line x1="517.1" y1="738.4" x2="520.6" y2="738.4" stroke="#2a2a2a" stroke-width="1.2"/>
<text x="509.1" y="742.0" textLength="5.6" lengthAdjust="spacingAndGlyphs" font-weight="bold" font-size="10" fill="#111">0</text>
<line x1="517.1" y1="711.6" x2="520.6" y2="711.6" stroke="#2a2a2a" stroke-width="1.2"/>
<text x="509.1" y="715.2" textLength="5.6" lengthAdjust="spacingAndGlyphs" font-weight="bold" font-size="10" fill="#111">5</text>
<line x1="517.1" y1="684.8" x2="520.6" y2="684.8" stroke="#2a2a2a" stroke-width="1.2"/>
<text x="503.5" y="688.4" textLength="11.2" lengthAdjust="spacingAndGlyphs" font-weight="bold" font-size="10" fill="#111">10</text>
<line x1="517.1" y1="657.9" x2="520.6" y2="657.9" stroke="#2a2a2a" stroke-width="1.2"/>
<text x="503.5" y="661.5" textLength="11.2" lengthAdjust="spacingAndGlyphs" font-weight="bold" font-size="10" fill="#111">15</text>
<line x1="517.1" y1="631.1" x2="520.6" y2="631.1" stroke="#2a2a2a" stroke-width="1.2"/>
<text x="503.5" y="634.7" textLength="11.2" lengthAdjust="spacingAndGlyphs" font-weight="bold" font-size="10" fill="#111">20</text>
<line x1="517.1" y1="604.3" x2="520.6" y2="604.3" stroke="#2a2a2a" stroke-width="1.2"/>
<text x="503.5" y="607.9" textLength="11.2" lengthAdjust="spacingAndGlyphs" font-weight="bold" font-size="10" fill="#111">25</text>
<line x1="555.1" y1="738.4" x2="555.1" y2="741.9" stroke="#2a2a2a" stroke-width="1.2"/>
<line x1="622.1" y1="738.4" x2="622.1" y2="741.9" stroke="#2a2a2a" stroke-width="1.2"/>
<rect x="538.2" y="655.8" width="33.4" height="82.6" fill="#fff" stroke="#3a3a3a" stroke-width="1.1"/>
<line x1="554.9" y1="655.8" x2="554.9" y2="651.5" stroke="#222" stroke-width="1.4"/>
<line x1="546.1" y1="651.5" x2="563.7" y2="651.5" stroke="#222" stroke-width="1.4"/>
<rect x="605.6" y="637.0" width="32.7" height="101.4" fill="#7f7f7f" stroke="#3a3a3a" stroke-width="1.1"/>
<line x1="622.0" y1="637.0" x2="622.0" y2="634.3" stroke="#222" stroke-width="1.4"/>
<line x1="613.2" y1="634.3" x2="630.8" y2="634.3" stroke="#222" stroke-width="1.4"/>
<text x="573.8" y="615.6" textLength="31.0" lengthAdjust="spacingAndGlyphs" font-weight="bold" font-size="12.3" fill="#111">A549</text>
<text x="622.0" y="629.9" text-anchor="middle" font-size="12" font-weight="bold" fill="#111">**</text>
<text x="534.4" y="754.8" textLength="42.4" lengthAdjust="spacingAndGlyphs" font-weight="bold" font-size="9.3" fill="#111">siRNA NC</text>
<text x="585.9" y="754.8" textLength="68.8" lengthAdjust="spacingAndGlyphs" font-weight="bold" font-size="9.3" fill="#111">Sortilin-1 siRNA</text>
<text transform="translate(498.2,718.3) rotate(-90)" x="0" y="0" textLength="94.0" lengthAdjust="spacingAndGlyphs" font-weight="bold" font-size="10.5" fill="#111">Apoptosis rate (%)</text>
<line x1="522.9" y1="827.3" x2="522.9" y2="963.0" stroke="#2a2a2a" stroke-width="1.4"/>
<line x1="522.9" y1="962.3" x2="658.4" y2="962.3" stroke="#2a2a2a" stroke-width="1.4"/>
<line x1="519.4" y1="962.3" x2="522.9" y2="962.3" stroke="#2a2a2a" stroke-width="1.2"/>
<text x="511.4" y="965.9" textLength="5.6" lengthAdjust="spacingAndGlyphs" font-weight="bold" font-size="10" fill="#111">0</text>
<line x1="519.4" y1="917.5" x2="522.9" y2="917.5" stroke="#2a2a2a" stroke-width="1.2"/>
<text x="505.8" y="921.1" textLength="11.2" lengthAdjust="spacingAndGlyphs" font-weight="bold" font-size="10" fill="#111">10</text>
<line x1="519.4" y1="872.7" x2="522.9" y2="872.7" stroke="#2a2a2a" stroke-width="1.2"/>
<text x="505.8" y="876.3" textLength="11.2" lengthAdjust="spacingAndGlyphs" font-weight="bold" font-size="10" fill="#111">20</text>
<line x1="519.4" y1="827.9" x2="522.9" y2="827.9" stroke="#2a2a2a" stroke-width="1.2"/>
<text x="505.8" y="831.5" textLength="11.2" lengthAdjust="spacingAndGlyphs" font-weight="bold" font-size="10" fill="#111">30</text>
<line x1="557.4" y1="962.3" x2="557.4" y2="965.8" stroke="#2a2a2a" stroke-width="1.2"/>
<line x1="624.4" y1="962.3" x2="624.4" y2="965.8" stroke="#2a2a2a" stroke-width="1.2"/>
<rect x="540.5" y="879.0" width="33.4" height="83.3" fill="#fff" stroke="#3a3a3a" stroke-width="1.1"/>
<line x1="557.2" y1="879.0" x2="557.2" y2="872.3" stroke="#222" stroke-width="1.4"/>
<line x1="548.4" y1="872.3" x2="566.0" y2="872.3" stroke="#222" stroke-width="1.4"/>
<rect x="607.9" y="852.1" width="32.7" height="110.2" fill="#7f7f7f" stroke="#3a3a3a" stroke-width="1.1"/>
<line x1="624.2" y1="852.1" x2="624.2" y2="844.5" stroke="#222" stroke-width="1.4"/>
<line x1="615.5" y1="844.5" x2="633.0" y2="844.5" stroke="#222" stroke-width="1.4"/>
<text x="577.2" y="838.6" textLength="28.3" lengthAdjust="spacingAndGlyphs" font-weight="bold" font-size="12.3" fill="#111">PC-9</text>
<text x="625.0" y="840.4" text-anchor="middle" font-size="12" font-weight="bold" fill="#111">**</text>
<text x="534.4" y="980.7" textLength="42.4" lengthAdjust="spacingAndGlyphs" font-weight="bold" font-size="9.3" fill="#111">siRNA NC</text>
<text x="585.9" y="980.7" textLength="68.8" lengthAdjust="spacingAndGlyphs" font-weight="bold" font-size="9.3" fill="#111">Sortilin-1 siRNA</text>
<text transform="translate(500.5,942.1) rotate(-90)" x="0" y="0" textLength="94.0" lengthAdjust="spacingAndGlyphs" font-weight="bold" font-size="10.5" fill="#111">Apoptosis rate (%)</text>
</svg></body></html>
